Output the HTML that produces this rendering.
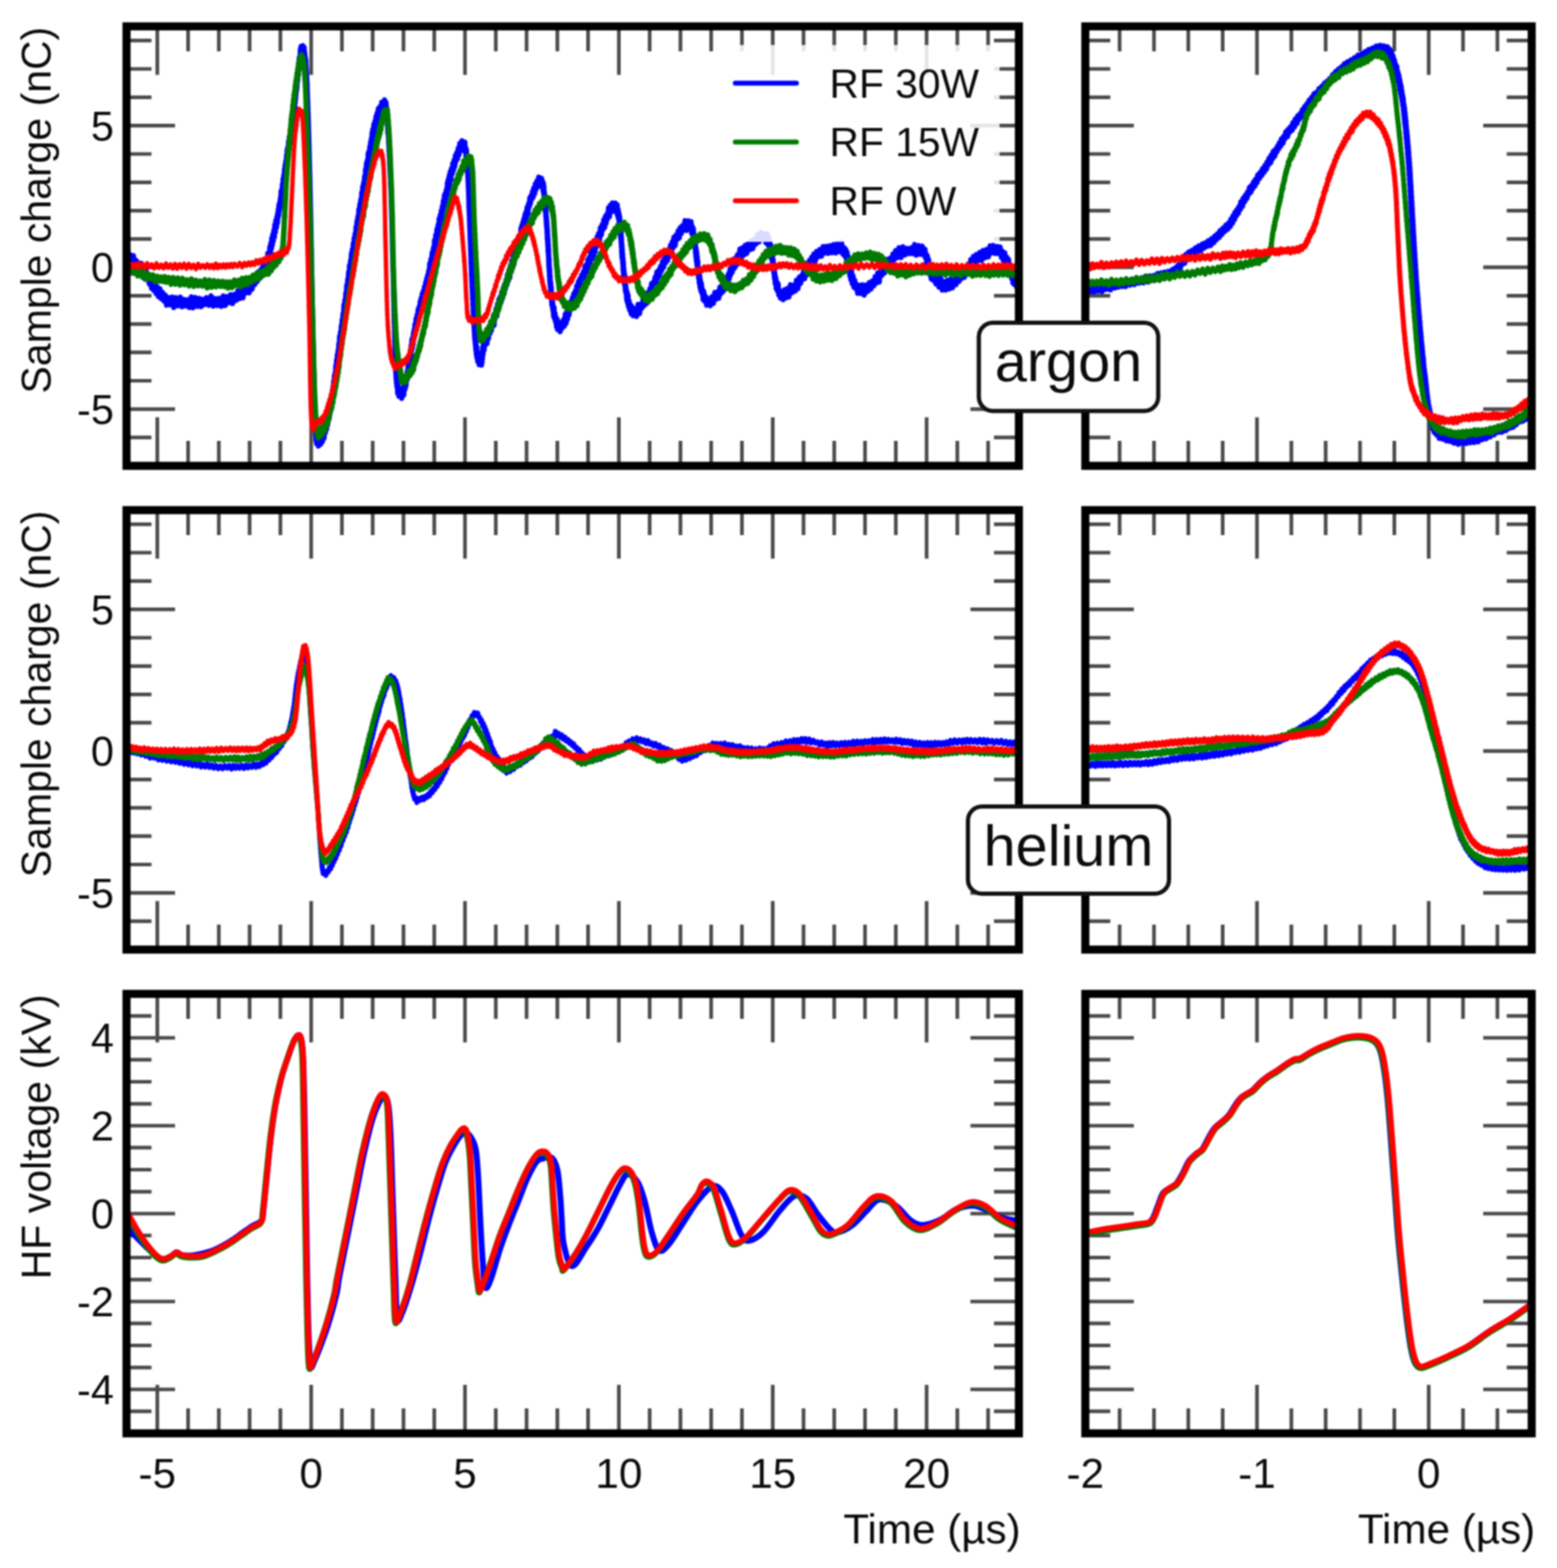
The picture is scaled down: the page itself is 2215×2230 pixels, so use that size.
<!DOCTYPE html><html><head><meta charset="utf-8"><style>html,body{margin:0;padding:0;background:#fff;overflow:hidden}#w{filter:blur(1px)}svg{display:block;font-family:"Liberation Sans",Arial,sans-serif;fill:#111}text{fill:#0a0a0a}</style></head><body><div id="w"><svg width="2215" height="2230" viewBox="0 0 2215 2230">
<rect width="100%" height="100%" fill="#fff"/>
<clipPath id="c0L"><rect x="180.0" y="37.5" width="1269.5" height="625.0"/></clipPath>
<path d="M223.8,37.5v69.0M223.8,662.5v-69.0M267.6,37.5v35.5M267.6,662.5v-35.5M311.3,37.5v35.5M311.3,662.5v-35.5M355.1,37.5v35.5M355.1,662.5v-35.5M398.9,37.5v35.5M398.9,662.5v-35.5M442.7,37.5v69.0M442.7,662.5v-69.0M486.4,37.5v35.5M486.4,662.5v-35.5M530.2,37.5v35.5M530.2,662.5v-35.5M574.0,37.5v35.5M574.0,662.5v-35.5M617.8,37.5v35.5M617.8,662.5v-35.5M661.5,37.5v69.0M661.5,662.5v-69.0M705.3,37.5v35.5M705.3,662.5v-35.5M749.1,37.5v35.5M749.1,662.5v-35.5M792.9,37.5v35.5M792.9,662.5v-35.5M836.6,37.5v35.5M836.6,662.5v-35.5M880.4,37.5v69.0M880.4,662.5v-69.0M924.2,37.5v35.5M924.2,662.5v-35.5M968.0,37.5v35.5M968.0,662.5v-35.5M1011.7,37.5v35.5M1011.7,662.5v-35.5M1055.5,37.5v35.5M1055.5,662.5v-35.5M1099.3,37.5v69.0M1099.3,662.5v-69.0M1143.1,37.5v35.5M1143.1,662.5v-35.5M1186.8,37.5v35.5M1186.8,662.5v-35.5M1230.6,37.5v35.5M1230.6,662.5v-35.5M1274.4,37.5v35.5M1274.4,662.5v-35.5M1318.2,37.5v69.0M1318.2,662.5v-69.0M1361.9,37.5v35.5M1361.9,662.5v-35.5M1405.7,37.5v35.5M1405.7,662.5v-35.5M180.0,622.2h35.5M1449.5,622.2h-35.5M180.0,581.9h69.0M1449.5,581.9h-69.0M180.0,541.5h35.5M1449.5,541.5h-35.5M180.0,501.2h35.5M1449.5,501.2h-35.5M180.0,460.9h35.5M1449.5,460.9h-35.5M180.0,420.6h35.5M1449.5,420.6h-35.5M180.0,380.2h69.0M1449.5,380.2h-69.0M180.0,339.9h35.5M1449.5,339.9h-35.5M180.0,299.6h35.5M1449.5,299.6h-35.5M180.0,259.3h35.5M1449.5,259.3h-35.5M180.0,219.0h35.5M1449.5,219.0h-35.5M180.0,178.6h69.0M1449.5,178.6h-69.0M180.0,138.3h35.5M1449.5,138.3h-35.5M180.0,98.0h35.5M1449.5,98.0h-35.5M180.0,57.7h35.5M1449.5,57.7h-35.5" stroke="#4a4a4a" stroke-width="5.2" fill="none" stroke-linecap="butt"/>
<g clip-path="url(#c0L)" fill="none" stroke-linejoin="round" stroke-linecap="round">
<path d="M180.0,366.1L181.8,355.5L183.7,369.8L185.6,362.6L187.7,374.1L189.8,363.6L191.7,378.8L193.7,370.3L195.7,382.0L197.7,373.9L199.7,384.4L201.2,374.7L202.8,391.5L204.4,381.8L206.0,396.3L207.6,384.6L209.2,397.7L210.9,391.2L212.5,403.7L214.1,397.2L215.7,410.0L217.3,397.8L219.0,413.1L220.6,402.2L222.3,417.6L223.9,408.3L225.5,421.7L227.5,410.8L229.4,424.8L231.3,416.0L233.2,427.9L235.0,419.6L237.0,433.9L239.3,423.2L242.1,433.5L244.8,422.5L247.3,437.3L250.1,423.2L253.2,434.8L256.5,422.5L259.1,436.3L261.7,426.0L264.3,435.2L266.9,426.3L269.6,437.3L272.2,422.3L274.7,437.6L277.9,423.1L281.2,435.7L283.7,424.4L286.2,436.1L288.8,425.8L291.3,433.2L293.8,423.3L297.1,434.1L300.3,420.9L303.4,435.3L306.3,424.7L309.1,434.5L311.7,424.3L314.8,435.7L317.6,421.0L320.4,434.4L323.1,421.9L325.6,430.4L328.2,419.1L330.8,431.7L333.4,418.9L335.9,427.2L338.4,413.8L340.8,424.6L343.2,411.1L345.6,423.5L347.9,407.6L350.1,416.4L352.3,403.1L354.4,416.5L356.5,399.4L358.5,411.4L360.5,398.8L362.4,404.7L364.3,391.5L366.1,400.3L367.9,386.4L369.6,395.9L371.3,383.2L372.9,390.8L374.2,377.5L375.5,388.2L376.7,374.3L377.9,382.3L379.0,368.1L380.1,377.3L381.1,360.2L381.9,370.8L382.6,359.2L383.3,368.0L384.0,351.0L384.7,359.4L385.4,345.8L386.1,353.3L386.7,338.6L387.4,348.3L388.1,333.7L388.8,342.6L389.6,328.0L390.3,337.1L391.0,319.8L391.7,330.0L392.4,313.7L393.2,323.2L393.9,308.7L394.6,317.3L395.1,303.5L395.6,309.5L396.0,297.5L396.5,305.7L397.0,291.0L397.5,298.9L398.0,288.1L398.4,294.5L398.9,282.1L399.4,289.0L399.9,272.2L400.4,284.1L400.9,269.7L401.3,277.0L401.8,262.3L402.3,271.2L402.8,254.5L403.3,262.9L403.8,249.3L404.3,255.1L404.8,241.1L405.2,248.8L405.7,234.3L406.2,245.3L406.7,229.2L407.2,237.5L407.7,221.0L408.1,230.4L408.6,213.3L409.1,221.7L409.6,209.3L410.1,215.8L410.6,201.1L411.1,211.7L411.6,194.8L412.2,204.5L412.7,191.7L413.2,195.9L413.7,183.3L414.1,193.3L414.6,178.2L415.1,183.6L415.6,168.1L416.0,178.4L416.5,163.2L416.9,173.3L417.3,156.0L417.7,167.5L418.1,149.9L418.5,159.5L418.8,143.3L419.2,155.6L419.5,139.7L419.8,146.5L420.2,134.7L420.5,140.1L420.8,127.8L421.1,134.2L421.4,121.3L421.7,129.3L422.0,114.4L422.3,125.0L422.6,111.5L422.9,116.8L423.2,104.0L423.4,114.3L423.9,96.9L424.4,107.0L424.8,89.8L425.3,97.5L425.7,82.8L426.1,94.4L426.6,79.7L427.0,85.0L427.4,69.8L427.9,79.5L428.4,66.1L429.1,73.7L430.8,65.0L431.9,76.9L432.6,67.4L433.1,82.4L433.5,74.7L433.9,91.2L434.3,81.0L434.7,93.9L435.0,85.5L435.3,102.8L435.5,95.8L435.7,106.3L435.9,101.7L436.1,114.3L436.2,107.4L436.4,120.2L436.5,112.0L436.7,128.0L436.8,117.8L437.0,133.1L437.1,127.3L437.3,141.9L437.4,136.2L437.5,150.8L437.7,144.0L437.8,161.2L438.0,152.7L438.1,167.9L438.3,161.1L438.4,177.9L438.5,167.5L438.5,183.9L438.6,171.9L438.7,186.6L438.8,176.9L438.9,191.3L439.0,185.7L439.0,199.2L439.1,189.1L439.2,205.4L439.3,194.5L439.4,211.5L439.5,202.4L439.5,218.9L439.6,207.4L439.7,224.0L439.8,215.2L439.9,228.5L439.9,219.9L440.0,236.7L440.1,227.0L440.2,240.8L440.3,234.2L440.4,250.5L440.4,242.1L440.5,256.6L440.6,246.7L440.7,263.9L440.8,254.0L440.9,269.3L440.9,261.0L441.0,275.4L441.1,267.9L441.2,283.4L441.3,277.2L441.4,290.4L441.4,282.3L441.5,300.9L441.6,289.6L441.7,304.6L441.8,298.6L441.8,312.4L441.9,305.3L442.0,320.1L442.1,312.9L442.2,327.8L442.2,320.4L442.3,337.4L442.4,328.4L442.5,345.1L442.6,339.9L442.6,352.4L442.7,347.1L442.8,362.8L442.9,354.0L443.0,369.3L443.0,363.3L443.1,378.1L443.2,372.8L443.3,389.1L443.4,378.4L443.4,396.9L443.5,389.7L443.6,402.8L443.7,397.9L443.8,412.7L443.8,404.8L443.9,420.4L444.0,412.6L444.1,426.3L444.2,422.4L444.2,434.6L444.3,429.5L444.4,445.6L444.5,435.1L444.6,449.8L444.6,445.7L444.7,458.5L444.8,451.3L444.9,465.3L445.0,457.3L445.0,475.3L445.1,466.4L445.2,480.9L445.3,472.6L445.4,486.9L445.4,482.1L445.5,493.8L445.6,486.9L445.7,503.6L445.8,496.4L445.8,512.0L445.9,503.9L446.0,518.4L446.1,508.0L446.2,522.4L446.3,515.5L446.3,529.2L446.4,525.1L446.5,536.4L446.6,528.1L446.7,543.7L446.7,536.8L446.8,550.8L446.9,542.4L447.0,558.4L447.1,547.9L447.1,561.6L447.2,553.7L447.3,566.9L447.4,561.2L447.5,574.5L447.5,565.1L447.6,580.3L447.7,571.9L447.8,585.2L448.0,580.4L448.1,593.6L448.3,586.3L448.4,604.1L448.5,596.0L448.7,610.3L448.8,602.0L448.9,614.5L449.1,607.4L449.3,619.1L449.5,612.2L449.7,626.6L450.1,615.9L450.5,630.9L451.3,623.4L453.1,634.3L454.7,621.0L456.1,631.8L457.2,618.7L458.6,628.3L459.7,612.3L460.9,623.2L461.9,607.6L462.9,615.3L463.8,601.4L464.6,610.1L465.4,598.4L466.0,604.1L466.6,593.3L467.2,598.5L467.8,586.7L468.4,594.4L469.0,577.7L469.6,586.7L470.2,571.8L470.8,582.3L471.2,568.6L471.6,574.2L472.0,562.8L472.5,568.7L472.9,555.3L473.4,563.4L473.8,550.1L474.3,556.4L474.8,542.2L475.3,553.5L475.8,534.6L476.2,545.0L476.8,530.6L477.3,535.1L477.8,520.2L478.3,530.7L478.8,512.6L479.4,520.1L479.9,504.7L480.4,513.1L481.0,498.7L481.5,504.9L482.1,489.1L482.7,494.5L483.2,478.3L483.8,487.5L484.4,472.4L485.0,477.3L485.6,463.4L486.2,469.2L486.8,455.0L487.4,459.0L488.1,445.9L488.7,451.4L489.4,433.4L490.0,441.7L490.7,427.0L491.3,430.6L492.0,417.0L492.7,423.7L493.3,405.9L494.0,413.0L494.7,397.6L495.3,402.5L496.0,387.3L496.7,396.9L497.3,377.3L498.0,387.4L498.7,370.9L499.3,378.0L500.0,360.5L500.6,367.9L501.3,354.7L502.0,364.1L502.6,346.4L503.3,356.1L504.0,338.5L504.6,344.4L505.3,332.3L506.0,337.3L506.6,322.7L507.3,329.0L508.0,314.1L508.6,322.5L509.3,307.8L510.0,314.1L510.6,297.8L511.3,307.4L512.0,290.4L512.6,297.9L513.3,283.8L514.0,292.1L514.7,274.0L515.4,283.9L516.0,265.8L516.7,273.1L517.4,259.9L518.1,264.6L518.7,251.2L519.4,260.0L520.1,241.2L520.7,248.1L521.4,232.2L522.0,241.7L522.7,227.9L523.3,235.9L523.9,218.1L524.5,226.1L525.1,215.3L525.7,221.6L526.2,208.6L526.8,215.7L527.3,202.1L527.8,211.2L528.4,196.9L528.9,204.7L529.4,188.7L529.9,201.0L530.4,184.0L531.2,193.6L531.9,177.1L532.7,187.3L533.4,172.6L534.2,179.7L535.0,165.4L535.8,176.9L536.6,160.7L537.5,170.9L538.3,154.4L539.5,165.0L540.6,152.0L541.7,158.5L543.1,145.6L544.8,154.2L547.2,142.1L548.4,158.6L549.1,146.1L549.6,164.3L549.9,152.2L550.3,168.0L550.6,159.0L550.9,171.9L551.1,165.9L551.4,179.6L551.7,170.4L551.9,189.1L552.2,181.1L552.5,193.5L552.7,186.6L553.0,204.2L553.3,197.2L553.5,214.6L553.8,208.7L553.9,222.1L554.0,211.7L554.2,225.8L554.3,216.7L554.4,231.3L554.5,224.3L554.7,238.4L554.8,229.4L554.9,242.9L555.0,232.3L555.1,246.5L555.3,238.5L555.4,251.4L555.5,243.8L555.6,255.6L555.7,248.9L555.8,264.3L555.9,252.3L556.1,269.2L556.2,262.7L556.3,274.2L556.4,265.4L556.5,278.8L556.6,269.5L556.6,284.2L556.7,277.7L556.8,291.0L556.9,279.6L557.0,295.2L557.0,286.0L557.1,303.0L557.2,290.7L557.3,308.4L557.3,298.2L557.4,311.1L557.5,303.8L557.5,315.6L557.6,309.0L557.7,323.6L557.7,313.2L557.8,328.1L557.9,320.5L557.9,331.2L558.0,324.3L558.1,337.5L558.1,327.9L558.2,345.2L558.2,335.0L558.3,347.7L558.4,338.5L558.4,357.0L558.5,343.7L558.6,362.3L558.6,351.3L558.7,365.5L558.8,356.2L558.8,370.4L558.9,362.6L559.0,376.1L559.0,365.3L559.1,381.6L559.2,372.4L559.2,386.2L559.3,376.7L559.4,390.9L559.4,381.5L559.5,396.2L559.6,388.6L559.6,402.2L559.7,393.5L559.8,407.7L559.8,402.5L559.9,416.5L560.0,406.6L560.0,421.3L560.1,413.0L560.2,427.7L560.2,415.6L560.3,430.4L560.4,420.7L560.4,436.5L560.5,426.3L560.5,441.9L560.6,433.1L560.7,449.2L560.7,439.7L560.8,451.9L560.9,445.1L560.9,458.9L561.1,449.4L561.2,466.3L561.3,462.7L561.4,475.7L561.6,468.4L561.7,486.7L561.8,478.0L561.9,491.3L562.0,485.5L562.1,500.2L562.2,492.1L562.3,509.0L562.4,500.1L562.5,514.4L562.6,505.0L562.7,520.2L562.8,514.8L563.0,528.9L563.1,521.3L563.2,532.0L563.4,523.6L563.5,537.9L563.8,531.9L564.1,544.8L564.4,536.5L564.8,550.1L565.2,541.9L565.8,559.0L566.4,549.9L567.5,563.5L569.0,552.3L571.5,566.5L573.3,551.9L574.4,561.6L575.2,544.5L576.1,553.6L576.8,541.4L577.5,548.9L578.2,534.9L578.7,540.5L579.3,528.8L579.8,534.2L580.4,522.6L580.9,530.2L581.5,515.9L582.1,521.2L582.6,505.5L583.2,515.6L583.8,498.9L584.4,508.7L585.0,491.2L585.5,498.1L586.1,483.0L586.6,494.7L587.2,480.0L587.7,489.3L588.3,473.6L588.8,482.7L589.3,468.9L589.8,477.6L590.3,461.6L591.1,470.0L591.9,453.5L592.6,463.6L593.4,448.0L594.1,456.2L594.9,440.4L595.6,452.7L596.3,436.4L597.0,446.7L597.8,429.0L598.5,438.4L599.1,424.2L599.9,433.6L600.7,418.0L601.5,428.8L602.3,413.8L603.1,421.7L604.0,407.7L604.7,417.7L605.5,402.1L606.4,409.0L607.0,396.4L607.7,404.8L608.3,391.8L609.1,397.8L609.8,385.4L610.6,390.4L611.4,374.7L612.2,383.2L613.1,368.4L613.9,376.2L614.8,359.6L615.7,366.0L616.6,352.8L617.4,358.3L618.3,341.8L619.2,349.1L620.0,334.2L620.9,340.5L621.7,326.0L622.5,335.9L623.3,320.1L624.1,328.1L624.8,311.0L625.6,318.3L626.4,305.8L627.1,315.5L627.9,299.6L628.6,309.1L629.3,293.6L630.1,298.6L630.8,285.8L631.5,293.5L632.3,277.7L633.0,288.7L633.7,274.8L634.4,281.7L635.1,269.9L635.8,276.9L636.5,260.1L637.1,271.0L637.8,255.2L638.5,267.0L639.1,250.1L639.8,261.4L640.4,244.8L641.4,255.9L642.3,239.8L643.3,247.1L644.2,232.5L645.1,242.0L646.0,228.0L646.9,236.4L647.8,221.5L648.6,229.6L649.7,217.6L650.8,225.9L651.9,211.0L652.9,220.2L654.2,203.9L655.7,214.3L657.3,200.3L659.7,214.2L661.2,202.3L662.0,215.6L662.6,210.6L663.1,224.5L663.5,213.3L663.9,230.5L664.2,219.4L664.5,234.2L664.8,225.2L665.0,241.3L665.2,232.2L665.4,247.0L665.5,238.9L665.7,252.6L665.9,245.3L666.0,259.1L666.2,252.2L666.3,267.1L666.5,258.3L666.6,274.0L666.7,268.9L666.9,282.1L667.0,276.9L667.1,293.7L667.3,284.6L667.4,300.2L667.6,292.1L667.7,306.0L667.9,301.2L668.0,315.3L668.2,307.2L668.3,324.1L668.5,315.0L668.6,331.1L668.8,323.1L668.9,340.2L669.1,334.6L669.2,348.0L669.4,341.2L669.5,355.7L669.7,348.4L669.8,363.5L670.0,357.2L670.1,375.9L670.3,366.1L670.5,381.3L670.6,375.5L670.8,392.0L671.0,383.1L671.2,400.7L671.4,391.5L671.6,409.1L671.8,400.7L672.0,417.4L672.2,409.6L672.4,426.1L672.6,420.2L672.8,434.0L673.0,426.1L673.2,444.3L673.4,436.9L673.6,452.2L673.8,443.8L674.1,461.2L674.3,450.3L674.5,465.9L674.7,460.9L674.9,473.3L675.1,463.8L675.3,480.1L675.5,471.5L675.7,484.6L676.0,479.2L676.3,490.4L676.6,484.8L676.9,496.9L677.2,490.2L677.7,504.1L678.1,493.2L678.5,508.6L679.1,501.5L679.7,513.7L680.5,504.5L681.6,518.5L683.4,510.7L684.9,519.2L685.4,506.7L685.6,516.0L685.9,500.8L686.3,510.5L686.6,494.2L687.1,504.4L687.8,488.1L688.6,498.0L689.6,484.0L690.7,490.4L691.9,479.1L692.8,488.5L693.8,470.7L694.8,481.4L695.8,468.3L696.9,474.6L697.9,464.1L698.9,470.4L699.9,458.8L700.8,464.4L701.8,450.6L702.8,462.4L703.8,447.7L704.8,452.3L705.8,439.3L706.8,449.2L707.8,432.6L708.9,441.1L709.9,425.5L710.9,434.5L711.9,422.1L712.9,429.6L713.9,415.2L714.9,423.9L716.0,409.5L717.0,417.9L718.0,404.3L719.0,410.5L720.0,398.6L721.0,405.2L722.0,390.5L723.0,399.3L724.1,384.2L725.1,395.0L726.1,378.2L727.1,386.2L728.1,371.3L729.1,381.1L730.1,364.7L731.2,375.6L732.2,356.3L733.2,367.5L734.2,350.9L735.2,358.9L735.9,345.6L736.6,354.4L737.2,339.0L738.2,349.7L739.3,334.8L740.3,340.7L741.3,324.3L742.0,337.1L742.7,320.1L743.4,329.2L744.1,315.6L744.8,323.9L745.5,311.1L746.2,321.2L746.9,305.6L747.6,313.8L748.2,301.9L748.9,309.0L749.9,295.0L750.9,305.1L751.9,290.1L752.8,294.5L753.7,281.7L754.6,289.3L755.4,278.8L756.5,283.5L757.5,272.5L758.5,280.2L759.4,267.6L760.6,275.5L761.6,261.7L762.8,268.9L763.9,257.6L765.1,265.6L766.4,251.9L768.4,260.2L770.4,253.5L771.4,265.6L772.1,258.4L772.6,271.1L773.0,260.7L773.4,274.4L773.7,265.2L774.0,283.8L774.4,273.4L774.7,289.5L775.0,280.0L775.3,294.0L775.6,287.9L775.9,301.2L776.2,291.1L776.5,307.4L776.7,300.0L777.0,313.0L777.2,307.5L777.4,319.8L777.7,312.6L777.9,325.3L778.1,317.8L778.3,332.2L778.5,324.2L778.6,339.2L778.8,327.2L779.0,343.7L779.2,336.4L779.4,350.1L779.6,340.3L779.8,358.3L780.0,347.6L780.2,363.0L780.4,354.4L780.6,373.0L780.7,363.5L780.9,379.8L781.1,368.2L781.3,384.9L781.5,379.7L781.8,393.4L782.0,383.0L782.2,401.3L782.5,392.8L782.7,406.4L783.0,399.8L783.3,412.5L783.5,403.4L783.8,420.6L784.1,408.9L784.4,424.8L784.7,418.7L785.1,433.1L785.4,423.7L785.7,435.6L786.1,429.3L786.5,440.7L787.0,435.2L787.6,449.7L788.1,437.3L788.9,453.1L789.6,446.0L790.3,457.2L791.1,452.1L791.8,464.7L792.5,453.8L793.3,468.5L794.4,460.5L796.9,471.7L798.6,458.5L800.1,466.2L801.7,454.7L803.0,463.5L804.2,447.0L805.4,459.6L806.4,443.2L807.4,453.7L808.5,438.6L809.5,447.8L810.5,431.7L811.5,441.1L812.5,428.7L813.5,438.2L814.4,423.3L815.3,431.0L816.3,418.0L817.3,426.3L818.4,414.2L819.5,423.1L820.5,406.8L821.7,418.2L823.0,400.5L824.0,412.6L825.1,396.5L826.3,405.6L827.5,391.4L828.8,398.8L829.9,386.9L831.0,396.5L832.2,379.3L833.5,389.1L834.5,376.3L835.5,384.4L836.5,369.3L837.6,380.8L838.6,366.0L839.7,373.4L840.9,358.1L842.0,368.1L843.1,353.0L844.2,364.2L845.4,348.1L846.5,358.3L847.6,342.5L848.6,350.6L849.6,336.8L850.6,347.7L851.6,332.3L852.9,341.9L854.2,324.1L855.5,334.0L856.7,319.4L857.9,326.5L859.0,312.7L860.2,323.3L861.2,308.0L862.3,317.5L863.3,305.0L864.6,311.0L865.8,295.4L867.0,308.0L868.3,292.1L869.8,301.5L871.3,288.7L873.2,298.1L875.5,288.8L876.9,302.1L877.9,291.2L878.7,306.6L879.3,298.0L879.9,311.2L880.4,303.1L881.0,316.6L881.4,307.9L881.8,320.9L882.1,316.7L882.5,328.4L882.8,321.5L883.0,338.2L883.2,325.2L883.4,340.6L883.6,332.0L883.8,345.2L884.0,338.1L884.1,351.3L884.3,344.6L884.5,359.9L884.7,348.3L884.9,366.2L885.1,353.8L885.3,368.3L885.6,360.7L885.9,374.7L886.2,367.5L886.5,384.6L886.8,373.5L887.1,390.3L887.4,382.2L887.7,396.8L888.0,387.4L888.3,402.6L888.6,391.9L888.9,406.2L889.3,401.1L889.7,413.3L890.1,405.3L890.5,416.6L891.0,412.1L891.6,426.4L892.2,416.0L892.8,430.7L893.4,419.8L894.1,435.8L894.9,428.3L895.8,440.8L896.9,433.5L897.9,446.1L899.1,436.2L900.8,448.9L903.3,439.6L905.5,450.0L907.8,433.0L909.8,446.1L911.5,432.5L913.3,438.1L915.1,424.9L916.9,434.3L918.7,421.0L920.4,431.3L922.0,416.4L923.3,426.4L924.5,411.0L925.7,421.0L926.9,403.6L928.2,415.0L929.4,401.5L930.6,410.3L931.9,394.5L933.1,402.4L934.4,387.3L935.7,396.2L937.0,384.5L938.3,392.0L939.7,378.9L941.1,385.1L942.5,372.1L943.9,380.6L945.4,367.5L946.8,374.1L948.3,361.5L949.7,370.5L951.1,355.3L952.5,365.0L953.9,349.1L955.2,359.9L956.4,344.0L957.6,352.2L958.8,337.4L960.4,349.2L961.9,334.3L963.4,340.8L964.8,328.4L966.2,338.6L967.6,323.9L969.2,332.3L970.8,321.1L972.6,327.3L974.6,313.9L976.7,327.7L979.2,314.1L981.5,324.6L983.0,315.2L984.1,331.7L985.0,322.6L985.7,337.6L986.3,325.4L987.0,342.8L987.6,334.4L988.0,346.0L988.4,338.3L988.8,351.4L989.1,344.8L989.5,359.5L989.8,351.6L990.1,365.3L990.4,354.8L990.7,371.4L991.1,359.0L991.5,376.7L991.8,365.1L992.2,382.5L992.6,371.7L993.0,387.6L993.5,380.3L993.9,395.6L994.4,384.6L994.8,402.4L995.3,391.9L995.9,408.7L996.4,398.5L997.0,413.4L997.8,403.5L998.6,417.0L999.5,412.0L1000.3,426.1L1001.2,415.1L1002.2,428.0L1003.5,421.1L1005.3,434.0L1007.8,425.1L1010.3,434.8L1012.7,422.3L1014.8,431.6L1017.0,416.1L1019.2,425.3L1020.8,415.0L1022.5,424.0L1024.2,408.4L1025.8,417.6L1027.5,404.3L1029.0,414.3L1030.6,401.4L1032.2,406.1L1033.8,393.9L1035.4,403.7L1036.4,389.6L1037.5,396.2L1038.6,382.7L1039.6,390.6L1040.7,379.3L1041.7,386.8L1043.3,370.5L1044.8,381.4L1046.3,367.1L1047.8,377.1L1049.2,362.4L1051.0,369.1L1052.7,354.3L1054.4,367.3L1056.3,352.4L1058.3,362.8L1060.2,349.0L1062.3,360.5L1064.4,346.5L1066.8,355.1L1068.8,342.7L1070.9,353.7L1073.2,340.0L1075.4,347.2L1077.7,333.9L1079.9,344.0L1082.5,330.6L1084.8,339.8L1087.6,332.6L1089.6,345.1L1091.3,332.6L1092.6,347.7L1093.5,337.6L1094.3,354.8L1095.2,343.5L1096.0,357.5L1096.8,349.5L1097.4,367.0L1097.9,357.4L1098.4,370.7L1098.9,364.2L1099.3,376.5L1099.8,369.5L1100.2,382.9L1100.6,377.4L1101.0,388.9L1101.4,380.6L1101.8,395.6L1102.3,389.1L1102.8,402.9L1103.6,395.0L1104.3,410.3L1105.2,401.6L1106.0,413.5L1106.9,403.8L1108.0,419.4L1109.0,413.4L1110.3,423.9L1111.8,416.5L1114.1,426.0L1115.9,412.2L1117.9,423.8L1119.9,410.5L1122.3,422.4L1124.6,405.0L1127.0,416.1L1129.1,405.7L1131.1,413.9L1133.1,398.8L1135.1,410.7L1137.0,394.4L1138.9,402.9L1140.3,392.0L1141.7,397.7L1143.1,386.2L1144.6,396.3L1146.0,380.8L1147.4,391.2L1148.8,374.4L1150.2,384.6L1151.6,370.4L1152.9,380.3L1154.7,365.9L1156.3,373.0L1157.9,361.3L1159.9,371.1L1161.8,357.8L1164.0,365.2L1166.1,355.1L1168.6,364.3L1171.0,350.7L1173.3,359.9L1175.8,350.3L1178.3,360.3L1180.9,349.5L1183.5,359.3L1186.2,347.8L1188.9,359.8L1191.7,345.6L1194.4,358.0L1197.1,344.7L1199.3,361.4L1200.8,352.1L1202.1,364.3L1203.1,354.7L1204.0,367.5L1204.9,358.4L1205.7,373.6L1206.4,364.3L1207.1,380.5L1207.6,373.2L1208.1,383.1L1208.6,377.0L1209.1,392.4L1209.7,383.0L1210.5,397.6L1211.4,384.8L1212.4,403.3L1213.5,392.4L1214.7,408.2L1215.9,398.6L1217.1,410.2L1218.5,404.4L1220.2,417.1L1222.2,405.7L1224.5,417.3L1227.0,405.1L1229.5,419.7L1232.0,405.6L1234.5,414.4L1236.7,402.0L1239.0,411.2L1241.0,399.9L1243.1,406.4L1245.1,393.6L1246.9,402.6L1248.8,388.3L1250.7,401.0L1252.7,382.6L1254.7,391.7L1256.6,381.2L1258.5,388.0L1260.3,372.9L1262.0,384.1L1263.6,368.8L1265.3,379.3L1266.9,367.0L1268.7,375.2L1270.4,361.2L1272.2,369.0L1274.2,356.5L1276.5,366.4L1279.0,352.4L1281.8,366.3L1284.6,351.0L1287.5,362.5L1290.4,353.4L1293.3,360.7L1296.1,352.5L1298.6,360.7L1301.1,347.9L1303.6,362.8L1306.6,349.2L1309.3,361.6L1312.0,350.1L1314.2,362.8L1315.8,354.4L1316.9,367.2L1317.8,361.6L1318.5,374.7L1319.2,364.3L1320.1,378.9L1320.9,369.2L1321.6,383.5L1322.2,377.3L1322.9,390.5L1323.7,379.8L1324.8,396.4L1326.2,387.6L1327.8,398.7L1329.6,388.7L1331.6,403.8L1333.7,393.3L1335.8,408.3L1338.1,395.4L1340.5,412.6L1342.8,400.5L1345.2,412.5L1347.9,398.6L1350.4,410.9L1352.8,396.7L1355.0,409.3L1357.4,392.4L1359.9,404.8L1362.4,389.9L1364.4,400.2L1366.3,389.7L1368.2,395.8L1370.1,386.1L1371.9,394.4L1373.7,380.5L1375.6,389.1L1377.5,375.9L1379.3,381.8L1381.1,369.2L1383.0,379.7L1384.9,364.7L1386.7,377.1L1389.1,362.0L1391.5,370.2L1393.9,359.0L1396.3,370.5L1398.7,356.3L1401.0,366.6L1403.6,354.9L1406.0,365.3L1408.5,349.8L1410.7,359.8L1413.1,349.1L1415.9,360.4L1418.6,350.6L1420.8,360.7L1422.7,351.2L1424.7,366.2L1426.2,357.4L1427.8,372.3L1429.3,359.8L1430.7,375.8L1432.1,365.7L1433.6,379.2L1434.7,369.0L1435.7,384.1L1436.6,376.8L1437.5,388.4L1438.4,382.0L1439.2,395.9L1440.0,387.6L1441.1,402.6L1442.2,389.4L1443.4,404.8L1445.0,397.3L1446.6,408.8L1448.2,398.4L1449.8,412.3L1451.5,406.2L1451.5,416.0" stroke="#0000ff" stroke-width="7.5"/>
<path d="M180.0,388.6L182.6,378.5L185.2,388.6L187.6,379.3L190.5,388.9L193.2,383.5L196.0,392.3L199.0,385.6L202.1,393.8L205.2,385.2L208.3,397.5L211.4,389.7L214.4,396.6L217.4,390.9L220.6,400.5L223.8,393.0L227.0,399.9L229.5,393.9L232.0,400.5L234.4,393.4L236.9,401.5L240.2,394.7L243.4,404.4L246.6,394.7L249.8,404.2L253.0,395.3L256.2,405.5L259.4,395.8L262.7,405.0L265.9,397.9L269.1,406.7L272.3,396.5L275.5,407.3L278.7,398.5L281.9,406.5L285.1,399.6L288.3,406.9L291.5,397.7L294.8,409.5L298.0,398.3L301.2,408.5L304.4,399.1L307.6,407.9L310.8,399.9L314.2,407.4L316.7,400.1L319.3,407.6L321.9,401.0L324.4,409.7L326.9,400.8L330.2,409.0L333.4,398.4L336.4,406.1L339.2,398.5L341.8,408.4L344.6,395.8L347.2,405.7L350.0,395.0L352.6,404.3L355.2,394.5L357.8,401.5L360.2,391.3L362.7,399.0L365.2,388.5L367.7,396.9L370.3,386.4L372.7,393.2L375.1,384.9L377.3,390.6L379.8,381.2L382.0,389.9L384.1,378.0L386.0,385.2L387.8,373.9L389.5,380.1L391.2,370.5L392.9,377.1L394.8,365.6L396.7,372.3L398.4,361.7L399.7,367.1L400.7,356.0L401.4,362.6L402.0,350.7L402.3,356.8L402.6,343.5L402.9,350.4L403.1,336.8L403.3,343.1L403.5,330.2L403.7,335.6L403.8,324.7L403.9,331.5L404.1,320.7L404.2,325.6L404.3,312.6L404.4,321.3L404.6,307.8L404.8,313.9L404.9,303.4L405.1,309.1L405.2,298.4L405.3,301.1L405.5,289.7L405.6,296.9L405.8,285.7L405.9,289.9L406.1,278.9L406.2,284.8L406.4,272.3L406.5,277.6L406.7,264.0L406.9,269.5L407.0,258.8L407.2,263.4L407.4,251.5L407.7,256.7L407.9,244.8L408.1,250.4L408.4,237.5L408.7,241.1L409.0,229.0L409.2,236.3L409.5,221.9L409.8,227.6L410.2,213.7L410.5,221.3L410.8,209.0L411.1,212.2L411.5,201.3L411.8,204.1L412.2,193.0L412.5,197.0L412.9,184.2L413.2,191.0L413.6,178.3L413.9,181.0L414.3,168.8L414.7,176.6L415.0,163.3L415.4,167.4L415.8,157.9L416.2,163.0L416.6,149.3L417.0,155.8L417.5,141.4L417.9,148.5L418.3,134.5L418.7,140.1L419.1,129.8L419.6,134.2L420.0,121.7L420.4,129.3L420.8,115.8L421.2,122.8L421.6,111.3L421.9,116.3L422.5,104.5L423.0,110.9L423.5,98.4L424.1,104.8L424.6,90.8L425.1,99.8L425.5,88.5L426.2,92.2L426.8,81.3L427.5,88.6L429.0,78.0L430.6,89.2L431.3,81.9L431.9,94.5L432.3,89.6L432.7,98.8L433.0,95.5L433.3,107.0L433.6,101.1L433.8,114.0L434.0,106.3L434.1,117.8L434.3,113.2L434.4,124.3L434.6,120.4L434.7,130.3L434.9,126.1L435.0,138.5L435.2,134.5L435.3,147.8L435.4,143.5L435.6,155.7L435.7,152.4L435.9,164.7L436.1,160.9L436.1,171.4L436.2,166.9L436.3,176.6L436.4,171.3L436.5,182.6L436.6,175.7L436.7,188.7L436.8,182.4L436.9,194.6L437.0,187.8L437.1,201.3L437.2,194.7L437.4,205.5L437.5,202.9L437.6,214.6L437.7,208.8L437.8,222.3L438.0,215.1L438.1,228.9L438.2,222.0L438.4,236.7L438.5,229.7L438.6,244.1L438.8,238.0L438.9,249.5L439.0,246.7L439.2,257.1L439.3,251.8L439.4,266.2L439.5,262.4L439.7,271.9L439.8,268.8L439.9,281.4L440.1,276.9L440.2,287.4L440.3,284.9L440.5,297.9L440.6,291.0L440.7,305.3L440.8,300.1L440.9,312.3L441.1,307.7L441.2,318.4L441.3,312.5L441.4,325.3L441.5,321.7L441.6,332.2L441.7,326.6L441.8,340.6L441.9,334.3L442.0,347.9L442.1,341.5L442.2,354.8L442.3,347.2L442.3,359.4L442.4,355.6L442.5,366.9L442.6,361.5L442.7,374.3L442.8,367.4L442.8,380.7L442.9,374.1L443.0,385.7L443.1,380.2L443.2,394.5L443.2,387.0L443.3,400.1L443.4,394.7L443.5,404.5L443.5,400.4L443.6,412.4L443.7,405.8L443.7,418.4L443.8,412.7L443.9,423.4L444.0,420.6L444.0,429.7L444.1,426.0L444.2,436.3L444.3,432.7L444.3,442.8L444.4,438.2L444.5,450.5L444.6,442.3L444.6,457.1L444.7,449.1L444.8,459.9L444.9,456.7L445.0,469.3L445.0,461.3L445.1,474.9L445.2,469.1L445.3,479.0L445.3,475.6L445.4,486.2L445.5,480.9L445.6,492.2L445.7,487.9L445.7,496.9L445.8,493.2L445.9,506.0L446.0,498.5L446.0,511.0L446.1,506.5L446.2,516.6L446.3,511.5L446.4,523.2L446.4,517.3L446.5,529.6L446.6,523.6L446.7,535.1L446.7,530.1L446.8,538.8L446.9,533.0L447.0,546.6L447.1,540.0L447.1,549.7L447.2,543.1L447.3,556.1L447.5,553.3L447.6,566.9L447.8,560.8L448.0,573.2L448.2,569.0L448.3,581.0L448.5,576.1L448.7,588.1L448.9,583.3L449.0,595.3L449.2,589.4L449.4,601.2L449.5,593.2L449.8,607.7L450.1,601.8L450.4,613.4L450.7,605.4L451.2,616.7L451.7,610.2L452.6,622.9L454.7,615.7L456.4,620.1L457.7,608.4L459.0,617.2L460.2,606.2L461.6,612.9L462.7,602.1L463.9,607.4L464.9,595.1L465.9,602.6L466.7,588.8L467.6,596.7L468.5,582.9L469.1,590.0L469.9,577.3L470.6,584.4L471.3,572.2L472.1,579.4L472.8,566.9L473.6,572.9L474.3,558.9L474.9,564.7L475.4,554.3L475.9,560.6L476.4,548.9L477.0,553.6L477.5,542.9L478.0,549.0L478.5,536.8L479.1,542.2L479.6,532.6L480.1,536.1L480.7,523.4L481.2,529.8L481.8,516.3L482.3,522.5L482.9,509.8L483.4,512.2L484.0,501.0L484.6,505.9L485.1,491.8L485.7,496.0L486.2,484.4L486.8,489.0L487.3,476.8L487.9,480.5L488.4,470.4L489.0,474.8L489.5,462.6L490.1,468.7L490.6,454.9L491.2,459.5L491.7,448.8L492.3,453.1L492.8,440.7L493.4,445.2L493.9,432.3L494.4,439.1L495.0,426.0L495.5,432.7L496.1,418.9L496.6,423.9L497.2,411.5L497.7,418.6L498.3,407.2L498.9,411.6L499.4,400.6L500.0,404.1L500.6,393.5L501.2,395.9L501.7,385.3L502.3,391.5L502.9,377.3L503.5,384.8L504.1,370.2L504.7,376.7L505.3,363.8L505.9,370.9L506.5,358.4L507.1,362.4L507.7,350.0L508.3,353.7L508.9,341.9L509.5,348.9L510.1,336.7L510.8,342.3L511.4,329.2L512.0,335.1L512.6,322.0L513.3,328.5L513.9,315.0L514.6,318.8L515.2,307.0L515.9,312.1L516.5,300.5L517.2,307.3L517.8,292.9L518.5,297.3L519.2,285.4L519.8,293.2L520.5,279.5L521.1,283.8L521.8,272.6L522.4,277.8L523.1,267.1L523.7,272.1L524.4,258.5L525.0,264.0L525.6,251.4L526.2,256.8L526.9,244.6L527.5,252.6L528.1,239.6L528.7,243.7L529.3,233.3L529.9,237.4L530.5,226.8L531.1,231.4L531.7,220.7L532.3,226.2L532.9,215.4L533.5,220.9L534.1,209.0L534.7,216.2L535.2,203.7L535.8,209.8L536.4,197.5L537.0,203.2L537.6,193.0L538.2,198.1L538.8,187.9L539.4,193.9L540.0,181.2L540.6,190.1L541.3,178.0L541.9,184.6L542.5,172.7L543.4,176.6L544.3,165.1L545.1,170.5L546.0,158.4L547.0,167.1L548.3,156.2L550.3,165.0L551.1,156.2L551.5,167.6L551.8,162.9L552.1,175.4L552.4,171.1L552.6,182.0L552.8,177.2L553.0,186.8L553.2,182.1L553.5,195.6L553.7,190.4L553.9,202.5L554.2,199.4L554.4,213.1L554.5,207.2L554.7,216.9L554.8,211.1L554.9,222.7L555.0,218.8L555.1,228.3L555.3,221.9L555.4,233.6L555.5,228.8L555.6,241.1L555.7,236.0L555.9,247.7L556.0,242.1L556.1,251.4L556.2,248.5L556.3,259.2L556.4,254.4L556.5,264.9L556.6,258.3L556.7,269.1L556.8,263.1L556.9,275.0L557.0,271.0L557.1,282.9L557.2,276.8L557.3,288.4L557.4,280.8L557.5,293.7L557.6,287.2L557.7,297.4L557.7,292.2L557.8,303.9L557.9,299.0L558.0,307.5L558.0,303.5L558.1,312.7L558.2,307.3L558.2,321.1L558.3,313.5L558.3,324.4L558.4,319.1L558.5,331.5L558.5,323.5L558.6,335.9L558.6,329.2L558.7,342.4L558.7,334.6L558.8,345.5L558.8,339.1L558.9,350.2L558.9,346.9L559.0,356.1L559.0,351.4L559.1,362.6L559.1,355.2L559.2,366.8L559.3,360.3L559.3,374.5L559.4,365.6L559.4,379.1L559.5,371.7L559.6,383.1L559.6,378.2L559.7,387.9L559.8,383.1L559.8,392.9L559.9,388.6L560.1,402.4L560.2,394.9L560.2,404.5L560.3,400.9L560.4,410.7L560.5,406.2L560.6,416.6L560.7,410.5L560.8,421.6L560.9,415.5L561.0,425.9L561.1,418.8L561.2,431.2L561.2,423.8L561.3,437.0L561.4,429.4L561.5,442.2L561.7,437.5L561.9,450.7L562.2,446.8L562.4,459.2L562.6,457.5L562.8,470.8L563.0,464.2L563.2,476.6L563.4,472.4L563.7,485.6L563.9,481.5L564.1,493.9L564.3,486.7L564.6,497.7L564.8,491.1L565.1,502.3L565.4,497.8L565.8,511.1L566.2,503.7L566.6,515.7L567.1,511.0L567.6,521.0L568.1,515.1L568.6,527.4L569.1,522.9L569.5,533.2L569.9,526.1L570.3,539.2L570.8,532.3L571.6,544.1L573.8,535.4L576.2,544.2L578.3,533.5L580.2,538.5L581.8,527.5L583.4,534.2L585.0,525.1L586.1,530.6L587.3,517.9L588.4,526.2L589.5,511.8L590.6,517.5L591.7,505.3L592.4,512.4L593.2,503.1L593.9,507.3L594.7,498.1L595.4,501.1L596.2,492.4L596.9,497.4L597.6,487.1L598.4,492.3L599.1,481.5L599.8,484.8L600.5,475.2L601.2,478.6L601.9,470.0L602.6,474.2L603.3,464.0L603.9,467.1L604.6,458.3L605.2,463.5L605.9,451.8L606.5,456.0L607.1,443.6L607.7,448.9L608.3,438.7L608.9,444.9L609.5,431.4L610.1,436.2L610.7,425.4L611.3,432.1L612.0,419.0L612.6,423.9L613.2,413.7L613.8,419.6L614.4,406.8L615.0,411.0L615.6,401.0L616.2,406.2L616.8,392.9L617.4,400.2L618.0,387.5L618.7,392.9L619.3,382.5L619.9,387.8L620.5,375.9L621.1,380.3L621.7,368.4L622.3,376.2L622.9,361.8L623.5,367.3L624.1,355.9L624.8,362.5L625.4,352.0L626.1,357.2L626.7,344.2L627.4,349.9L628.1,339.5L628.8,343.8L629.5,331.8L630.2,338.2L630.9,323.8L631.7,329.3L632.4,317.2L633.2,323.6L633.9,313.5L634.7,318.2L635.5,304.4L636.2,311.9L637.0,300.2L637.7,305.4L638.5,291.5L639.2,300.2L639.9,287.6L640.6,294.2L641.3,283.0L642.0,289.1L642.7,276.4L643.7,282.4L644.6,269.0L645.6,274.5L646.5,264.5L647.4,268.0L648.3,257.2L649.2,262.4L650.1,254.3L651.1,259.4L652.0,247.9L653.2,255.1L654.4,243.0L655.7,247.7L657.0,237.1L658.3,242.9L659.7,229.1L661.0,238.4L662.4,227.2L663.9,233.2L665.6,221.7L668.0,228.4L669.9,222.8L670.6,234.9L671.0,227.3L671.4,239.8L671.7,235.6L672.0,246.0L672.2,240.9L672.4,251.5L672.6,245.0L672.7,259.1L672.9,253.3L673.0,264.7L673.2,262.3L673.3,275.7L673.4,271.6L673.6,282.1L673.7,280.3L673.8,291.8L673.9,288.7L674.1,301.8L674.2,297.3L674.4,312.6L674.5,308.0L674.7,322.1L674.8,315.2L675.0,330.8L675.2,323.3L675.4,339.0L675.6,331.7L675.8,346.0L676.0,340.0L676.2,353.8L676.4,349.6L676.6,361.5L676.8,357.0L677.1,372.2L677.3,368.5L677.5,381.5L677.7,375.0L678.0,387.9L678.2,383.6L678.4,397.9L678.6,390.3L678.8,403.1L679.0,400.4L679.2,411.0L679.4,408.7L679.5,418.7L679.7,414.9L679.8,428.5L680.0,422.5L680.1,437.3L680.2,430.9L680.3,445.7L680.4,441.2L680.5,453.8L680.7,447.5L680.8,460.5L681.0,454.1L681.1,467.4L681.3,460.3L681.5,471.4L681.8,466.3L682.2,477.1L682.7,471.4L683.5,484.7L685.1,477.9L687.5,484.2L689.2,474.4L690.7,478.9L692.3,468.9L693.8,476.1L695.4,464.6L696.7,470.2L698.0,457.8L699.4,465.5L700.4,455.0L701.5,459.2L702.5,447.6L703.6,455.5L704.6,444.9L705.6,449.8L706.7,438.9L707.7,444.9L708.7,431.9L709.7,439.9L710.7,427.9L711.7,432.0L712.7,422.4L713.7,425.9L714.7,414.2L715.7,420.8L716.7,408.3L717.7,414.8L718.7,403.5L719.7,406.7L720.7,397.3L721.7,402.6L722.7,389.8L723.7,395.6L724.8,383.2L725.8,389.5L726.8,377.2L727.8,385.7L728.8,373.9L729.8,379.4L730.8,366.9L731.8,372.5L732.8,362.8L733.8,366.9L734.8,357.3L735.8,364.2L736.8,352.8L738.2,358.9L739.5,346.7L740.9,352.7L742.2,341.1L743.6,346.8L744.9,334.4L746.3,340.7L747.6,329.8L748.7,334.2L749.7,325.6L750.7,331.1L751.8,319.6L752.8,324.6L753.9,314.2L754.9,319.9L755.9,311.4L757.3,317.3L758.6,304.8L759.9,310.4L761.1,299.2L762.6,305.8L764.0,295.4L765.7,302.6L767.3,289.8L769.1,296.8L770.8,286.4L772.6,293.1L774.4,281.2L776.2,288.8L778.5,280.5L780.7,288.5L782.2,282.1L783.3,296.0L784.3,287.4L785.1,300.0L785.8,293.3L786.4,306.1L786.8,301.0L787.2,310.6L787.5,306.1L787.7,316.6L787.9,311.4L788.1,324.3L788.2,316.0L788.4,327.8L788.5,322.6L788.7,335.2L788.9,327.8L789.1,338.8L789.3,333.2L789.5,344.2L789.6,338.6L789.8,351.0L790.0,346.3L790.2,358.7L790.4,353.3L790.6,363.9L790.8,359.6L791.0,369.7L791.2,365.0L791.5,377.7L791.7,369.4L792.0,380.8L792.2,377.0L792.5,386.1L792.8,381.4L793.0,393.2L793.3,385.2L793.6,397.8L793.9,392.8L794.4,402.3L794.8,397.8L795.2,410.4L795.7,402.8L796.2,414.0L796.6,410.3L797.3,419.3L797.9,414.6L798.5,426.8L799.4,420.3L800.3,430.1L801.4,425.9L802.9,435.6L804.6,429.6L806.9,439.4L809.4,431.0L811.9,440.2L814.6,431.6L817.2,438.2L819.2,427.5L820.8,434.9L822.4,423.9L823.7,428.4L825.0,419.3L826.1,425.1L827.3,412.3L828.5,419.7L829.9,407.9L831.0,414.4L832.2,401.9L833.5,408.8L835.0,399.4L836.5,403.0L838.1,392.2L839.7,395.9L840.9,386.4L842.0,393.0L843.1,379.7L844.2,386.1L845.4,377.9L847.0,381.3L848.6,369.5L850.1,375.3L851.6,365.1L852.9,370.8L854.2,360.6L855.4,366.0L857.0,356.0L858.5,359.8L859.9,348.2L861.3,355.7L862.7,344.3L864.0,350.5L865.7,341.1L867.3,347.1L869.0,334.8L870.6,340.4L872.1,329.7L873.6,337.4L875.1,325.0L877.0,331.4L878.8,320.5L881.0,328.6L883.3,319.4L885.7,325.3L888.2,316.1L890.8,327.3L892.7,320.3L893.8,332.9L894.6,326.6L895.3,335.9L895.8,331.8L896.3,341.7L896.9,337.5L897.4,349.0L898.0,342.0L898.5,354.4L898.9,346.2L899.4,360.5L899.9,354.3L900.3,366.1L900.8,359.8L901.2,373.9L901.7,367.9L902.2,379.8L902.6,372.9L903.1,385.8L903.6,381.3L904.0,392.3L904.5,386.6L905.1,396.7L905.6,391.8L906.1,402.4L906.6,395.3L907.1,409.2L907.8,400.6L908.7,414.3L909.8,408.5L911.0,418.1L912.5,411.2L914.1,422.8L915.8,415.7L918.0,427.1L920.3,420.2L922.8,428.9L925.4,417.2L927.8,425.5L929.7,414.9L931.8,420.0L933.9,409.1L935.5,417.8L937.1,407.2L938.8,412.2L940.4,402.4L942.0,409.2L943.6,395.9L945.2,404.3L946.7,392.2L948.3,399.8L949.8,388.8L951.4,394.1L952.9,382.8L954.5,390.6L956.0,378.8L957.6,382.9L959.2,373.5L960.7,378.8L962.3,369.7L963.8,374.1L965.4,363.0L966.9,370.5L968.5,360.5L970.0,365.8L971.6,355.3L973.2,362.2L974.8,350.8L976.4,358.9L977.9,346.2L980.0,353.0L982.1,342.4L984.1,350.2L986.1,337.8L988.6,344.3L991.1,335.3L993.7,342.5L996.2,332.9L999.1,340.7L1001.8,332.3L1004.6,342.1L1006.9,334.2L1008.7,346.2L1010.0,339.9L1010.8,349.8L1011.7,345.9L1012.5,356.7L1013.2,348.6L1014.0,360.1L1014.8,355.4L1015.6,365.5L1016.4,359.9L1016.9,372.9L1017.5,364.7L1018.1,377.4L1018.7,372.1L1019.3,382.6L1019.9,376.8L1020.8,387.6L1021.8,381.3L1022.8,393.5L1023.9,388.1L1025.1,397.5L1026.6,391.0L1028.1,403.6L1029.7,395.7L1031.4,408.5L1033.4,402.4L1035.4,410.6L1037.7,403.4L1040.1,413.3L1042.9,405.6L1045.5,414.7L1047.9,405.4L1050.6,410.8L1052.9,403.2L1055.5,409.0L1057.6,398.9L1059.7,404.7L1061.9,396.9L1064.0,403.0L1066.2,390.7L1068.3,398.4L1070.4,386.3L1072.0,393.3L1073.5,381.3L1075.1,387.7L1076.6,376.7L1078.2,384.4L1079.7,371.4L1081.3,379.9L1082.8,367.7L1084.4,372.7L1085.9,362.2L1087.5,367.7L1089.6,357.7L1091.7,364.4L1093.8,354.7L1096.1,362.8L1099.0,353.0L1101.8,360.8L1104.5,350.3L1107.1,359.1L1109.8,349.2L1112.3,360.1L1114.7,351.8L1116.9,359.6L1119.3,352.3L1122.1,362.7L1124.8,352.6L1127.3,363.3L1129.9,354.3L1132.2,365.3L1134.1,357.4L1135.5,368.2L1137.0,362.8L1138.3,374.3L1139.8,367.7L1141.6,377.1L1143.3,373.5L1145.1,383.8L1147.0,376.4L1148.9,387.8L1150.9,381.1L1152.8,390.3L1154.8,384.8L1156.9,396.9L1159.4,387.8L1161.7,399.5L1164.2,391.9L1166.9,400.9L1169.4,391.1L1172.2,399.9L1174.9,389.7L1177.7,398.4L1180.6,389.4L1183.5,398.8L1186.5,386.8L1189.3,396.1L1192.0,386.5L1194.5,391.9L1196.4,384.1L1198.3,388.4L1200.2,380.2L1202.0,386.5L1203.8,373.4L1205.6,382.5L1207.4,369.7L1209.2,376.3L1211.5,367.7L1213.7,375.0L1216.0,362.7L1218.2,370.2L1220.9,361.0L1223.7,368.9L1226.5,361.4L1229.5,367.4L1232.1,359.9L1235.0,366.9L1237.9,358.5L1240.8,369.9L1243.8,360.4L1246.6,369.0L1249.3,361.6L1251.7,372.3L1253.9,363.9L1255.8,376.6L1257.6,367.6L1259.3,380.4L1261.0,371.9L1262.7,384.6L1264.5,377.7L1266.9,387.4L1269.4,380.0L1271.9,388.5L1274.5,381.5L1277.2,392.4L1280.1,382.5L1282.8,390.9L1285.6,384.5L1288.7,393.6L1291.3,384.5L1294.0,391.3L1296.8,383.2L1299.7,389.4L1302.6,380.2L1305.6,388.1L1308.5,379.2L1311.3,388.3L1314.1,379.5L1316.9,387.9L1319.6,379.3L1322.4,388.9L1325.2,379.6L1328.0,389.8L1330.8,379.8L1333.6,389.8L1336.3,382.6L1339.1,389.0L1341.9,381.6L1344.7,391.2L1347.4,381.6L1350.2,389.0L1353.0,381.2L1355.7,391.9L1358.5,381.9L1361.3,390.1L1364.0,383.3L1366.8,392.1L1369.6,382.4L1372.1,389.1L1375.1,383.1L1378.0,390.0L1381.0,381.3L1383.5,392.8L1386.4,381.9L1389.5,391.2L1392.1,385.0L1395.0,391.5L1398.2,383.1L1402.0,391.6L1404.8,384.2L1407.7,392.9L1410.8,383.9L1414.0,391.2L1417.2,384.5L1420.5,391.6L1423.8,383.7L1427.1,391.0L1430.4,384.8L1433.5,391.3L1436.6,384.5L1439.5,391.9L1442.2,384.9L1444.7,391.6L1448.1,383.6L1450.8,392.4L1451.5,382.5" stroke="#007a00" stroke-width="7.5"/>
<path d="M180.0,379.2L179.9,375.0L182.7,380.1L185.6,374.8L188.5,380.1L191.9,375.2L194.4,381.0L197.1,374.2L199.9,379.8L202.9,375.7L206.0,381.1L209.2,374.2L212.4,380.3L215.8,376.0L219.2,381.8L222.6,374.6L226.0,380.9L229.4,376.4L232.8,381.7L236.2,374.7L239.4,380.9L242.6,376.1L245.8,382.1L248.9,375.4L252.1,382.3L255.4,375.7L258.6,381.0L261.9,375.1L265.3,382.2L268.6,375.3L272.0,381.3L275.3,376.6L278.7,382.7L282.0,375.3L285.3,380.8L288.6,377.0L291.8,380.9L294.9,375.8L298.1,381.0L301.1,376.7L304.1,381.5L307.0,374.9L309.8,381.3L312.6,376.6L315.4,380.4L318.1,375.9L320.8,380.6L323.5,375.9L326.1,379.8L328.7,375.4L331.3,379.8L333.8,375.3L337.5,379.1L341.0,374.1L344.5,380.0L347.7,374.0L350.8,378.0L353.8,373.2L356.5,377.3L359.0,373.0L362.0,376.7L364.6,370.3L367.5,374.9L370.0,369.6L372.8,373.0L375.6,367.7L378.0,373.0L380.6,364.9L383.2,370.1L385.8,364.1L388.3,367.6L390.8,361.4L393.1,365.9L395.8,359.8L398.2,362.7L400.8,356.6L403.4,363.0L405.9,354.7L408.1,359.5L409.5,352.0L410.4,354.0L411.1,345.6L411.4,349.6L411.7,342.2L411.9,345.1L412.1,335.3L412.2,339.1L412.4,330.2L412.6,332.1L412.9,323.1L413.0,327.2L413.2,318.5L413.3,322.1L413.5,313.4L413.7,316.1L413.8,306.2L414.0,307.8L414.1,299.1L414.3,302.6L414.5,292.2L414.6,294.8L414.8,285.6L414.9,288.0L415.1,278.3L415.3,280.6L415.4,272.6L415.6,273.6L415.7,265.4L415.9,266.4L416.1,259.3L416.2,261.2L416.4,251.9L416.5,253.5L416.7,244.5L416.8,246.4L417.0,239.4L417.1,240.8L417.3,230.7L417.4,234.4L417.6,224.5L417.7,226.9L417.9,218.8L418.0,221.5L418.2,211.6L418.4,213.8L418.5,205.2L418.7,209.1L418.9,199.4L419.1,203.0L419.3,195.3L419.5,198.4L419.9,189.5L420.2,190.6L420.6,181.2L421.0,185.1L421.4,175.0L421.8,178.9L422.1,169.8L422.5,172.1L423.0,163.7L423.5,166.5L424.0,158.4L424.6,162.0L425.4,154.5L427.5,160.6L429.0,157.4L429.6,163.9L430.0,161.8L430.3,170.8L430.5,168.7L430.8,177.9L431.0,175.8L431.2,184.8L431.3,180.8L431.5,189.4L431.7,188.4L431.8,196.2L432.0,193.2L432.1,202.5L432.3,200.5L432.5,210.1L432.6,207.5L432.8,216.8L432.9,216.7L433.1,226.0L433.3,222.9L433.4,234.3L433.6,231.1L433.7,241.0L433.9,240.0L434.1,248.8L434.2,248.8L434.4,258.6L434.5,258.4L434.7,267.0L434.9,266.0L435.0,277.1L435.2,276.0L435.3,287.5L435.5,285.3L435.6,295.2L435.7,291.8L435.7,299.6L435.8,297.3L435.9,303.9L436.0,301.9L436.1,308.8L436.1,307.7L436.2,315.4L436.3,311.6L436.4,320.2L436.5,318.4L436.5,326.3L436.6,324.0L436.7,332.3L436.8,329.9L436.9,336.7L436.9,333.7L437.0,343.5L437.1,340.9L437.2,348.1L437.3,346.1L437.3,354.9L437.4,353.4L437.5,362.0L437.6,359.5L437.7,367.9L437.7,365.0L437.8,374.0L437.9,372.1L438.0,380.8L438.1,376.7L438.1,385.4L438.2,384.5L438.3,393.3L438.4,390.6L438.5,400.3L438.5,397.3L438.6,405.8L438.7,402.9L438.8,412.4L438.9,410.4L438.9,419.1L439.0,418.4L439.1,426.4L439.2,424.2L439.3,432.0L439.3,430.1L439.4,440.1L439.5,437.0L439.6,446.5L439.7,444.1L439.7,452.7L439.8,451.1L439.9,460.2L440.0,457.9L440.1,466.9L440.1,465.2L440.2,473.5L440.3,473.0L440.3,481.3L440.4,479.1L440.5,488.8L440.5,488.4L440.6,496.6L440.6,496.4L440.7,506.1L440.8,504.7L440.8,514.8L440.9,512.7L440.9,521.3L441.0,519.9L441.1,529.8L441.1,528.8L441.2,539.0L441.2,537.1L441.3,546.8L441.4,545.4L441.4,553.8L441.5,552.6L441.6,562.1L441.7,559.6L441.7,568.9L441.8,565.8L441.9,574.3L442.0,571.9L442.1,581.8L442.2,579.0L442.3,586.1L442.4,583.3L442.5,592.3L442.7,592.3L443.0,600.5L443.3,599.1L443.6,606.0L444.1,603.6L445.1,612.1L446.9,604.3L448.0,608.2L449.0,600.1L450.4,603.3L453.0,597.2L455.5,601.9L457.6,594.0L459.2,598.6L460.7,590.7L462.0,592.6L463.3,584.6L464.4,588.4L465.4,578.8L466.1,583.5L467.0,573.6L467.8,576.9L468.7,568.2L469.7,570.7L470.7,561.1L471.3,564.9L472.0,557.1L472.7,559.1L473.4,551.0L474.1,553.3L474.8,545.5L475.5,547.1L476.2,538.3L476.9,541.7L477.6,531.9L478.3,535.1L478.9,526.1L479.6,529.0L480.3,519.7L480.9,522.0L481.6,513.8L482.2,514.2L482.9,504.7L483.6,507.6L484.2,498.4L484.9,498.2L485.5,489.4L486.2,491.7L486.9,481.9L487.5,482.1L488.2,472.3L488.8,474.6L489.5,465.6L490.2,465.5L490.8,457.2L491.5,458.1L492.1,449.1L492.8,449.9L493.5,441.1L494.1,441.2L494.8,433.1L495.4,434.1L496.1,424.2L496.8,425.1L497.4,416.6L498.1,417.8L498.7,408.6L499.4,409.5L500.1,400.8L500.7,403.0L501.4,392.2L502.0,394.6L502.7,385.2L503.4,386.5L504.0,377.8L504.7,379.0L505.3,369.4L506.0,369.9L506.7,361.7L507.3,362.4L508.0,351.8L508.7,353.1L509.4,344.2L510.0,346.0L510.7,336.5L511.4,337.4L512.1,328.5L512.8,328.3L513.4,318.7L514.1,320.5L514.8,310.1L515.4,313.2L516.1,304.1L516.7,304.3L517.4,296.7L518.0,298.7L518.6,289.4L519.2,290.3L519.8,281.7L520.4,286.0L520.9,276.4L521.5,279.8L522.1,271.9L522.6,273.5L523.2,266.6L523.7,267.9L524.5,260.4L525.3,261.4L526.0,252.6L526.8,255.7L527.6,246.7L528.3,248.8L529.1,241.4L529.8,243.3L530.5,236.0L531.3,238.4L532.0,230.6L532.7,233.6L533.7,224.3L534.6,226.8L535.6,220.5L536.7,222.0L538.2,214.7L540.5,218.7L542.5,214.5L543.5,223.7L544.1,219.3L544.6,228.6L545.0,226.2L545.4,236.2L545.6,231.9L545.8,241.0L546.0,240.2L546.2,248.4L546.4,249.0L546.5,259.2L546.7,258.1L546.8,266.5L546.8,263.2L546.9,271.2L547.0,268.4L547.0,277.2L547.1,275.3L547.1,283.6L547.2,280.6L547.2,289.5L547.3,285.6L547.4,294.0L547.4,292.2L547.5,300.2L547.5,296.9L547.6,306.3L547.6,304.2L547.7,311.6L547.7,309.2L547.8,317.3L547.8,316.6L547.9,323.7L547.9,321.8L548.0,330.4L548.0,327.1L548.1,335.2L548.2,332.0L548.2,341.5L548.3,338.8L548.4,347.1L548.4,342.9L548.5,352.1L548.6,348.4L548.6,357.3L548.7,355.1L548.8,363.5L548.8,359.5L548.9,367.6L548.9,366.2L549.0,374.4L549.1,370.9L549.1,380.9L549.2,377.4L549.3,385.3L549.3,382.9L549.4,391.2L549.4,388.2L549.5,396.4L549.6,394.6L549.6,402.6L549.7,400.3L549.8,409.4L549.8,404.9L549.9,414.0L550.0,410.7L550.0,419.4L550.1,415.4L550.2,423.7L550.2,420.5L550.3,429.1L550.5,428.2L550.6,439.9L550.8,438.5L550.9,447.9L551.1,446.7L551.3,454.7L551.4,453.3L551.6,463.2L551.8,460.5L552.0,469.8L552.2,467.0L552.4,474.3L552.6,472.0L552.8,479.6L553.0,478.1L553.3,485.6L553.6,483.4L553.9,493.3L554.2,490.9L554.6,500.0L554.9,496.0L555.2,504.0L555.7,503.0L556.2,509.7L556.9,507.9L557.7,515.3L558.6,511.9L559.6,520.2L560.5,517.1L561.6,525.0L564.1,518.3L566.6,522.2L569.1,516.6L571.4,519.4L573.8,512.5L576.1,517.1L577.8,509.1L579.4,513.4L580.9,504.9L582.2,507.2L583.2,497.6L584.1,501.8L585.0,493.6L585.9,494.8L586.8,486.1L587.6,488.5L588.5,480.0L589.4,481.7L590.4,473.3L591.3,476.7L592.3,466.5L593.3,470.0L594.4,459.8L595.1,463.2L595.8,454.7L596.5,457.6L597.2,449.2L597.9,452.3L598.6,444.9L599.4,446.6L600.1,439.0L600.8,442.3L601.6,434.4L602.3,436.9L603.0,428.6L603.8,431.1L604.5,422.1L605.2,425.9L606.0,418.2L606.7,421.0L607.4,412.5L608.2,414.8L608.9,407.9L609.6,410.7L610.4,402.6L611.1,404.3L611.8,395.7L612.6,398.8L613.3,391.3L614.1,394.2L614.8,386.7L615.5,388.2L616.3,380.7L617.0,383.7L617.7,375.2L618.4,377.9L619.1,371.2L619.8,373.2L620.5,365.0L621.5,368.3L622.5,358.9L623.6,361.2L624.6,352.6L625.6,354.1L626.5,345.5L627.5,347.4L628.5,339.1L629.4,342.1L630.3,333.4L631.2,336.5L632.1,327.2L632.9,330.2L633.7,322.5L634.5,324.8L635.2,317.3L636.1,320.4L637.0,312.2L637.8,313.8L638.6,305.9L639.4,308.0L640.2,300.5L641.1,303.2L642.0,295.0L642.9,297.2L643.7,289.3L644.4,291.3L645.2,283.6L646.0,286.1L647.2,279.0L649.2,286.4L650.2,281.5L651.0,289.8L651.7,287.9L652.3,296.6L653.0,292.5L653.6,301.8L654.1,299.7L654.7,307.9L655.0,306.5L655.4,313.6L655.7,310.8L656.0,320.2L656.3,316.8L656.6,326.1L656.9,323.2L657.2,333.0L657.5,331.3L657.8,340.6L658.1,337.4L658.3,345.5L658.6,343.6L658.9,353.0L659.1,350.7L659.4,357.9L659.6,357.2L659.9,365.2L660.1,363.4L660.3,371.7L660.6,368.0L660.8,376.5L661.0,375.3L661.2,382.6L661.4,381.0L661.6,390.1L661.8,388.3L662.0,396.7L662.1,393.2L662.3,402.3L662.4,400.5L662.6,408.3L662.7,407.7L662.8,415.5L663.0,413.4L663.1,422.9L663.3,418.6L663.5,427.5L663.6,423.9L663.9,432.6L664.1,431.7L664.2,439.6L664.3,436.1L664.5,446.2L664.8,442.4L665.2,451.5L665.9,448.8L667.2,456.2L669.4,451.7L672.2,459.5L674.8,454.0L677.4,457.5L680.0,453.0L682.6,458.2L685.4,451.9L687.7,456.2L689.8,447.9L691.3,451.4L692.5,444.6L693.4,446.9L694.3,439.0L695.1,441.5L696.0,433.6L696.9,434.4L697.6,428.3L698.3,429.4L699.1,423.3L699.9,425.0L700.8,416.6L701.7,419.8L702.6,412.4L703.6,414.2L704.6,405.0L705.6,408.2L706.6,399.4L707.7,400.0L708.7,391.7L709.8,395.3L710.8,386.1L711.9,389.3L712.9,379.9L713.9,383.6L714.9,374.7L716.0,378.0L717.3,370.3L718.7,373.5L720.0,363.6L721.4,368.1L722.7,358.5L724.1,362.3L725.4,353.7L726.8,358.4L728.1,350.3L729.5,353.8L730.9,344.4L732.3,347.9L733.8,341.4L735.5,344.0L737.2,335.4L738.8,339.2L740.3,331.5L742.0,335.1L743.6,327.2L745.3,331.1L747.1,323.3L749.2,327.3L751.7,321.7L753.5,330.5L754.8,326.3L755.9,334.4L756.9,332.0L757.7,340.4L758.5,337.2L759.2,346.1L759.9,342.2L760.5,350.5L761.2,348.1L761.9,356.3L762.6,354.9L763.2,362.2L763.9,361.5L764.4,369.3L764.9,364.9L765.4,374.3L765.9,371.2L766.5,379.2L767.0,377.1L767.5,385.2L768.0,381.1L768.5,389.7L769.0,387.5L769.7,395.2L770.4,393.8L771.0,401.3L771.7,398.6L772.3,406.2L772.9,404.4L773.5,411.6L774.3,408.8L775.2,416.1L776.4,414.9L777.9,421.9L779.9,417.6L782.4,423.9L784.9,417.9L787.7,424.0L790.4,418.3L792.9,424.5L795.3,416.5L797.6,420.8L799.6,413.2L801.5,416.6L803.1,408.9L804.7,412.7L806.1,406.2L807.6,408.5L809.3,400.5L810.7,403.4L812.1,396.2L813.5,400.5L815.1,390.7L816.6,393.5L818.0,386.2L819.3,388.5L820.7,382.2L821.8,383.8L823.0,375.8L824.1,378.8L825.3,371.8L826.6,374.8L827.8,364.8L829.0,368.2L830.3,359.8L831.5,362.5L832.7,354.4L834.3,358.0L835.9,350.0L837.8,353.2L839.8,345.3L842.1,348.5L844.4,341.7L846.9,347.3L849.5,340.9L852.0,348.6L853.8,344.5L855.1,351.2L856.2,347.8L857.3,356.4L858.5,353.3L859.7,362.4L860.7,357.9L861.7,366.8L862.7,363.9L863.7,372.4L864.8,370.4L865.9,378.6L867.0,373.9L868.2,382.1L869.4,380.1L870.7,386.3L872.0,383.9L873.3,392.6L874.9,388.6L876.5,395.9L878.3,392.7L880.5,400.0L882.8,395.1L885.5,400.6L888.0,396.2L890.6,400.1L893.4,395.4L896.0,400.2L898.6,394.5L901.2,399.2L903.8,390.6L906.3,395.8L908.4,387.4L910.5,392.0L912.6,384.7L914.7,387.5L916.8,381.5L918.8,383.9L920.8,377.0L922.7,380.9L924.6,372.5L926.4,376.0L928.2,369.2L930.0,373.6L931.7,364.4L933.9,369.0L936.0,360.9L938.3,365.4L940.5,357.7L942.8,361.7L945.0,355.2L947.5,360.0L950.1,354.7L952.4,360.0L954.5,357.3L956.2,364.3L957.9,360.7L959.7,370.1L961.5,365.9L963.2,374.3L965.0,369.6L966.7,378.4L968.6,374.0L970.5,381.3L972.5,377.8L974.6,386.0L976.7,381.3L979.0,389.1L981.2,384.1L983.9,389.8L986.6,384.4L988.9,389.0L991.4,382.7L994.1,387.1L996.5,381.7L999.2,385.4L1002.0,379.0L1004.9,384.3L1007.5,378.6L1010.1,384.3L1012.9,378.1L1015.7,382.4L1018.7,376.3L1021.3,381.1L1024.0,375.7L1026.9,379.9L1029.8,373.7L1032.7,376.7L1035.6,370.0L1038.4,375.9L1041.0,368.6L1044.0,373.5L1046.6,368.2L1049.1,374.1L1051.8,368.5L1054.3,375.5L1056.5,370.6L1059.2,377.0L1061.9,372.6L1064.3,380.5L1066.9,375.3L1069.6,381.6L1072.3,376.3L1075.0,383.5L1077.7,379.4L1080.3,383.7L1082.9,378.0L1085.5,384.1L1088.2,377.9L1090.8,383.7L1093.4,377.4L1096.0,382.5L1098.5,376.9L1101.0,382.6L1103.6,376.5L1106.2,380.4L1108.9,375.1L1111.5,380.0L1114.2,374.4L1117.1,379.1L1119.6,374.5L1122.5,380.8L1125.6,375.6L1129.0,381.3L1132.7,376.1L1135.2,381.6L1137.8,375.9L1140.6,381.1L1143.3,375.4L1146.2,381.6L1149.1,376.1L1152.1,383.0L1155.1,376.4L1158.2,383.2L1161.3,376.8L1164.4,383.9L1167.6,377.4L1170.8,383.3L1174.0,378.7L1177.3,384.2L1180.6,376.8L1184.0,382.6L1187.5,378.3L1191.1,382.7L1194.8,377.2L1198.5,382.5L1202.2,376.9L1206.0,382.1L1209.8,377.0L1213.6,381.4L1217.5,375.3L1221.3,382.1L1225.2,374.9L1229.0,380.8L1232.9,375.8L1236.7,380.2L1240.5,375.2L1244.3,381.1L1248.0,374.5L1251.6,381.6L1255.2,374.4L1258.6,379.8L1261.9,376.1L1265.2,380.1L1268.5,375.7L1271.7,381.2L1274.9,375.9L1278.2,381.4L1281.5,375.8L1284.9,380.6L1288.4,375.7L1292.0,381.2L1295.7,376.6L1299.6,382.0L1303.6,376.2L1307.9,381.4L1312.4,376.0L1317.0,382.4L1322.0,375.8L1324.6,380.9L1327.4,375.6L1330.3,382.2L1333.3,376.5L1336.4,381.6L1339.7,375.9L1343.0,381.8L1346.4,375.2L1349.9,381.1L1353.5,376.8L1357.2,382.2L1360.8,375.9L1364.6,382.1L1368.4,377.0L1372.2,381.1L1376.0,375.9L1379.9,381.8L1383.7,376.6L1387.5,381.1L1391.4,376.9L1395.2,382.5L1398.9,376.4L1402.7,381.8L1406.4,377.0L1410.0,381.4L1413.5,375.8L1417.0,381.2L1420.4,376.3L1423.7,381.4L1426.9,375.8L1430.0,380.9L1433.0,375.8L1435.8,380.8L1438.6,376.4L1441.1,382.2L1445.8,375.9L1449.8,381.7L1451.5,375.5" stroke="#ff0000" stroke-width="6.2"/>
</g>
<rect x="1032" y="64" width="390" height="280" fill="#fff" fill-opacity="0.86"/>
<line x1="1046" y1="118.2" x2="1133" y2="118.2" stroke="#0000ff" stroke-width="7" stroke-linecap="round"/>
<text x="1180" y="138.7" font-size="58">RF 30W</text>
<line x1="1046" y1="201.9" x2="1133" y2="201.9" stroke="#007a00" stroke-width="7" stroke-linecap="round"/>
<text x="1180" y="222.4" font-size="58">RF 15W</text>
<line x1="1046" y1="285.6" x2="1133" y2="285.6" stroke="#ff0000" stroke-width="7" stroke-linecap="round"/>
<text x="1180" y="306.1" font-size="58">RF 0W</text>
<rect x="180.0" y="37.5" width="1269.5" height="625.0" fill="none" stroke="#000" stroke-width="11.5"/>
<clipPath id="c0R"><rect x="1544.0" y="37.5" width="635.0" height="625.0"/></clipPath>
<path d="M1592.8,37.5v35.5M1592.8,662.5v-35.5M1641.7,37.5v35.5M1641.7,662.5v-35.5M1690.5,37.5v35.5M1690.5,662.5v-35.5M1739.4,37.5v35.5M1739.4,662.5v-35.5M1788.2,37.5v69.0M1788.2,662.5v-69.0M1837.1,37.5v35.5M1837.1,662.5v-35.5M1885.9,37.5v35.5M1885.9,662.5v-35.5M1934.8,37.5v35.5M1934.8,662.5v-35.5M1983.6,37.5v35.5M1983.6,662.5v-35.5M2032.5,37.5v69.0M2032.5,662.5v-69.0M2081.3,37.5v35.5M2081.3,662.5v-35.5M2130.2,37.5v35.5M2130.2,662.5v-35.5M1544.0,622.2h35.5M2179.0,622.2h-35.5M1544.0,581.9h69.0M2179.0,581.9h-69.0M1544.0,541.5h35.5M2179.0,541.5h-35.5M1544.0,501.2h35.5M2179.0,501.2h-35.5M1544.0,460.9h35.5M2179.0,460.9h-35.5M1544.0,420.6h35.5M2179.0,420.6h-35.5M1544.0,380.2h69.0M2179.0,380.2h-69.0M1544.0,339.9h35.5M2179.0,339.9h-35.5M1544.0,299.6h35.5M2179.0,299.6h-35.5M1544.0,259.3h35.5M2179.0,259.3h-35.5M1544.0,219.0h35.5M2179.0,219.0h-35.5M1544.0,178.6h69.0M2179.0,178.6h-69.0M1544.0,138.3h35.5M2179.0,138.3h-35.5M1544.0,98.0h35.5M2179.0,98.0h-35.5M1544.0,57.7h35.5M2179.0,57.7h-35.5" stroke="#4a4a4a" stroke-width="5.2" fill="none" stroke-linecap="butt"/>
<g clip-path="url(#c0R)" fill="none" stroke-linejoin="round" stroke-linecap="round">
<path d="M1540.0,417.3L1542.7,409.6L1545.3,416.2L1548.2,408.3L1550.8,414.4L1553.7,409.3L1556.3,414.7L1559.0,408.6L1561.9,413.5L1564.8,406.0L1567.7,414.0L1570.6,407.0L1573.6,411.1L1576.6,405.7L1579.7,411.8L1582.9,405.0L1586.1,409.0L1588.6,403.6L1591.1,407.7L1593.5,401.5L1596.0,406.8L1598.5,400.7L1601.0,407.1L1604.2,398.8L1607.4,405.0L1610.6,397.4L1613.8,404.2L1617.0,396.1L1620.2,402.2L1623.5,396.0L1626.7,401.8L1629.9,393.3L1633.1,400.5L1636.3,393.0L1639.6,398.1L1642.0,392.2L1644.5,396.9L1647.1,389.4L1649.6,397.5L1652.1,388.5L1654.6,395.4L1657.0,387.6L1659.4,393.4L1662.6,386.3L1665.6,390.5L1668.4,383.5L1671.1,387.4L1673.0,380.8L1674.9,385.6L1676.7,377.1L1678.5,381.4L1680.2,371.6L1681.9,375.5L1683.6,368.0L1685.2,373.8L1687.3,362.3L1689.3,368.0L1691.3,358.8L1693.7,364.6L1695.9,356.5L1698.4,361.2L1700.8,353.1L1703.2,358.5L1705.5,350.3L1708.0,356.1L1710.6,347.6L1712.7,352.4L1714.9,345.8L1717.1,349.8L1719.3,342.7L1721.8,348.9L1724.1,339.7L1726.4,344.8L1728.4,336.0L1730.4,340.3L1732.3,332.9L1734.1,337.4L1736.0,328.4L1738.0,333.0L1740.1,324.8L1742.2,328.8L1744.3,320.5L1746.4,325.5L1748.2,317.2L1749.9,321.8L1751.5,311.9L1753.0,317.2L1754.5,307.1L1755.9,312.0L1757.2,302.4L1758.6,306.6L1759.9,298.7L1761.3,303.1L1762.7,294.4L1764.2,297.5L1765.7,287.2L1767.2,293.2L1768.7,282.6L1770.2,286.6L1771.8,278.2L1773.4,282.0L1775.0,273.6L1776.6,275.3L1778.0,266.8L1779.3,272.5L1780.7,264.3L1782.1,267.6L1783.5,259.6L1784.9,264.4L1786.3,255.4L1788.0,259.3L1789.7,249.1L1791.4,253.4L1793.0,245.5L1794.7,249.1L1796.4,240.4L1798.0,244.6L1799.7,235.9L1801.3,240.4L1802.8,231.0L1804.3,234.0L1805.8,225.3L1807.3,231.1L1808.8,220.8L1810.2,225.5L1811.7,215.6L1813.1,221.7L1814.6,213.0L1816.0,216.0L1817.5,208.5L1818.9,211.2L1820.3,203.5L1821.8,207.1L1823.3,197.9L1824.8,203.5L1826.3,194.4L1827.9,196.8L1829.6,187.8L1831.2,193.9L1832.9,184.2L1834.6,187.4L1836.3,180.6L1838.0,184.7L1839.7,174.7L1841.4,179.9L1843.1,169.5L1844.9,175.1L1846.6,164.9L1848.3,169.3L1850.0,161.8L1851.6,165.4L1853.2,156.2L1854.7,162.0L1856.2,152.1L1857.8,157.0L1859.5,148.0L1861.2,151.3L1862.8,142.8L1864.6,147.9L1866.3,138.8L1868.0,143.9L1869.7,133.6L1871.5,140.3L1873.4,131.6L1875.0,134.7L1876.8,126.4L1878.8,131.6L1880.8,122.9L1883.0,127.7L1884.7,118.4L1886.5,123.6L1888.2,115.7L1890.0,118.8L1892.2,111.8L1894.3,115.7L1896.4,106.3L1898.5,111.9L1900.6,101.9L1902.6,106.3L1904.7,98.5L1906.8,102.5L1908.9,95.3L1910.9,98.4L1913.0,90.9L1915.0,95.9L1917.4,88.2L1919.8,93.6L1922.3,85.6L1924.7,89.9L1927.3,82.4L1929.8,86.7L1932.3,78.8L1934.9,83.4L1937.5,76.8L1940.2,80.8L1942.5,73.8L1944.8,79.1L1947.4,70.7L1950.0,77.0L1952.7,68.8L1955.4,74.6L1958.0,66.1L1960.4,73.0L1963.1,65.0L1965.8,70.3L1968.4,65.7L1971.0,72.5L1973.4,66.9L1975.2,76.2L1976.8,70.4L1978.1,80.4L1979.4,75.1L1980.4,85.7L1981.4,80.1L1982.3,90.7L1983.2,85.8L1984.1,94.1L1984.9,91.6L1985.7,98.9L1986.6,94.9L1987.4,105.7L1988.2,102.8L1988.9,110.1L1989.5,107.4L1990.1,116.6L1990.7,113.3L1991.3,121.4L1991.8,119.2L1992.3,128.6L1992.8,123.2L1993.3,133.8L1993.8,129.8L1994.3,139.0L1994.8,135.7L1995.2,144.1L1995.7,140.1L1996.2,150.5L1996.7,148.7L1997.2,157.8L1997.5,153.6L1997.8,164.2L1998.2,159.8L1998.5,170.4L1998.8,166.1L1999.1,176.7L1999.5,171.7L1999.8,181.7L2000.1,179.8L2000.5,189.2L2000.8,186.2L2001.1,197.0L2001.5,193.0L2001.8,204.2L2002.1,200.5L2002.4,210.5L2002.8,207.7L2003.1,219.9L2003.4,215.6L2003.7,226.8L2004.0,224.2L2004.3,232.9L2004.5,231.3L2004.8,241.7L2005.1,238.2L2005.3,249.2L2005.6,246.5L2005.8,256.1L2006.1,255.7L2006.3,264.2L2006.6,263.1L2006.8,272.6L2007.0,271.7L2007.2,281.0L2007.5,279.3L2007.7,290.4L2007.9,286.0L2008.2,299.0L2008.4,294.7L2008.6,304.7L2008.8,304.0L2009.1,315.2L2009.3,311.0L2009.6,322.9L2009.8,320.2L2010.0,329.4L2010.2,328.5L2010.5,338.1L2010.7,335.8L2010.9,346.0L2011.2,344.4L2011.4,352.9L2011.6,351.8L2011.8,363.1L2012.1,359.2L2012.3,370.3L2012.6,368.7L2012.8,378.0L2013.1,375.9L2013.3,386.5L2013.6,383.9L2013.9,394.9L2014.1,392.2L2014.4,402.8L2014.7,401.0L2015.0,409.5L2015.3,407.3L2015.6,419.5L2016.0,416.8L2016.3,426.2L2016.6,423.4L2016.9,435.4L2017.3,433.8L2017.6,444.6L2017.9,440.8L2018.3,451.0L2018.6,448.9L2018.9,459.1L2019.3,456.6L2019.6,466.9L2019.9,464.6L2020.2,475.1L2020.6,472.1L2020.9,482.6L2021.2,478.1L2021.5,489.9L2021.8,486.5L2022.2,496.5L2022.5,491.9L2022.8,501.5L2023.1,498.1L2023.4,508.9L2023.8,506.3L2024.1,514.5L2024.4,510.6L2024.7,522.2L2025.0,518.6L2025.4,528.5L2025.7,525.1L2026.0,533.9L2026.3,529.5L2026.6,540.1L2027.0,534.4L2027.3,545.3L2027.6,540.1L2027.9,550.1L2028.2,545.3L2028.5,555.3L2028.8,551.0L2029.1,561.2L2029.3,556.8L2029.8,567.6L2030.2,563.3L2030.7,573.0L2031.2,570.5L2031.7,580.5L2032.2,576.9L2032.8,585.5L2033.4,582.6L2034.0,592.2L2034.6,588.0L2035.2,597.0L2035.9,594.8L2036.8,603.2L2037.7,599.4L2038.7,609.7L2039.7,604.9L2040.8,614.8L2042.3,610.9L2043.9,618.0L2045.6,614.5L2047.8,623.0L2050.1,616.8L2052.6,624.0L2055.2,619.2L2057.9,626.5L2060.4,621.0L2063.0,627.3L2065.7,623.2L2068.6,629.7L2071.5,623.7L2074.5,631.3L2077.4,623.7L2080.3,630.0L2083.1,624.6L2085.9,630.3L2088.7,623.5L2091.5,629.1L2094.3,621.6L2097.1,628.8L2099.9,621.0L2102.7,627.9L2105.5,619.3L2108.3,624.7L2111.1,616.8L2113.9,623.5L2116.7,616.3L2119.6,620.9L2122.4,613.9L2125.2,617.9L2128.0,611.3L2130.8,614.6L2133.6,608.1L2136.4,614.2L2139.2,605.0L2142.0,612.1L2144.8,602.5L2147.6,608.7L2149.8,600.5L2152.1,607.2L2154.4,599.3L2156.7,603.7L2159.0,595.7L2161.3,599.8L2163.6,592.2L2165.8,598.8L2168.0,590.9L2170.1,596.4L2172.8,587.6L2175.0,593.2L2177.2,584.5L2179.5,590.6L2181.7,581.7L2183.8,585.8L2186.2,578.0L2188.2,583.1L2190.4,575.6L2190.4,583.3" stroke="#0000ff" stroke-width="8.5"/>
<path d="M1540.0,405.6L1542.4,398.8L1545.3,406.9L1548.4,399.5L1551.5,405.1L1554.2,399.8L1557.1,404.5L1560.2,399.6L1563.5,404.6L1566.9,397.8L1570.4,404.4L1574.0,399.2L1577.6,405.9L1581.2,397.1L1584.7,403.5L1588.1,398.2L1591.5,405.2L1595.0,397.5L1598.5,403.7L1602.1,396.1L1605.7,403.1L1609.4,397.0L1613.0,402.6L1616.7,394.4L1620.4,401.1L1624.1,394.7L1627.8,401.0L1631.5,392.3L1635.1,400.7L1638.7,393.4L1642.3,399.4L1645.9,391.8L1649.5,399.0L1653.1,389.7L1656.7,396.8L1660.3,388.8L1664.0,396.8L1667.6,389.8L1671.2,394.6L1674.8,386.7L1678.4,393.2L1682.0,387.0L1685.6,393.2L1689.2,386.3L1692.8,392.7L1696.4,385.8L1700.1,391.3L1703.7,384.0L1707.3,389.0L1710.9,382.5L1714.5,390.0L1718.1,381.4L1721.8,387.6L1725.4,381.2L1729.0,386.4L1732.6,379.6L1736.3,386.3L1738.8,378.1L1741.4,384.2L1744.1,378.7L1746.7,383.1L1749.4,376.1L1752.1,383.5L1754.7,377.0L1757.4,382.7L1760.0,375.2L1762.5,380.8L1765.0,373.4L1768.6,380.4L1772.0,372.6L1775.2,377.9L1778.1,371.4L1780.7,376.8L1783.6,370.6L1786.1,374.8L1788.5,368.2L1791.1,375.0L1793.4,365.9L1795.5,371.1L1797.6,364.6L1800.0,369.7L1802.2,361.1L1804.0,364.9L1805.5,356.0L1806.6,361.4L1807.4,352.0L1807.9,353.9L1808.4,346.2L1808.9,350.1L1809.3,339.1L1809.7,341.5L1810.1,332.4L1810.5,336.2L1811.0,327.8L1811.4,329.7L1812.0,321.6L1812.6,326.2L1813.2,316.1L1813.7,321.0L1814.3,311.0L1814.9,314.0L1815.6,306.0L1816.1,309.3L1816.7,300.7L1817.3,304.7L1818.0,293.9L1818.6,296.7L1819.3,288.1L1819.9,291.8L1820.6,282.0L1821.3,286.2L1821.9,277.4L1822.6,280.0L1823.2,270.2L1823.8,273.1L1824.5,263.7L1825.1,268.7L1825.8,259.4L1826.4,261.2L1827.0,253.1L1827.7,256.9L1828.3,247.0L1829.0,250.3L1829.6,242.0L1830.3,245.8L1831.1,237.1L1831.8,240.0L1832.6,230.4L1833.5,235.2L1834.3,226.4L1835.3,228.3L1836.4,219.8L1837.5,225.7L1838.7,215.5L1839.9,220.9L1841.2,211.5L1842.4,214.5L1843.7,205.9L1844.9,209.6L1845.9,200.4L1846.9,205.9L1847.9,197.3L1848.9,199.6L1850.0,190.1L1851.0,193.5L1851.9,186.1L1852.8,188.2L1853.7,179.8L1854.7,185.1L1855.4,174.3L1856.0,179.5L1856.5,170.1L1857.0,174.0L1857.8,162.8L1858.7,168.8L1860.0,159.3L1861.4,162.1L1863.0,152.3L1864.3,158.2L1865.7,149.2L1867.2,152.6L1868.7,145.5L1870.3,149.3L1871.9,139.5L1873.5,143.1L1875.1,136.2L1876.7,140.8L1878.2,130.0L1880.2,133.8L1882.0,126.8L1883.9,131.0L1885.7,121.3L1887.5,126.3L1889.4,116.7L1891.3,120.7L1893.2,111.2L1895.3,116.4L1897.4,107.2L1899.6,113.6L1902.1,105.4L1904.6,110.3L1907.3,99.9L1910.0,104.9L1912.7,97.6L1915.4,102.6L1918.1,95.3L1920.6,100.4L1923.1,90.8L1925.3,98.1L1928.0,88.4L1930.5,94.1L1933.0,86.3L1935.3,92.9L1937.6,84.8L1940.3,90.3L1943.0,82.0L1945.6,88.0L1947.7,79.5L1950.2,84.2L1952.7,76.2L1955.0,80.5L1957.7,73.9L1960.2,80.8L1963.0,73.7L1965.7,82.6L1967.9,75.7L1970.0,84.0L1971.7,80.7L1973.1,89.5L1974.5,86.9L1975.5,95.6L1976.5,90.1L1977.5,99.3L1978.4,95.8L1979.4,106.3L1980.0,101.2L1980.7,112.1L1981.3,107.3L1981.9,117.1L1982.5,113.6L1983.0,123.1L1983.6,122.0L1983.9,130.5L1984.2,125.5L1984.5,134.2L1984.8,131.8L1985.1,140.0L1985.4,138.0L1985.7,146.9L1986.0,143.0L1986.3,151.8L1986.6,148.1L1986.9,158.9L1987.2,155.2L1987.5,164.3L1987.8,161.2L1988.1,169.5L1988.5,167.1L1988.8,175.5L1989.1,173.3L1989.4,180.9L1989.7,177.5L1990.1,188.1L1990.4,185.2L1990.7,194.2L1991.0,189.7L1991.3,199.5L1991.7,196.2L1992.0,206.4L1992.3,204.7L1992.6,214.5L1992.9,210.7L1993.3,221.1L1993.6,217.9L1993.9,226.0L1994.2,223.4L1994.5,233.1L1994.9,230.4L1995.2,241.1L1995.5,237.4L1995.8,248.7L1996.2,245.8L1996.5,256.2L1996.8,254.5L1997.1,264.8L1997.5,262.7L1997.8,273.0L1998.1,270.8L1998.4,281.1L1998.8,279.5L1999.1,288.9L1999.4,287.4L1999.7,297.5L2000.1,294.0L2000.4,307.0L2000.7,303.5L2001.0,314.4L2001.4,310.7L2001.7,322.9L2002.0,319.2L2002.3,329.2L2002.6,327.1L2003.0,337.8L2003.3,336.4L2003.6,345.2L2003.9,343.0L2004.2,353.4L2004.6,352.1L2004.9,361.8L2005.2,360.0L2005.5,370.2L2005.8,368.3L2006.2,377.3L2006.5,375.2L2006.8,385.1L2007.1,382.7L2007.4,395.3L2007.8,392.6L2008.1,402.5L2008.4,398.9L2008.7,409.7L2009.0,406.9L2009.4,418.3L2009.7,417.4L2010.0,425.8L2010.3,425.1L2010.6,434.7L2011.0,432.4L2011.3,443.6L2011.6,440.2L2011.9,451.7L2012.2,449.3L2012.6,458.3L2012.9,455.9L2013.2,466.6L2013.5,463.4L2013.8,473.5L2014.2,472.3L2014.5,482.7L2014.8,478.1L2015.1,487.7L2015.4,485.2L2015.7,496.4L2016.0,492.0L2016.3,502.9L2016.6,499.7L2016.9,508.7L2017.2,504.8L2017.5,515.6L2017.8,513.0L2018.1,520.7L2018.4,518.5L2018.7,526.6L2019.1,524.4L2019.4,532.5L2019.8,528.8L2020.2,538.6L2020.6,534.3L2021.0,545.6L2021.4,541.5L2021.8,549.5L2022.3,545.5L2022.7,555.3L2023.2,551.3L2023.6,561.5L2024.1,556.9L2024.6,566.5L2025.0,561.6L2025.8,572.2L2026.5,569.8L2027.3,579.6L2028.1,574.9L2028.9,583.9L2029.7,581.4L2030.6,589.7L2031.4,586.3L2032.6,595.3L2033.8,592.5L2035.1,600.0L2036.4,595.9L2038.0,605.2L2039.7,602.3L2041.5,609.8L2043.3,603.8L2045.4,613.1L2047.6,607.0L2050.3,615.9L2053.1,609.2L2055.7,616.2L2058.4,611.9L2060.9,618.5L2063.5,612.8L2066.3,619.5L2069.2,614.4L2072.1,621.1L2075.0,614.1L2078.0,621.8L2080.8,613.4L2083.6,621.6L2086.4,612.9L2089.2,619.0L2092.0,612.6L2094.8,618.4L2097.6,611.0L2100.4,619.1L2103.2,611.2L2106.0,617.6L2108.9,611.1L2111.7,616.2L2114.5,610.3L2117.3,615.6L2120.1,608.7L2122.9,616.3L2125.7,607.5L2128.5,612.5L2131.3,605.5L2134.1,611.3L2136.9,604.3L2139.7,608.4L2142.5,602.0L2145.3,607.5L2147.6,598.8L2149.8,604.8L2152.1,597.6L2154.4,602.5L2156.7,593.5L2159.0,600.1L2161.3,590.9L2163.6,597.3L2165.8,589.1L2168.0,594.6L2170.1,584.8L2172.8,590.4L2175.0,583.0L2177.2,588.6L2179.5,578.9L2181.7,585.7L2183.8,578.0L2186.2,580.8L2188.2,574.1L2190.4,578.9L2190.4,571.9" stroke="#007a00" stroke-width="7.0"/>
<path d="M1540.0,382.4L1542.4,376.6L1545.3,382.2L1548.4,375.5L1551.5,382.2L1554.2,375.0L1557.1,380.5L1560.2,375.6L1563.5,380.0L1566.9,373.1L1570.4,380.7L1574.0,374.1L1577.6,379.8L1581.2,373.6L1584.7,378.7L1588.1,372.7L1591.5,377.5L1595.0,372.2L1598.5,378.1L1602.1,371.2L1605.7,376.8L1609.4,372.0L1613.0,375.7L1616.7,369.8L1620.4,376.3L1624.1,370.2L1627.8,375.6L1631.5,370.6L1635.1,374.6L1638.7,368.1L1642.3,374.3L1645.9,368.3L1649.5,374.8L1653.1,367.4L1656.7,372.4L1660.3,367.8L1664.0,371.5L1667.6,366.9L1671.2,370.8L1674.8,366.0L1678.4,370.4L1682.0,364.7L1685.6,369.8L1689.2,364.3L1692.8,369.6L1696.4,364.1L1700.1,370.1L1703.7,363.6L1707.3,368.9L1710.9,362.8L1714.5,368.2L1718.1,363.2L1721.8,368.8L1725.4,360.8L1729.0,366.2L1732.6,361.7L1736.3,367.7L1740.0,360.1L1742.5,366.5L1745.0,359.7L1747.5,365.2L1750.1,359.5L1752.6,365.0L1755.1,360.2L1757.7,366.4L1761.4,359.7L1765.1,365.0L1768.6,358.5L1772.1,364.3L1775.5,357.7L1778.7,365.0L1781.7,357.8L1784.6,363.2L1787.3,356.7L1789.8,362.5L1793.1,357.9L1796.2,363.2L1799.2,356.8L1802.2,360.7L1805.2,355.2L1808.1,360.0L1811.2,354.5L1814.4,361.2L1817.0,355.1L1819.6,360.8L1822.2,353.9L1824.9,359.1L1827.5,354.6L1830.2,358.6L1832.7,353.5L1836.0,359.9L1839.1,353.1L1841.9,358.4L1844.9,352.5L1847.4,357.7L1850.0,350.6L1852.5,354.9L1854.7,348.8L1856.6,351.1L1858.0,343.7L1858.8,347.6L1859.8,339.9L1861.1,343.2L1862.5,333.7L1863.7,336.7L1865.0,329.2L1866.3,331.8L1867.6,324.3L1868.6,328.6L1869.6,319.1L1870.5,321.8L1871.5,314.8L1872.4,317.8L1873.3,309.0L1874.2,310.0L1874.9,303.0L1875.6,305.1L1876.3,297.5L1877.1,301.0L1877.8,292.1L1878.6,294.9L1879.5,285.7L1880.4,289.2L1881.3,281.3L1882.2,283.9L1883.2,273.6L1884.1,275.8L1885.1,267.5L1886.1,271.1L1887.1,261.9L1888.1,264.2L1889.1,253.7L1890.1,257.1L1891.1,247.6L1892.1,252.2L1893.1,242.8L1894.0,246.9L1894.9,238.0L1895.8,240.9L1896.8,233.8L1897.7,236.4L1898.6,228.2L1899.9,230.0L1901.1,221.8L1902.5,224.2L1903.8,216.0L1904.9,218.4L1906.0,211.5L1907.2,213.8L1908.4,206.8L1909.6,210.3L1910.8,202.2L1912.1,205.7L1913.4,196.7L1914.6,200.8L1916.3,191.7L1917.9,196.3L1919.5,187.4L1921.0,189.7L1922.4,181.7L1923.8,187.1L1925.5,177.3L1927.1,180.4L1928.6,172.9L1930.2,177.1L1932.0,169.2L1933.8,172.6L1935.6,165.3L1937.6,169.4L1939.5,160.8L1941.7,164.9L1944.2,159.3L1946.7,165.0L1949.1,159.3L1951.3,167.7L1953.6,162.8L1955.6,171.1L1957.4,167.9L1959.1,175.5L1960.7,170.0L1962.4,178.9L1964.1,175.2L1965.4,183.0L1966.7,180.3L1967.9,188.3L1969.1,184.1L1970.2,193.7L1971.3,189.2L1972.3,197.9L1973.3,194.0L1974.3,204.1L1975.2,199.5L1976.2,208.5L1977.0,205.5L1977.7,215.6L1978.3,212.1L1978.9,221.3L1979.5,218.5L1980.1,227.5L1980.6,224.8L1981.1,232.7L1981.6,230.1L1982.1,239.4L1982.6,238.9L1982.9,245.3L1983.2,241.9L1983.5,250.5L1983.8,247.2L1984.1,256.6L1984.3,252.9L1984.6,261.9L1984.9,259.5L1985.1,267.0L1985.3,265.4L1985.5,273.0L1985.8,269.5L1985.9,279.5L1986.1,277.2L1986.3,285.1L1986.5,283.3L1986.6,292.5L1986.8,288.6L1986.9,299.6L1987.0,297.0L1987.2,304.4L1987.3,303.0L1987.4,311.7L1987.6,310.0L1987.7,319.1L1987.9,316.5L1988.0,325.8L1988.1,322.7L1988.3,331.0L1988.5,330.1L1988.6,337.8L1988.8,335.8L1988.9,344.9L1989.1,341.4L1989.2,350.8L1989.4,348.2L1989.5,358.3L1989.7,355.7L1989.8,362.7L1990.0,360.5L1990.1,369.6L1990.3,367.2L1990.4,377.3L1990.6,375.0L1990.8,383.8L1990.9,379.8L1991.1,389.7L1991.3,385.8L1991.5,395.2L1991.7,393.6L1991.9,402.5L1992.1,398.9L1992.4,409.2L1992.6,405.7L1992.8,416.3L1993.1,412.8L1993.3,422.3L1993.5,419.9L1993.8,428.2L1994.0,425.4L1994.3,435.0L1994.5,432.8L1994.8,441.7L1995.1,438.2L1995.3,447.8L1995.6,444.6L1995.8,453.4L1996.1,451.3L1996.3,459.3L1996.5,455.9L1996.8,465.4L1997.0,462.8L1997.2,470.5L1997.5,467.9L1997.7,475.1L1998.1,472.8L1998.4,483.2L1998.8,480.0L1999.1,489.9L1999.5,487.4L1999.9,495.9L2000.3,494.7L2000.6,504.4L2001.1,501.5L2001.5,509.9L2001.9,508.2L2002.3,516.4L2002.8,514.9L2003.2,524.0L2003.6,521.4L2004.1,529.7L2004.6,528.1L2005.1,537.7L2005.6,534.6L2006.1,543.7L2006.6,539.5L2007.2,548.4L2007.8,545.7L2008.4,554.1L2009.3,550.5L2010.1,558.0L2011.1,555.4L2012.0,563.3L2013.0,562.0L2014.0,569.3L2015.3,565.3L2016.6,574.2L2018.0,572.3L2019.5,578.6L2021.0,576.9L2022.6,584.1L2024.2,580.5L2026.2,588.7L2028.2,583.5L2030.4,591.7L2032.5,586.7L2034.8,594.7L2037.1,590.4L2039.5,596.3L2042.0,591.5L2044.7,599.7L2047.6,593.2L2050.2,600.9L2052.9,594.2L2055.7,601.1L2058.6,596.3L2061.6,600.5L2064.5,595.1L2067.4,601.7L2070.2,594.4L2072.9,601.1L2075.7,594.2L2078.4,598.2L2081.2,592.5L2084.0,596.8L2086.9,591.5L2089.8,597.1L2092.8,590.3L2095.9,596.4L2098.5,589.6L2101.1,595.7L2103.7,590.0L2106.3,595.9L2108.9,588.9L2111.5,594.4L2114.1,589.7L2116.7,594.9L2119.3,589.7L2122.0,595.0L2124.7,587.9L2127.4,594.8L2130.1,588.6L2132.7,594.8L2135.3,589.1L2138.4,593.3L2141.2,588.6L2143.8,592.9L2146.6,587.0L2149.2,590.2L2151.5,583.3L2153.8,587.6L2155.9,581.0L2158.0,584.5L2160.4,578.3L2162.6,582.1L2164.6,574.4L2166.7,578.1L2169.0,570.5L2171.2,576.5L2173.4,568.4L2176.0,573.3L2178.8,565.0L2181.0,569.4L2183.8,562.4L2186.3,566.9L2188.9,561.2L2190.4,566.2" stroke="#ff0000" stroke-width="7.0"/>
</g>
<rect x="1544.0" y="37.5" width="635.0" height="625.0" fill="none" stroke="#000" stroke-width="11.5"/>
<clipPath id="c1L"><rect x="180.0" y="725.5" width="1269.5" height="625.0"/></clipPath>
<path d="M223.8,725.5v69.0M223.8,1350.5v-69.0M267.6,725.5v35.5M267.6,1350.5v-35.5M311.3,725.5v35.5M311.3,1350.5v-35.5M355.1,725.5v35.5M355.1,1350.5v-35.5M398.9,725.5v35.5M398.9,1350.5v-35.5M442.7,725.5v69.0M442.7,1350.5v-69.0M486.4,725.5v35.5M486.4,1350.5v-35.5M530.2,725.5v35.5M530.2,1350.5v-35.5M574.0,725.5v35.5M574.0,1350.5v-35.5M617.8,725.5v35.5M617.8,1350.5v-35.5M661.5,725.5v69.0M661.5,1350.5v-69.0M705.3,725.5v35.5M705.3,1350.5v-35.5M749.1,725.5v35.5M749.1,1350.5v-35.5M792.9,725.5v35.5M792.9,1350.5v-35.5M836.6,725.5v35.5M836.6,1350.5v-35.5M880.4,725.5v69.0M880.4,1350.5v-69.0M924.2,725.5v35.5M924.2,1350.5v-35.5M968.0,725.5v35.5M968.0,1350.5v-35.5M1011.7,725.5v35.5M1011.7,1350.5v-35.5M1055.5,725.5v35.5M1055.5,1350.5v-35.5M1099.3,725.5v69.0M1099.3,1350.5v-69.0M1143.1,725.5v35.5M1143.1,1350.5v-35.5M1186.8,725.5v35.5M1186.8,1350.5v-35.5M1230.6,725.5v35.5M1230.6,1350.5v-35.5M1274.4,725.5v35.5M1274.4,1350.5v-35.5M1318.2,725.5v69.0M1318.2,1350.5v-69.0M1361.9,725.5v35.5M1361.9,1350.5v-35.5M1405.7,725.5v35.5M1405.7,1350.5v-35.5M180.0,1310.2h35.5M1449.5,1310.2h-35.5M180.0,1269.9h69.0M1449.5,1269.9h-69.0M180.0,1229.5h35.5M1449.5,1229.5h-35.5M180.0,1189.2h35.5M1449.5,1189.2h-35.5M180.0,1148.9h35.5M1449.5,1148.9h-35.5M180.0,1108.6h35.5M1449.5,1108.6h-35.5M180.0,1068.2h69.0M1449.5,1068.2h-69.0M180.0,1027.9h35.5M1449.5,1027.9h-35.5M180.0,987.6h35.5M1449.5,987.6h-35.5M180.0,947.3h35.5M1449.5,947.3h-35.5M180.0,907.0h35.5M1449.5,907.0h-35.5M180.0,866.6h69.0M1449.5,866.6h-69.0M180.0,826.3h35.5M1449.5,826.3h-35.5M180.0,786.0h35.5M1449.5,786.0h-35.5M180.0,745.7h35.5M1449.5,745.7h-35.5" stroke="#4a4a4a" stroke-width="5.2" fill="none" stroke-linecap="butt"/>
<g clip-path="url(#c1L)" fill="none" stroke-linejoin="round" stroke-linecap="round">
<path d="M180.0,1069.0L181.6,1064.6L184.5,1070.7L187.0,1066.6L189.9,1071.1L192.4,1068.3L195.1,1072.2L198.0,1069.7L200.9,1073.9L204.0,1070.2L207.1,1075.5L210.3,1072.9L213.4,1078.2L216.5,1073.2L219.4,1078.2L222.3,1075.4L225.3,1080.9L228.2,1076.5L231.2,1081.4L234.2,1077.1L237.3,1082.5L240.4,1079.1L243.4,1083.6L246.5,1078.9L249.6,1084.2L252.7,1080.7L255.7,1085.6L258.8,1080.6L261.8,1087.0L264.8,1082.9L267.9,1087.7L270.9,1083.4L273.9,1089.1L276.9,1083.7L279.9,1089.3L283.0,1084.8L286.0,1090.9L289.0,1087.0L292.0,1091.0L295.1,1086.5L298.1,1091.4L301.1,1087.9L304.2,1092.6L307.3,1088.5L310.5,1093.3L313.7,1089.1L316.9,1093.3L320.1,1088.8L323.2,1092.5L326.4,1088.5L329.4,1093.8L332.4,1088.4L335.3,1092.8L338.0,1088.9L340.7,1092.6L344.0,1088.4L347.1,1093.1L350.1,1087.8L352.9,1092.0L355.6,1088.4L358.2,1091.3L361.3,1086.5L364.1,1091.3L366.8,1086.7L369.2,1090.2L371.8,1084.6L374.2,1087.6L376.4,1081.7L378.5,1085.3L380.5,1079.0L382.7,1081.1L384.6,1075.4L386.7,1077.2L388.8,1071.3L390.5,1072.7L392.2,1066.8L393.8,1070.1L395.4,1062.8L397.3,1064.7L399.1,1058.9L400.8,1060.8L402.4,1053.8L404.0,1055.1L405.6,1048.4L407.0,1051.2L408.4,1044.1L409.5,1044.8L410.4,1039.2L411.3,1041.3L412.2,1033.4L412.9,1034.3L413.6,1027.4L414.3,1029.0L414.9,1022.2L415.6,1022.0L416.0,1016.1L416.5,1018.5L416.9,1010.9L417.3,1013.3L417.8,1005.6L418.2,1006.5L418.6,1000.1L419.0,1000.8L419.3,993.7L419.7,995.0L420.0,986.5L420.4,987.1L420.8,980.2L421.1,981.6L421.5,974.1L421.9,976.0L422.3,969.4L422.7,970.4L423.2,963.2L423.6,964.5L424.1,957.6L424.5,960.4L425.0,953.8L425.6,953.8L426.2,947.3L426.8,948.9L427.4,941.6L428.2,942.7L428.8,936.3L429.5,938.4L430.3,931.9L431.2,933.4L432.9,927.4L434.0,934.7L434.8,933.5L435.3,939.0L435.8,937.9L436.3,946.7L436.7,944.1L437.1,952.0L437.5,950.2L437.8,956.9L438.2,956.1L438.5,963.8L438.8,962.9L439.1,970.8L439.3,969.5L439.5,975.7L439.7,974.1L439.9,981.2L440.1,981.1L440.3,987.4L440.5,986.7L440.7,995.3L440.9,993.1L441.1,1001.7L441.3,1000.5L441.5,1008.1L441.7,1005.7L441.9,1014.6L442.1,1013.4L442.3,1020.1L442.5,1018.4L442.7,1026.8L442.9,1025.3L443.1,1032.2L443.3,1032.0L443.5,1039.1L443.7,1037.1L443.9,1044.1L444.1,1044.0L444.2,1051.5L444.4,1048.7L444.6,1056.0L444.8,1056.0L445.0,1063.5L445.2,1061.6L445.4,1069.5L445.6,1067.6L445.8,1074.8L446.1,1072.9L446.3,1080.7L446.5,1079.0L446.7,1087.5L447.0,1086.4L447.2,1093.8L447.5,1090.9L447.7,1098.4L448.0,1097.5L448.2,1104.9L448.5,1103.9L448.7,1111.2L449.0,1108.7L449.3,1117.3L449.5,1114.9L449.8,1122.6L450.0,1121.2L450.3,1129.4L450.6,1127.9L450.8,1135.5L451.1,1134.0L451.3,1142.1L451.6,1140.6L451.9,1148.1L452.1,1147.2L452.4,1154.5L452.6,1154.5L452.9,1163.0L453.1,1161.8L453.4,1171.0L453.6,1169.3L453.9,1177.4L454.1,1177.5L454.4,1185.6L454.6,1185.9L454.9,1193.9L455.1,1192.2L455.4,1200.0L455.6,1199.0L455.9,1207.1L456.1,1205.0L456.4,1213.3L456.6,1210.8L456.9,1219.0L457.2,1218.0L457.5,1225.3L457.8,1225.3L458.0,1232.1L458.3,1229.6L458.6,1236.8L459.0,1236.0L459.7,1242.3L461.0,1241.2L463.5,1245.1L465.5,1238.6L467.0,1240.4L468.6,1233.6L470.2,1236.0L471.5,1229.3L472.7,1231.1L474.0,1224.6L475.2,1225.8L476.4,1219.8L477.6,1221.0L478.8,1214.8L480.1,1215.0L481.4,1207.8L482.6,1209.6L483.9,1202.4L485.2,1203.1L486.5,1194.7L487.8,1195.7L489.0,1188.1L490.3,1189.4L491.5,1182.8L492.6,1184.0L493.7,1176.1L494.8,1177.7L495.9,1170.2L496.9,1170.2L497.9,1163.1L498.9,1164.1L499.9,1156.7L500.9,1158.4L501.8,1150.3L502.8,1152.2L503.7,1144.6L504.6,1145.8L505.6,1138.9L506.5,1140.0L507.4,1132.9L508.3,1134.0L509.2,1126.8L510.1,1127.9L511.0,1121.1L511.8,1121.5L512.7,1114.7L513.5,1115.7L514.4,1107.4L515.2,1110.2L516.1,1101.9L516.9,1103.2L517.8,1094.7L518.7,1096.7L519.5,1088.0L520.4,1088.4L520.9,1081.9L521.5,1083.9L522.1,1077.8L522.6,1078.5L523.2,1071.8L523.8,1073.6L524.4,1067.4L524.9,1068.7L525.5,1062.3L526.1,1063.8L526.7,1057.3L527.3,1058.1L527.9,1051.5L528.5,1052.9L529.1,1046.2L529.7,1049.4L530.3,1042.4L531.0,1043.7L531.7,1036.0L532.3,1037.8L533.0,1030.5L533.7,1032.7L534.4,1026.7L535.1,1026.9L535.8,1021.0L536.4,1022.0L537.1,1015.2L537.8,1017.3L538.5,1009.9L539.2,1012.5L540.1,1004.7L541.1,1004.6L542.0,997.2L542.9,998.9L543.8,991.4L544.6,993.0L545.4,987.2L546.3,989.3L547.3,980.8L548.4,982.0L549.4,975.3L550.3,978.1L551.4,970.1L552.4,972.8L553.4,966.1L554.5,967.6L556.0,960.7L558.4,966.0L560.4,963.8L562.0,969.2L563.2,968.2L564.0,974.1L564.9,973.4L565.5,979.5L566.2,977.9L566.8,985.6L567.3,983.3L567.8,991.6L568.3,989.7L568.8,996.1L569.3,994.4L569.8,1002.1L570.3,1000.7L570.8,1008.9L571.3,1007.3L571.8,1015.4L572.3,1014.0L572.8,1022.3L573.1,1020.9L573.4,1027.7L573.8,1025.0L574.1,1031.6L574.4,1030.7L574.8,1037.0L575.1,1035.8L575.4,1042.5L575.8,1041.4L576.1,1047.4L576.4,1045.8L576.7,1053.0L577.1,1052.1L577.4,1058.3L577.7,1055.5L578.1,1063.1L578.4,1060.7L578.7,1068.7L579.1,1066.3L579.4,1073.2L579.7,1072.6L580.1,1079.3L580.4,1077.7L580.7,1084.4L581.1,1083.3L581.4,1090.1L581.7,1087.7L582.2,1096.3L582.7,1094.2L583.2,1103.1L583.7,1100.7L584.2,1108.0L584.6,1107.0L585.1,1114.1L585.5,1112.2L585.9,1120.6L586.3,1118.2L586.9,1125.9L587.5,1124.7L588.0,1131.0L588.8,1130.2L589.6,1136.4L590.9,1134.5L593.0,1141.3L595.6,1135.4L597.9,1138.3L600.5,1133.6L602.9,1137.3L605.2,1132.2L607.4,1134.2L609.4,1129.1L611.2,1131.9L613.1,1124.8L615.1,1127.2L616.8,1121.1L618.5,1123.1L620.3,1115.6L622.0,1118.4L623.7,1110.6L625.4,1113.2L627.1,1105.8L628.4,1108.2L629.6,1100.2L630.9,1102.7L632.1,1096.2L633.4,1098.4L634.6,1090.3L635.9,1093.1L637.1,1086.3L638.4,1086.6L639.6,1080.5L640.9,1082.1L642.1,1074.9L643.4,1077.3L644.7,1070.5L645.9,1072.3L647.2,1066.7L648.5,1067.8L649.7,1061.4L651.0,1063.7L652.3,1056.5L653.5,1059.3L654.8,1052.1L656.0,1054.6L657.3,1047.9L658.5,1050.0L659.7,1043.4L660.9,1046.2L662.1,1039.3L663.3,1040.6L664.4,1033.6L665.6,1035.3L666.8,1028.3L667.9,1029.6L669.0,1023.1L670.2,1025.1L671.6,1017.8L673.0,1019.1L674.8,1013.0L677.4,1017.6L679.6,1014.0L681.1,1020.5L682.5,1020.0L683.6,1026.0L685.0,1023.9L686.3,1032.2L687.5,1028.6L688.7,1036.0L689.7,1033.3L690.8,1041.2L691.7,1038.4L692.7,1046.4L693.7,1043.7L694.7,1051.2L695.7,1049.4L696.7,1056.2L697.7,1054.3L698.7,1063.1L699.7,1061.6L700.8,1068.4L701.8,1065.5L702.9,1073.5L704.1,1070.3L705.6,1078.6L707.2,1075.7L708.8,1081.8L710.4,1079.8L711.9,1086.0L713.5,1084.5L714.7,1090.5L715.6,1088.5L716.5,1096.0L718.1,1093.4L720.8,1099.5L723.5,1094.2L725.7,1097.4L728.2,1090.5L730.7,1094.4L733.2,1088.0L735.7,1090.0L738.1,1085.3L740.2,1088.4L742.4,1081.8L744.4,1084.9L746.9,1079.8L748.9,1082.1L751.0,1076.3L753.0,1078.6L755.1,1073.5L757.2,1076.2L759.2,1069.9L761.3,1071.6L763.3,1065.1L765.4,1068.5L767.5,1061.6L769.6,1064.2L771.8,1057.6L774.1,1060.8L776.2,1055.1L778.3,1057.4L780.4,1050.2L782.5,1053.3L784.5,1047.1L786.8,1050.3L789.1,1043.1L790.9,1047.2L790.0,1039.9L791.9,1046.1L794.3,1042.7L796.7,1048.8L799.0,1044.9L801.3,1051.4L803.6,1048.2L805.8,1054.3L808.2,1051.8L810.2,1057.4L812.2,1054.9L814.2,1060.7L816.1,1057.7L818.1,1063.9L820.1,1062.6L822.1,1068.4L824.1,1066.0L826.0,1071.2L827.9,1070.5L829.8,1076.4L831.7,1073.8L833.7,1080.9L835.8,1077.4L838.5,1083.2L841.4,1078.6L843.9,1082.1L846.5,1077.7L849.2,1081.0L851.9,1076.6L854.7,1079.9L857.5,1073.9L860.3,1076.6L863.1,1070.7L866.0,1075.1L868.3,1068.7L870.7,1072.1L873.0,1066.9L875.4,1070.3L877.7,1064.6L880.0,1068.4L882.2,1062.8L884.4,1066.4L886.6,1060.7L888.6,1062.6L890.7,1056.2L892.7,1059.8L894.7,1053.8L897.3,1056.5L900.0,1050.7L902.8,1053.6L905.8,1049.3L908.3,1054.0L910.9,1050.6L913.6,1055.1L916.3,1052.2L919.0,1057.6L921.8,1053.3L924.5,1058.6L927.2,1056.5L929.9,1061.2L932.6,1057.1L935.4,1062.5L938.3,1059.8L941.1,1066.1L944.0,1062.9L946.8,1068.2L949.5,1065.0L952.1,1069.9L954.5,1067.1L957.2,1072.7L959.5,1069.6L961.8,1075.9L963.7,1074.1L965.8,1080.0L968.0,1076.9L970.5,1082.5L973.2,1077.8L975.7,1081.1L978.3,1076.7L981.0,1079.1L983.8,1072.9L986.0,1076.6L988.2,1070.9L991.0,1074.7L993.7,1068.4L996.3,1070.6L998.9,1065.2L1001.0,1067.9L1003.1,1063.2L1005.8,1065.5L1008.5,1060.1L1011.2,1062.1L1013.9,1056.7L1016.7,1061.7L1019.4,1057.1L1022.2,1060.7L1025.1,1057.2L1027.9,1061.8L1030.9,1056.6L1033.8,1062.0L1036.9,1058.6L1039.4,1062.6L1042.0,1058.9L1044.6,1064.7L1047.3,1060.9L1050.0,1065.9L1052.7,1060.7L1055.4,1066.6L1058.1,1063.3L1060.8,1067.2L1063.5,1063.1L1066.2,1067.3L1069.1,1063.7L1072.0,1068.5L1074.9,1064.8L1077.8,1068.7L1080.7,1063.7L1083.3,1067.8L1085.8,1064.4L1088.6,1067.6L1091.3,1064.0L1093.7,1066.3L1095.6,1060.7L1097.7,1062.8L1100.5,1057.7L1103.3,1062.1L1105.9,1057.0L1108.7,1060.8L1111.8,1056.0L1114.9,1060.0L1118.0,1053.7L1121.0,1057.4L1123.9,1053.4L1126.5,1057.4L1129.4,1051.9L1131.8,1056.7L1134.5,1051.8L1137.3,1056.0L1140.3,1050.4L1143.0,1055.2L1145.6,1050.3L1148.6,1056.0L1151.3,1051.0L1154.1,1056.6L1157.1,1052.7L1160.1,1057.0L1163.1,1054.9L1166.1,1059.6L1168.9,1055.2L1171.6,1059.6L1174.6,1056.6L1177.2,1061.7L1179.9,1056.2L1182.4,1060.8L1185.3,1055.9L1187.9,1060.8L1190.8,1056.6L1193.7,1060.6L1196.8,1056.1L1199.4,1060.1L1202.2,1055.8L1205.0,1060.3L1207.9,1055.7L1210.9,1059.7L1213.8,1054.2L1216.7,1059.4L1219.5,1053.8L1222.3,1057.9L1225.1,1054.3L1227.8,1057.9L1230.6,1053.4L1233.4,1056.8L1236.2,1053.4L1239.0,1056.3L1241.7,1051.8L1244.5,1056.8L1247.3,1051.7L1250.1,1055.8L1252.9,1051.5L1255.6,1055.8L1258.4,1050.8L1261.2,1055.5L1263.9,1051.4L1266.7,1055.0L1269.5,1052.2L1272.2,1055.9L1275.0,1051.3L1277.8,1055.8L1280.6,1052.0L1283.3,1057.5L1286.1,1053.0L1288.9,1057.2L1291.7,1053.4L1294.5,1058.0L1297.2,1053.9L1300.0,1060.1L1302.8,1055.2L1305.6,1060.0L1308.4,1055.7L1311.1,1060.2L1313.9,1056.4L1316.7,1060.6L1319.4,1055.9L1322.2,1061.1L1325.0,1056.2L1327.7,1061.1L1330.5,1055.6L1333.3,1059.8L1335.9,1055.9L1338.6,1059.6L1341.2,1055.9L1343.9,1059.2L1346.5,1054.8L1349.3,1058.5L1352.1,1053.0L1355.1,1057.1L1358.2,1052.1L1361.4,1057.0L1364.7,1052.4L1368.0,1056.4L1370.5,1052.1L1373.1,1056.1L1375.8,1051.5L1378.5,1055.8L1381.3,1051.8L1384.2,1055.7L1387.3,1052.1L1390.4,1056.3L1393.7,1051.5L1397.2,1056.9L1399.7,1051.6L1402.4,1057.0L1405.3,1052.2L1408.3,1055.8L1411.4,1053.0L1414.6,1057.1L1417.9,1053.3L1421.2,1056.8L1424.4,1053.0L1427.7,1057.9L1430.9,1054.2L1433.9,1058.9L1436.9,1054.9L1439.7,1059.0L1442.4,1055.1L1446.0,1059.2L1449.1,1055.1L1451.5,1059.8" stroke="#0000ff" stroke-width="7.0"/>
<path d="M180.0,1066.7L181.9,1062.6L184.5,1068.3L187.7,1064.9L190.7,1069.1L193.3,1065.6L196.0,1070.6L198.9,1065.6L201.9,1070.7L205.0,1067.1L208.2,1072.1L211.3,1068.6L214.4,1073.0L217.5,1069.4L220.4,1073.9L223.3,1069.2L226.2,1075.1L229.2,1071.4L232.2,1075.1L235.3,1070.5L238.3,1076.4L241.4,1071.7L244.5,1076.8L247.5,1072.2L250.6,1076.5L253.7,1073.2L256.7,1077.3L259.8,1074.0L262.8,1078.5L265.8,1074.8L268.9,1078.2L271.9,1074.3L274.9,1079.9L277.9,1075.5L280.9,1080.4L284.0,1075.1L287.0,1079.7L290.0,1075.4L293.0,1080.1L296.1,1076.5L299.1,1080.3L302.1,1077.4L305.2,1081.5L308.3,1076.4L311.5,1080.7L314.7,1077.3L317.9,1081.6L321.1,1076.9L324.3,1080.8L327.4,1076.7L330.4,1080.7L333.4,1076.2L336.2,1081.5L338.9,1076.5L341.5,1081.8L344.8,1077.1L347.9,1080.4L350.8,1076.2L353.6,1081.3L356.3,1075.5L358.8,1080.8L361.8,1075.5L364.7,1079.4L367.3,1074.4L370.1,1078.7L372.5,1072.7L374.9,1076.9L377.3,1070.7L379.5,1073.8L381.9,1068.1L384.2,1070.1L386.7,1064.0L388.8,1067.6L390.9,1062.2L393.0,1063.7L395.0,1058.3L396.9,1061.0L399.1,1054.8L401.1,1056.8L403.0,1050.0L404.9,1052.9L406.7,1046.7L408.4,1049.4L409.9,1042.1L411.2,1043.9L412.3,1037.8L413.4,1039.8L414.4,1031.8L415.3,1033.6L416.3,1026.6L417.0,1028.1L417.7,1020.8L418.4,1022.7L418.9,1016.1L419.4,1018.1L419.9,1010.0L420.3,1011.3L420.8,1002.8L421.2,1004.3L421.7,997.0L422.1,998.7L422.5,990.6L423.0,992.2L423.4,984.0L423.8,986.4L424.3,978.6L424.8,981.2L425.4,973.1L426.1,973.8L426.7,967.2L427.4,968.5L428.0,961.3L428.6,963.3L429.4,956.5L430.0,957.8L430.7,951.3L431.3,953.6L432.0,946.2L433.5,950.2L434.4,949.4L435.2,956.1L435.8,954.1L436.5,961.1L437.0,959.6L437.6,966.4L438.0,966.1L438.4,973.8L438.7,971.8L439.1,978.4L439.4,977.7L439.7,986.0L440.0,985.4L440.2,991.6L440.4,991.0L440.6,996.5L440.8,995.0L441.0,1002.5L441.2,1000.4L441.4,1008.9L441.6,1006.2L441.8,1013.5L442.0,1012.8L442.2,1020.0L442.4,1018.3L442.6,1024.3L442.8,1023.5L443.0,1030.2L443.2,1029.5L443.4,1035.9L443.6,1035.8L443.8,1041.6L444.0,1040.4L444.1,1047.8L444.3,1047.4L444.5,1054.9L444.7,1053.3L444.9,1061.5L445.1,1058.9L445.3,1067.3L445.5,1066.0L445.7,1073.6L445.9,1072.3L446.2,1079.0L446.4,1078.2L446.6,1085.6L446.8,1084.7L447.1,1091.6L447.3,1090.5L447.6,1097.0L447.8,1095.6L448.1,1103.8L448.3,1102.3L448.6,1109.2L448.9,1108.8L449.1,1115.1L449.4,1114.0L449.6,1122.2L449.9,1120.6L450.2,1128.3L450.4,1126.8L450.7,1134.1L451.0,1131.9L451.2,1139.5L451.5,1138.5L451.7,1146.1L452.0,1145.5L452.2,1152.0L452.5,1151.3L452.7,1158.4L453.0,1157.5L453.2,1165.6L453.5,1165.0L453.7,1172.3L454.0,1171.5L454.2,1178.9L454.5,1178.2L454.7,1185.2L455.0,1184.4L455.2,1191.7L455.5,1189.7L455.7,1196.6L456.0,1195.4L456.4,1202.8L456.7,1201.1L457.1,1209.3L457.4,1206.6L457.8,1215.5L458.2,1212.9L458.6,1220.7L459.3,1219.2L460.3,1225.8L462.1,1223.7L464.6,1226.9L466.6,1220.7L468.5,1223.4L470.0,1217.0L471.7,1219.4L473.3,1212.2L474.7,1214.5L476.2,1207.4L477.7,1208.8L478.9,1202.3L480.1,1203.6L481.3,1197.5L482.5,1199.1L483.6,1192.4L484.8,1193.8L485.9,1187.6L487.0,1189.2L488.0,1182.9L489.0,1185.4L489.9,1177.7L490.9,1180.6L491.8,1173.2L492.7,1175.9L493.5,1167.7L494.4,1171.0L495.2,1164.0L496.1,1164.8L496.9,1158.8L497.7,1160.4L498.5,1153.8L499.3,1155.9L500.1,1148.0L500.9,1150.5L501.7,1143.2L502.4,1143.4L503.2,1137.0L503.9,1139.1L504.7,1131.7L505.4,1133.6L506.1,1126.2L506.8,1127.7L507.5,1118.9L508.3,1121.5L509.0,1113.5L509.7,1115.4L510.5,1108.2L511.2,1108.3L512.0,1101.4L512.7,1103.3L513.5,1095.6L514.2,1096.4L514.9,1089.8L515.7,1089.5L516.4,1082.3L517.2,1083.8L517.9,1076.1L518.7,1078.4L519.4,1071.1L520.1,1070.8L520.9,1063.5L521.6,1065.1L522.4,1058.6L523.1,1059.4L523.9,1051.7L524.7,1053.5L525.4,1045.5L526.2,1048.2L526.9,1040.9L527.7,1041.9L528.4,1034.8L529.2,1036.3L529.9,1028.4L530.6,1031.0L531.4,1023.2L532.1,1024.4L532.9,1017.2L533.6,1020.2L534.4,1012.0L535.1,1014.4L535.8,1007.1L536.6,1009.3L537.3,1001.8L538.1,1004.3L539.1,997.0L540.1,997.8L541.1,990.5L542.2,991.3L543.3,984.2L544.3,986.1L545.4,978.1L546.4,980.5L547.4,973.5L548.5,976.2L549.7,968.1L550.7,970.8L551.9,963.6L553.8,966.1L555.7,964.8L557.2,970.8L558.4,969.1L559.4,975.3L560.3,974.1L561.1,980.6L561.8,979.8L562.5,986.3L563.1,985.5L563.8,992.0L564.3,991.5L564.8,998.3L565.3,996.3L565.8,1003.1L566.3,1001.7L566.8,1007.7L567.3,1007.0L567.8,1012.8L568.3,1012.5L568.8,1018.5L569.3,1018.2L569.8,1025.2L570.3,1022.8L570.8,1030.4L571.2,1029.9L571.7,1036.2L572.2,1035.2L572.7,1042.1L573.2,1040.4L573.7,1047.6L574.2,1046.5L574.7,1052.6L575.2,1052.3L575.7,1058.8L576.2,1057.4L576.7,1063.2L577.2,1062.4L577.8,1068.7L578.5,1067.3L579.2,1076.3L579.9,1075.0L580.4,1081.9L580.9,1078.7L581.4,1086.4L581.9,1084.9L582.4,1092.5L582.9,1090.9L583.4,1097.0L583.9,1095.9L584.4,1103.0L584.9,1101.4L585.4,1109.0L586.0,1106.5L586.7,1113.1L587.5,1111.9L588.6,1118.7L590.4,1117.4L592.8,1121.6L594.3,1119.4L596.5,1123.8L598.8,1118.7L601.1,1122.6L603.8,1116.5L606.1,1120.0L608.4,1113.5L610.8,1116.7L613.0,1110.0L615.1,1112.3L617.2,1106.4L619.2,1107.8L620.9,1101.1L622.6,1103.8L624.3,1097.2L625.9,1100.2L627.6,1093.9L629.3,1095.4L630.9,1088.7L632.6,1089.4L634.4,1082.5L635.6,1085.1L636.9,1079.5L638.2,1080.5L639.5,1074.5L640.8,1075.9L642.0,1070.3L643.3,1071.9L644.9,1064.2L646.4,1065.9L647.9,1059.5L649.4,1061.6L650.8,1053.7L652.2,1054.9L653.5,1048.8L654.9,1050.5L656.1,1043.5L657.4,1045.3L658.6,1038.5L660.1,1040.8L661.5,1034.0L662.8,1035.4L664.1,1030.0L665.5,1030.6L667.2,1025.0L669.4,1027.8L671.8,1023.3L673.6,1029.8L675.1,1028.4L676.6,1035.1L677.9,1033.0L679.1,1039.4L680.6,1036.8L682.1,1044.0L683.6,1041.7L684.9,1048.6L686.1,1047.2L687.4,1053.5L688.6,1051.1L689.9,1057.9L691.1,1057.5L692.0,1063.9L693.0,1061.1L693.9,1068.5L694.9,1066.2L695.9,1073.4L696.9,1071.0L697.9,1078.7L699.2,1076.2L700.7,1082.4L702.3,1081.1L704.0,1087.1L706.2,1085.0L708.3,1090.6L710.4,1088.3L712.6,1093.6L714.9,1089.8L717.3,1096.2L719.9,1092.0L722.4,1096.0L725.0,1089.7L727.5,1092.8L730.1,1088.1L732.3,1091.4L734.6,1085.8L736.8,1088.4L739.3,1083.1L741.8,1085.7L743.9,1079.2L746.0,1081.5L748.0,1076.1L750.1,1079.3L752.2,1073.3L754.3,1076.0L756.4,1069.6L758.6,1073.6L760.8,1066.2L763.1,1069.8L765.3,1063.5L767.4,1065.5L769.4,1059.9L771.5,1063.3L773.4,1055.9L774.9,1058.1L776.2,1050.5L777.7,1054.1L780.0,1048.1L782.5,1052.1L784.9,1049.3L787.1,1055.5L789.4,1053.2L791.6,1060.0L793.8,1055.8L795.9,1063.4L798.0,1060.7L800.0,1066.4L802.1,1063.7L804.2,1070.0L806.4,1068.5L808.7,1074.7L810.8,1070.9L813.1,1077.6L815.4,1075.0L817.8,1080.3L820.1,1078.5L822.4,1084.7L824.9,1081.1L827.5,1087.1L830.2,1082.5L832.9,1086.5L835.5,1081.5L838.1,1084.1L840.7,1079.9L843.1,1083.4L845.7,1077.5L848.4,1080.8L851.2,1076.6L854.1,1079.2L856.9,1073.1L859.7,1077.0L862.5,1071.9L865.5,1074.4L867.9,1070.3L870.3,1073.6L872.7,1068.5L875.0,1072.2L877.9,1066.3L880.7,1069.8L883.3,1063.5L885.7,1067.3L888.1,1061.8L890.3,1064.4L892.8,1059.1L895.4,1062.6L897.9,1057.1L900.5,1061.7L903.1,1057.5L905.7,1063.4L907.8,1061.6L910.0,1066.7L912.2,1064.9L914.4,1071.0L916.8,1068.4L919.2,1074.5L921.8,1070.6L924.4,1076.3L927.2,1073.5L930.0,1078.9L932.7,1076.9L935.4,1082.4L938.0,1078.0L940.9,1082.8L943.6,1078.2L946.0,1081.8L948.4,1076.7L950.9,1079.5L953.6,1074.3L956.1,1077.3L958.9,1072.9L961.3,1075.8L963.9,1071.6L966.5,1075.0L969.3,1070.6L972.0,1072.9L974.8,1068.7L977.6,1072.2L980.4,1066.3L983.1,1071.3L985.8,1066.3L988.6,1070.4L991.3,1064.5L994.1,1068.0L996.9,1063.7L999.7,1067.2L1002.3,1062.5L1004.9,1067.4L1008.0,1063.5L1010.8,1067.7L1013.4,1063.8L1016.0,1067.4L1018.4,1063.9L1020.8,1069.9L1023.2,1067.1L1026.0,1072.8L1028.7,1067.5L1031.6,1073.6L1034.1,1068.9L1036.7,1074.4L1039.4,1070.4L1042.2,1074.0L1045.0,1070.9L1047.8,1075.1L1050.5,1072.1L1053.3,1076.4L1055.9,1070.9L1058.7,1075.6L1061.4,1071.9L1064.2,1076.2L1067.0,1071.2L1069.8,1076.0L1072.5,1071.6L1075.1,1075.6L1077.6,1071.9L1080.6,1075.3L1083.4,1071.2L1086.2,1075.1L1088.9,1071.9L1091.4,1075.6L1094.0,1070.8L1096.8,1076.0L1099.4,1071.0L1102.4,1074.8L1105.4,1069.5L1108.0,1073.7L1110.7,1069.1L1113.4,1072.5L1116.2,1068.5L1119.2,1071.3L1122.2,1067.8L1125.3,1072.1L1128.5,1066.3L1131.1,1071.5L1133.7,1067.8L1136.5,1072.0L1139.4,1068.1L1142.3,1072.7L1145.2,1068.5L1148.2,1074.5L1151.1,1069.7L1154.0,1074.9L1156.8,1070.6L1159.6,1075.4L1162.2,1071.6L1164.7,1076.5L1167.8,1071.1L1170.7,1076.1L1173.4,1072.3L1176.0,1076.0L1178.6,1071.4L1181.2,1076.8L1183.8,1072.5L1186.5,1076.7L1189.4,1071.2L1192.5,1075.4L1195.8,1071.9L1198.4,1075.0L1201.1,1071.5L1203.8,1075.2L1206.6,1069.9L1209.5,1073.6L1212.3,1069.0L1215.2,1072.9L1218.1,1068.6L1221.0,1072.4L1223.9,1067.9L1226.7,1072.0L1229.5,1067.3L1232.3,1072.4L1235.1,1067.5L1238.0,1071.5L1240.9,1067.6L1243.8,1071.2L1246.7,1067.4L1249.5,1070.5L1252.4,1066.7L1255.2,1071.3L1257.9,1067.6L1260.6,1070.6L1263.2,1066.2L1265.7,1070.7L1268.9,1066.5L1271.9,1071.2L1274.8,1067.5L1277.6,1072.4L1280.3,1069.2L1282.9,1074.0L1285.5,1069.5L1288.1,1074.8L1290.8,1071.0L1293.5,1075.1L1296.3,1070.3L1298.9,1076.1L1301.6,1070.2L1304.2,1075.0L1306.9,1070.9L1309.5,1075.9L1312.3,1071.4L1315.1,1075.9L1318.1,1070.9L1321.2,1074.9L1324.5,1070.4L1327.1,1073.8L1329.7,1069.3L1332.4,1073.6L1335.2,1070.0L1338.0,1073.7L1340.9,1068.0L1343.8,1072.7L1346.6,1068.2L1349.5,1072.6L1352.4,1066.6L1355.3,1071.8L1358.1,1067.2L1360.9,1071.5L1363.7,1067.1L1366.5,1070.3L1369.4,1066.2L1372.3,1070.7L1375.2,1067.0L1378.1,1070.2L1380.9,1066.2L1383.7,1071.2L1386.5,1067.3L1389.2,1070.4L1391.8,1066.7L1394.4,1072.0L1397.6,1066.8L1400.7,1072.3L1403.6,1067.6L1406.4,1072.1L1409.1,1068.2L1411.7,1072.3L1414.4,1068.8L1417.0,1073.4L1419.6,1069.9L1422.3,1073.3L1425.1,1069.6L1428.1,1074.3L1431.3,1069.5L1434.5,1073.8L1437.8,1069.1L1440.9,1072.7L1443.8,1069.4L1446.5,1072.9L1449.4,1068.2L1451.5,1072.4" stroke="#007a00" stroke-width="7.0"/>
<path d="M180.0,1065.7L181.9,1061.6L184.5,1065.1L187.7,1061.6L190.7,1066.0L193.3,1062.4L196.0,1066.0L198.9,1063.8L201.9,1067.9L205.0,1063.4L208.2,1067.1L211.3,1064.4L214.4,1068.1L217.5,1065.2L220.4,1068.1L223.3,1065.4L226.2,1068.4L229.2,1065.8L232.2,1069.6L235.3,1065.8L238.3,1069.0L241.4,1065.9L244.5,1068.9L247.5,1065.3L250.6,1069.6L253.7,1065.7L256.7,1070.3L259.8,1066.5L262.8,1069.7L265.8,1066.0L268.9,1069.9L271.9,1065.7L274.9,1069.3L277.9,1066.2L280.9,1069.3L284.0,1065.1L287.0,1069.7L290.0,1065.4L293.0,1068.9L296.1,1064.7L299.1,1068.6L302.1,1065.1L305.2,1068.8L308.3,1064.3L311.5,1068.7L314.7,1064.0L317.9,1067.7L321.1,1064.4L324.3,1067.4L327.4,1063.7L330.4,1067.5L333.4,1064.1L336.2,1067.9L338.9,1064.0L341.5,1067.5L344.8,1063.9L347.9,1067.5L350.8,1063.6L353.6,1067.8L356.3,1063.9L358.8,1067.3L361.8,1064.2L364.7,1066.4L367.3,1063.3L370.1,1066.4L372.4,1060.9L374.6,1062.4L376.7,1057.4L378.9,1059.6L381.1,1053.8L383.7,1056.6L386.2,1052.2L388.8,1054.6L391.6,1050.5L394.3,1053.7L397.0,1050.1L399.5,1052.0L402.1,1047.4L404.4,1051.0L406.8,1046.1L409.3,1048.7L411.5,1043.2L413.3,1044.0L414.9,1039.3L416.0,1039.5L417.0,1033.6L417.9,1034.8L418.6,1028.0L419.2,1028.9L419.7,1023.5L420.2,1024.4L420.7,1017.1L421.0,1018.1L421.3,1011.4L421.7,1011.8L422.0,1006.4L422.2,1005.7L422.5,999.7L422.8,999.3L423.1,992.9L423.3,993.2L423.6,986.6L423.9,986.5L424.2,980.2L424.5,981.0L424.8,973.3L425.1,975.0L425.4,968.2L425.7,968.1L425.9,960.7L426.2,962.0L426.5,954.6L426.8,954.8L427.1,948.6L427.4,949.9L427.7,943.5L428.1,944.0L428.5,937.4L429.0,937.4L429.5,931.5L430.0,931.5L430.5,925.0L431.1,926.6L431.7,919.2L432.6,920.7L434.4,917.9L435.3,923.1L436.0,922.5L436.5,929.0L437.0,927.7L437.5,934.7L437.8,933.2L438.2,941.0L438.5,939.3L438.8,946.7L439.1,945.5L439.3,951.4L439.5,951.0L439.7,957.4L439.9,957.1L440.1,964.5L440.3,963.7L440.5,969.9L440.7,969.7L440.9,976.4L441.1,976.9L441.3,984.0L441.5,983.8L441.7,990.6L441.9,990.0L442.1,996.6L442.3,995.7L442.5,1002.8L442.7,1002.9L442.9,1009.1L443.1,1008.5L443.3,1015.4L443.5,1014.4L443.7,1021.5L443.9,1020.2L444.1,1027.4L444.3,1026.1L444.5,1033.4L444.7,1033.2L444.9,1038.8L445.1,1039.2L445.3,1045.3L445.5,1044.1L445.7,1051.0L445.9,1051.4L446.1,1057.0L446.3,1056.7L446.5,1064.0L446.7,1062.4L446.9,1069.0L447.1,1069.5L447.3,1075.6L447.5,1075.1L447.7,1082.2L447.9,1081.3L448.1,1088.2L448.3,1086.6L448.5,1094.3L448.7,1093.9L448.9,1100.1L449.1,1099.5L449.3,1106.5L449.5,1104.8L449.7,1111.4L449.9,1111.9L450.1,1118.0L450.3,1117.4L450.5,1123.6L450.7,1124.2L450.9,1129.8L451.1,1130.1L451.3,1136.2L451.5,1136.5L451.6,1143.1L451.8,1143.1L452.0,1150.0L452.2,1149.7L452.4,1155.8L452.6,1156.0L452.8,1163.1L453.0,1161.8L453.2,1169.0L453.4,1167.7L453.6,1175.2L453.8,1174.0L454.1,1180.0L454.5,1179.9L454.9,1187.1L455.3,1185.7L455.8,1192.5L456.2,1191.6L456.7,1198.5L457.2,1198.1L457.9,1204.0L458.6,1203.0L459.5,1209.9L460.7,1207.9L462.4,1214.2L464.6,1209.3L466.3,1210.8L467.8,1205.9L469.4,1206.3L470.8,1201.0L472.6,1202.0L474.1,1195.9L475.7,1197.2L477.4,1190.9L478.8,1192.9L480.1,1186.5L481.5,1187.4L482.9,1182.0L484.3,1182.7L485.8,1175.9L486.9,1177.3L488.0,1171.5L489.1,1172.3L490.2,1166.3L491.4,1168.0L492.5,1161.3L493.7,1161.7L494.8,1156.3L496.0,1157.7L497.1,1150.7L498.2,1152.1L499.2,1145.3L500.3,1147.4L501.7,1140.5L503.0,1142.0L504.3,1134.9L505.7,1136.2L507.0,1130.1L508.2,1131.0L509.5,1123.5L510.8,1124.5L512.1,1119.2L513.5,1119.4L514.8,1113.0L516.1,1113.4L517.5,1106.8L518.8,1106.7L520.2,1101.1L521.5,1101.9L522.8,1094.7L524.1,1095.4L525.4,1088.1L526.6,1088.8L527.9,1082.8L528.8,1083.8L529.7,1077.6L530.6,1079.2L531.6,1072.7L532.7,1074.3L533.9,1066.6L535.0,1067.5L536.1,1061.5L537.2,1061.7L538.2,1056.1L539.1,1057.0L540.3,1051.1L541.3,1052.1L542.4,1045.3L543.4,1046.6L544.5,1041.3L545.6,1042.2L546.9,1036.4L548.1,1036.4L549.3,1031.6L550.7,1033.1L552.8,1027.4L555.2,1031.6L557.3,1029.9L559.0,1034.8L560.6,1033.7L561.9,1040.1L562.9,1039.2L563.7,1044.6L564.5,1044.1L565.3,1050.2L566.1,1049.6L567.0,1056.0L567.9,1055.8L568.7,1061.8L569.5,1060.5L570.3,1066.3L571.1,1066.1L572.0,1072.3L572.8,1071.2L573.7,1077.7L574.5,1076.5L575.4,1083.6L576.4,1082.6L577.5,1089.1L578.6,1087.5L579.6,1094.1L580.7,1092.6L581.9,1097.8L583.1,1097.6L584.3,1103.4L585.5,1101.5L586.6,1107.5L588.0,1107.0L589.6,1112.7L591.8,1109.9L594.2,1113.9L596.8,1110.6L599.3,1113.7L601.6,1108.3L603.8,1110.0L606.2,1105.1L608.6,1107.3L610.6,1102.2L613.0,1104.1L615.4,1099.2L617.9,1101.0L620.0,1095.2L622.1,1097.9L624.2,1092.7L626.3,1094.7L628.4,1089.9L630.5,1091.2L632.6,1086.5L634.8,1088.7L636.9,1083.3L639.1,1084.5L641.2,1080.4L643.3,1081.8L645.3,1076.5L647.2,1077.8L649.0,1073.1L650.8,1074.5L652.6,1069.0L654.3,1071.5L656.3,1065.6L658.1,1067.3L660.1,1061.6L662.0,1063.7L664.0,1058.7L666.4,1061.6L668.9,1056.9L671.2,1062.7L673.4,1060.3L675.5,1065.2L677.7,1062.9L680.1,1068.4L682.3,1066.1L684.7,1071.9L687.3,1069.5L689.4,1074.4L691.6,1072.6L693.8,1077.4L696.4,1074.4L698.9,1079.7L701.4,1077.5L703.9,1082.4L706.4,1080.3L708.9,1084.0L711.4,1081.8L713.9,1085.1L716.4,1081.0L718.9,1084.0L721.4,1079.9L723.9,1083.0L726.4,1077.4L728.9,1080.1L731.3,1075.8L733.9,1078.6L736.4,1074.8L738.9,1076.3L741.4,1072.0L743.9,1075.3L746.4,1070.4L748.9,1072.5L751.4,1067.6L753.9,1070.4L756.4,1066.2L758.9,1068.0L761.4,1063.6L763.9,1066.9L766.5,1062.2L769.2,1064.9L771.8,1060.2L774.4,1063.0L776.9,1058.6L779.5,1061.7L782.0,1058.8L784.3,1062.7L786.3,1060.7L788.5,1066.6L790.9,1065.0L793.3,1068.8L795.9,1067.5L798.2,1071.3L800.7,1069.3L803.3,1074.6L806.1,1072.0L808.6,1075.1L811.4,1072.7L814.3,1077.5L817.4,1073.8L820.4,1078.5L823.5,1074.3L826.4,1078.8L829.1,1074.8L832.0,1078.6L834.7,1074.4L837.1,1076.2L839.6,1071.6L842.1,1073.4L844.8,1068.2L847.3,1071.0L850.1,1067.4L853.0,1070.1L855.5,1066.4L858.1,1068.6L860.7,1065.4L863.3,1067.5L865.9,1063.5L868.4,1067.4L870.9,1062.1L873.9,1065.5L876.9,1061.7L879.9,1064.1L882.9,1061.0L885.9,1062.9L888.7,1059.7L891.5,1062.3L894.2,1059.4L896.7,1063.1L899.4,1060.0L901.8,1065.4L904.2,1062.3L906.7,1067.1L909.3,1065.0L911.8,1069.8L914.6,1066.2L917.7,1070.2L920.2,1067.2L922.9,1071.2L925.6,1068.1L928.4,1072.2L931.2,1069.8L934.0,1073.4L936.8,1069.6L939.5,1073.4L942.2,1069.4L944.8,1073.9L947.5,1069.9L950.1,1073.7L952.8,1068.7L955.4,1072.5L958.0,1069.0L960.7,1072.4L963.3,1068.6L966.0,1072.1L968.7,1067.6L971.4,1071.1L974.1,1066.2L976.9,1069.3L979.6,1065.2L982.3,1068.6L985.0,1064.3L987.6,1067.2L990.2,1063.2L993.2,1066.0L996.1,1061.9L998.8,1064.7L1001.4,1060.7L1004.0,1064.2L1006.5,1061.3L1009.1,1064.7L1011.7,1060.8L1014.5,1064.5L1017.2,1061.7L1020.0,1065.0L1022.8,1062.3L1025.6,1067.0L1028.5,1064.5L1031.4,1068.2L1034.4,1065.9L1037.5,1069.8L1040.1,1066.4L1042.6,1070.9L1045.3,1067.0L1048.0,1071.6L1050.7,1067.4L1053.4,1071.4L1056.1,1068.0L1058.8,1071.9L1061.5,1067.6L1064.2,1071.7L1066.9,1068.3L1069.8,1071.6L1072.7,1067.9L1075.7,1070.5L1078.6,1067.2L1081.3,1070.2L1084.0,1067.2L1087.0,1070.5L1089.6,1066.1L1092.3,1069.4L1094.8,1066.1L1097.4,1069.0L1100.0,1065.0L1102.6,1067.8L1105.7,1063.3L1108.4,1067.4L1111.2,1063.0L1114.2,1066.0L1117.3,1062.0L1120.4,1064.7L1123.4,1061.2L1126.3,1065.4L1129.1,1061.3L1131.9,1064.4L1134.6,1061.5L1137.4,1065.5L1140.2,1062.9L1143.0,1066.5L1145.8,1062.8L1148.6,1067.5L1151.3,1063.9L1154.1,1068.2L1156.9,1065.3L1159.7,1068.4L1162.4,1065.6L1165.2,1069.7L1168.0,1067.0L1170.7,1070.8L1173.5,1066.8L1176.3,1070.5L1179.0,1067.8L1181.8,1070.6L1184.6,1068.1L1187.3,1070.8L1189.9,1067.8L1192.6,1070.4L1195.2,1066.9L1197.9,1069.4L1200.6,1065.6L1203.4,1069.2L1206.3,1065.7L1209.4,1068.5L1212.7,1064.7L1215.2,1068.4L1218.0,1064.5L1220.8,1067.2L1223.6,1063.5L1226.6,1066.6L1229.5,1063.4L1232.5,1065.9L1235.4,1063.2L1238.2,1066.0L1241.0,1062.2L1243.8,1066.3L1246.3,1062.2L1249.6,1065.1L1252.7,1062.5L1255.6,1065.7L1258.4,1062.7L1261.1,1065.7L1263.7,1062.6L1266.4,1066.4L1269.0,1063.4L1271.6,1066.5L1274.3,1063.1L1277.1,1067.8L1279.9,1064.6L1282.6,1068.3L1285.4,1065.4L1288.2,1068.2L1291.0,1065.4L1293.8,1069.7L1296.6,1066.4L1299.3,1069.7L1302.1,1066.0L1304.9,1070.8L1307.7,1066.8L1310.4,1069.8L1313.2,1066.4L1316.0,1071.2L1318.7,1066.9L1321.5,1071.2L1324.3,1067.0L1327.0,1070.8L1329.8,1066.1L1332.6,1070.6L1335.3,1066.7L1337.9,1069.6L1340.6,1066.4L1343.2,1068.7L1345.9,1065.1L1348.6,1068.1L1351.4,1063.9L1354.3,1068.4L1357.4,1064.3L1360.6,1066.9L1363.9,1064.3L1367.2,1067.7L1369.7,1063.2L1372.2,1067.4L1374.9,1063.2L1377.6,1066.7L1380.4,1063.3L1383.3,1067.3L1386.2,1063.6L1389.4,1067.6L1392.6,1064.3L1396.0,1067.6L1399.7,1064.7L1402.4,1067.5L1405.3,1063.7L1408.3,1067.5L1411.4,1063.6L1414.6,1067.5L1417.9,1064.6L1421.2,1068.4L1424.4,1064.6L1427.7,1068.3L1430.9,1065.5L1433.9,1068.9L1436.9,1065.8L1439.7,1069.3L1442.4,1065.4L1446.0,1068.7L1449.1,1066.1L1451.5,1069.9" stroke="#ff0000" stroke-width="7.0"/>
</g>
<rect x="180.0" y="725.5" width="1269.5" height="625.0" fill="none" stroke="#000" stroke-width="11.5"/>
<clipPath id="c1R"><rect x="1544.0" y="725.5" width="635.0" height="625.0"/></clipPath>
<path d="M1592.8,725.5v35.5M1592.8,1350.5v-35.5M1641.7,725.5v35.5M1641.7,1350.5v-35.5M1690.5,725.5v35.5M1690.5,1350.5v-35.5M1739.4,725.5v35.5M1739.4,1350.5v-35.5M1788.2,725.5v69.0M1788.2,1350.5v-69.0M1837.1,725.5v35.5M1837.1,1350.5v-35.5M1885.9,725.5v35.5M1885.9,1350.5v-35.5M1934.8,725.5v35.5M1934.8,1350.5v-35.5M1983.6,725.5v35.5M1983.6,1350.5v-35.5M2032.5,725.5v69.0M2032.5,1350.5v-69.0M2081.3,725.5v35.5M2081.3,1350.5v-35.5M2130.2,725.5v35.5M2130.2,1350.5v-35.5M1544.0,1310.2h35.5M2179.0,1310.2h-35.5M1544.0,1269.9h69.0M2179.0,1269.9h-69.0M1544.0,1229.5h35.5M2179.0,1229.5h-35.5M1544.0,1189.2h35.5M2179.0,1189.2h-35.5M1544.0,1148.9h35.5M2179.0,1148.9h-35.5M1544.0,1108.6h35.5M2179.0,1108.6h-35.5M1544.0,1068.2h69.0M2179.0,1068.2h-69.0M1544.0,1027.9h35.5M2179.0,1027.9h-35.5M1544.0,987.6h35.5M2179.0,987.6h-35.5M1544.0,947.3h35.5M2179.0,947.3h-35.5M1544.0,907.0h35.5M2179.0,907.0h-35.5M1544.0,866.6h69.0M2179.0,866.6h-69.0M1544.0,826.3h35.5M2179.0,826.3h-35.5M1544.0,786.0h35.5M2179.0,786.0h-35.5M1544.0,745.7h35.5M2179.0,745.7h-35.5" stroke="#4a4a4a" stroke-width="5.2" fill="none" stroke-linecap="butt"/>
<g clip-path="url(#c1R)" fill="none" stroke-linejoin="round" stroke-linecap="round">
<path d="M1540.0,1088.5L1542.7,1085.5L1545.3,1089.4L1547.9,1086.5L1551.3,1089.1L1554.4,1086.1L1557.9,1089.4L1560.4,1085.3L1563.1,1088.6L1565.8,1085.5L1568.6,1088.8L1571.5,1085.8L1574.4,1088.6L1577.3,1085.5L1580.3,1088.5L1583.2,1084.8L1586.0,1088.7L1588.8,1085.7L1591.6,1088.1L1594.2,1084.5L1597.8,1088.4L1601.2,1084.7L1604.5,1088.1L1607.6,1084.4L1610.7,1087.3L1613.6,1084.6L1616.5,1087.3L1619.4,1084.6L1622.2,1087.6L1625.0,1084.6L1627.8,1086.6L1630.6,1083.4L1633.5,1087.1L1636.3,1083.4L1639.3,1086.5L1642.2,1082.2L1645.2,1085.0L1648.1,1081.3L1651.1,1084.1L1654.1,1080.9L1657.0,1083.0L1660.0,1080.3L1662.9,1082.7L1665.9,1078.5L1668.8,1081.1L1671.8,1078.1L1674.7,1080.8L1677.7,1077.0L1680.7,1079.5L1683.6,1076.2L1686.5,1078.8L1689.5,1075.3L1692.4,1078.9L1695.4,1075.1L1698.3,1078.7L1701.3,1075.1L1704.2,1077.3L1707.2,1074.0L1710.1,1077.6L1713.1,1073.1L1716.0,1076.8L1719.0,1072.7L1721.9,1075.5L1724.9,1071.7L1727.8,1075.0L1730.8,1070.8L1733.7,1074.3L1736.7,1070.4L1739.7,1073.3L1742.6,1069.8L1745.6,1071.9L1748.5,1068.2L1751.5,1071.5L1754.4,1068.1L1757.4,1069.9L1760.4,1066.6L1763.4,1069.3L1766.5,1065.6L1769.5,1067.9L1772.6,1063.8L1775.7,1066.8L1778.7,1063.2L1781.7,1066.3L1784.6,1062.2L1787.5,1064.6L1790.3,1061.1L1793.1,1063.7L1795.7,1059.0L1798.3,1061.6L1800.7,1057.9L1803.2,1060.2L1806.4,1056.0L1809.4,1058.6L1812.4,1054.7L1815.3,1057.2L1818.1,1052.4L1820.7,1054.6L1823.3,1049.8L1825.8,1052.2L1828.2,1048.1L1830.6,1050.5L1832.8,1045.7L1835.0,1047.8L1837.6,1042.4L1839.9,1044.8L1842.1,1039.5L1844.3,1041.8L1846.5,1036.7L1848.4,1037.7L1850.7,1033.6L1853.1,1035.2L1855.4,1030.6L1858.1,1032.4L1860.3,1028.2L1862.5,1029.6L1864.8,1025.3L1867.0,1027.3L1869.2,1022.3L1871.2,1023.6L1873.2,1019.7L1875.3,1021.1L1877.3,1016.0L1879.3,1017.2L1881.3,1012.3L1883.3,1013.2L1885.4,1008.6L1887.4,1010.3L1889.4,1004.7L1891.4,1005.2L1893.4,999.9L1895.4,1001.1L1897.4,995.5L1899.4,995.7L1901.5,990.9L1903.5,990.4L1905.5,984.9L1907.5,985.9L1909.5,980.0L1911.5,982.0L1913.5,975.8L1915.5,977.0L1917.6,972.4L1919.6,973.6L1921.6,968.4L1923.6,968.8L1925.6,964.2L1927.7,965.0L1929.7,960.4L1931.7,960.9L1933.7,956.5L1935.8,956.5L1937.8,951.2L1939.8,952.3L1941.8,947.5L1943.8,948.7L1945.9,943.3L1947.9,945.1L1949.9,939.2L1951.9,941.4L1954.0,936.6L1956.0,938.4L1958.1,933.8L1960.7,934.7L1963.3,930.4L1965.8,932.2L1968.3,928.2L1970.6,930.1L1973.3,926.3L1975.9,928.4L1978.7,925.0L1981.5,928.9L1984.2,926.0L1986.8,929.4L1989.5,927.8L1992.1,931.4L1994.3,929.5L1996.5,934.7L1998.5,932.8L2000.8,937.9L2002.9,936.1L2005.0,940.9L2007.0,938.8L2008.8,944.2L2010.5,943.4L2012.0,948.9L2013.5,948.6L2014.8,953.3L2016.0,952.7L2017.2,958.1L2018.5,957.7L2019.7,964.0L2020.7,963.6L2021.8,968.9L2022.8,968.5L2023.8,974.3L2024.8,974.2L2025.8,979.9L2026.8,980.2L2027.8,986.5L2028.6,985.3L2029.3,990.8L2030.1,990.5L2030.8,995.9L2031.6,994.9L2032.4,1001.6L2033.1,1000.4L2033.9,1007.5L2034.6,1006.5L2035.4,1013.0L2036.1,1012.9L2036.9,1019.1L2037.7,1019.4L2038.4,1025.2L2039.2,1025.0L2039.9,1031.6L2040.7,1031.6L2041.4,1038.1L2042.2,1037.8L2043.0,1044.4L2043.7,1044.2L2044.5,1050.6L2045.2,1050.7L2046.0,1056.7L2046.8,1057.2L2047.5,1063.5L2048.3,1063.9L2049.0,1070.1L2049.8,1070.8L2050.5,1077.3L2051.3,1077.9L2052.1,1085.0L2052.8,1084.8L2053.3,1091.1L2053.8,1090.0L2054.3,1096.3L2054.8,1094.6L2055.3,1101.5L2055.8,1100.8L2056.3,1105.8L2056.9,1105.9L2057.4,1111.6L2057.9,1111.3L2058.4,1117.3L2058.9,1116.1L2059.4,1122.4L2059.9,1121.6L2060.4,1126.2L2061.1,1127.2L2061.9,1134.3L2062.7,1134.4L2063.4,1141.2L2064.2,1141.2L2064.9,1147.7L2065.7,1146.6L2066.4,1153.8L2067.2,1153.2L2068.0,1159.8L2068.7,1159.6L2069.5,1164.8L2070.2,1164.7L2071.0,1171.1L2071.7,1170.3L2072.5,1175.7L2073.5,1176.3L2074.4,1181.4L2075.4,1181.2L2076.3,1187.2L2077.3,1186.4L2078.3,1192.8L2079.3,1192.1L2080.4,1196.4L2081.5,1195.6L2082.7,1201.3L2084.0,1201.1L2085.3,1206.2L2086.7,1204.9L2088.1,1210.5L2089.9,1209.4L2091.7,1216.0L2093.6,1215.0L2095.4,1220.1L2097.3,1219.0L2099.2,1224.1L2101.2,1222.0L2103.1,1227.7L2105.1,1225.4L2107.6,1230.0L2110.2,1228.2L2112.9,1233.6L2115.2,1230.4L2117.6,1234.8L2120.2,1231.9L2122.7,1235.8L2125.3,1232.6L2127.9,1236.5L2130.5,1233.7L2133.0,1236.8L2135.8,1233.9L2138.3,1236.9L2140.9,1233.8L2143.6,1237.3L2146.2,1233.4L2149.2,1236.9L2152.0,1233.4L2155.2,1237.2L2158.1,1233.1L2161.2,1236.7L2164.6,1233.0L2168.1,1235.6L2171.8,1233.2L2175.4,1235.7L2178.9,1232.4L2182.2,1234.8L2185.4,1232.0L2188.2,1234.5L2191.3,1231.9L2193.1,1234.6" stroke="#0000ff" stroke-width="8.0"/>
<path d="M1540.0,1078.6L1542.7,1075.6L1545.3,1077.9L1547.9,1075.3L1551.3,1078.5L1554.4,1075.1L1557.9,1078.4L1560.4,1074.5L1563.1,1077.8L1565.8,1074.4L1568.6,1077.7L1571.5,1074.3L1574.4,1077.7L1577.3,1073.8L1580.3,1077.2L1583.2,1074.4L1586.0,1076.6L1588.8,1074.0L1591.6,1077.1L1594.2,1072.8L1597.8,1076.2L1601.2,1072.7L1604.5,1075.5L1607.6,1072.2L1610.7,1075.1L1613.6,1071.8L1616.5,1075.4L1619.4,1071.3L1622.2,1075.1L1625.0,1071.4L1627.8,1073.8L1630.6,1071.2L1633.5,1074.2L1636.3,1070.2L1639.3,1072.7L1642.2,1069.5L1645.2,1072.2L1648.1,1069.9L1651.1,1072.7L1654.1,1068.2L1657.0,1071.4L1660.0,1067.7L1662.9,1070.6L1665.9,1067.8L1668.8,1070.7L1671.8,1067.1L1674.7,1069.2L1677.7,1065.8L1680.7,1069.1L1683.6,1065.3L1686.5,1069.0L1689.5,1064.9L1692.4,1067.5L1695.4,1064.9L1698.3,1067.8L1701.3,1063.9L1704.2,1066.5L1707.2,1063.0L1710.1,1066.7L1713.1,1063.1L1716.0,1065.7L1719.0,1061.5L1721.9,1064.5L1724.9,1061.1L1727.8,1064.1L1730.8,1060.4L1733.7,1063.0L1736.7,1059.9L1739.7,1062.5L1742.6,1059.7L1745.6,1062.4L1748.5,1059.0L1751.5,1060.8L1754.4,1057.2L1757.4,1060.1L1760.4,1056.3L1763.4,1059.6L1766.5,1055.8L1769.5,1058.9L1772.6,1055.4L1775.7,1057.7L1778.7,1054.4L1781.7,1056.6L1784.6,1053.4L1787.5,1056.3L1790.3,1052.9L1793.1,1054.5L1795.7,1051.8L1798.3,1054.2L1800.7,1051.1L1804.0,1052.7L1807.1,1050.1L1810.2,1052.5L1813.1,1048.2L1816.0,1050.4L1818.7,1047.7L1821.4,1049.4L1824.0,1045.7L1826.4,1048.3L1828.8,1045.0L1831.7,1046.5L1834.5,1041.6L1837.1,1044.3L1839.5,1039.4L1842.1,1041.9L1844.6,1037.6L1847.0,1040.6L1849.4,1037.8L1852.2,1040.9L1855.0,1036.7L1857.5,1038.5L1860.3,1035.0L1863.1,1037.3L1865.9,1033.4L1868.6,1036.0L1871.2,1032.0L1873.7,1034.1L1876.3,1029.7L1878.8,1032.2L1881.3,1028.1L1883.8,1030.9L1886.4,1025.9L1888.9,1028.3L1891.4,1023.2L1893.4,1024.1L1895.4,1019.3L1897.4,1020.1L1899.4,1015.0L1901.5,1016.1L1903.5,1010.9L1905.5,1012.0L1907.5,1007.1L1909.5,1007.2L1911.5,1002.3L1913.5,1003.4L1915.5,998.6L1917.6,999.7L1919.6,994.6L1921.6,996.6L1923.6,991.4L1925.6,993.0L1927.7,988.0L1929.7,989.8L1931.7,985.0L1933.7,986.6L1935.8,980.5L1937.8,982.4L1939.8,978.4L1941.8,979.5L1943.8,974.1L1945.9,976.3L1947.9,971.1L1949.9,973.6L1952.4,967.6L1955.0,969.2L1957.6,964.4L1960.2,966.3L1962.8,961.2L1965.3,963.4L1967.8,958.9L1970.2,960.8L1972.9,956.6L1975.5,958.1L1977.9,954.2L1980.7,956.9L1983.4,953.7L1986.1,955.7L1988.7,953.1L1991.2,956.4L1993.7,954.9L1996.2,958.9L1998.6,957.4L2000.7,961.8L2002.8,960.0L2005.0,965.0L2006.9,964.4L2008.7,969.4L2010.5,968.2L2012.3,973.5L2013.9,972.8L2015.5,978.7L2017.0,978.0L2018.3,983.2L2019.6,983.8L2020.8,989.6L2021.8,988.2L2022.7,994.1L2023.6,993.8L2024.6,1000.2L2025.6,999.2L2026.6,1005.7L2027.4,1005.6L2028.1,1011.3L2028.9,1010.0L2029.6,1016.4L2030.4,1016.2L2031.2,1022.7L2031.9,1021.4L2032.7,1027.6L2033.4,1028.0L2034.2,1034.1L2034.9,1033.3L2035.7,1038.7L2036.5,1037.9L2037.2,1044.0L2038.0,1043.5L2038.7,1049.8L2039.5,1048.5L2040.2,1054.0L2041.0,1053.0L2041.8,1059.5L2042.5,1058.9L2043.3,1064.9L2044.0,1063.4L2044.8,1069.3L2045.5,1069.7L2046.3,1075.7L2047.1,1075.4L2047.8,1081.3L2048.6,1080.2L2049.3,1086.8L2050.1,1087.2L2050.9,1092.7L2051.6,1093.0L2052.4,1099.2L2053.1,1099.3L2053.9,1105.0L2054.6,1105.9L2055.4,1111.6L2056.2,1111.6L2056.9,1117.6L2057.7,1118.0L2058.4,1123.8L2059.2,1123.8L2059.9,1130.8L2060.7,1129.9L2061.4,1136.8L2062.1,1136.2L2062.9,1142.4L2063.6,1142.9L2064.4,1148.8L2065.1,1148.3L2065.9,1154.0L2066.6,1152.9L2067.4,1159.8L2068.1,1158.6L2068.9,1163.6L2069.8,1163.5L2070.8,1170.6L2071.8,1169.5L2072.8,1176.3L2073.9,1175.9L2074.9,1181.9L2076.0,1180.7L2077.1,1186.8L2078.3,1186.0L2079.4,1192.4L2080.6,1191.7L2081.8,1197.5L2083.0,1196.3L2084.3,1201.9L2085.5,1200.7L2087.1,1207.3L2088.8,1205.8L2090.4,1211.3L2092.3,1209.9L2094.4,1215.8L2096.4,1213.8L2098.7,1219.1L2101.0,1216.3L2103.6,1221.8L2106.0,1218.9L2108.4,1223.9L2111.0,1221.2L2113.6,1224.3L2116.3,1222.9L2118.9,1225.9L2121.5,1223.4L2124.4,1227.0L2127.2,1223.9L2129.9,1226.8L2132.4,1224.0L2134.9,1226.9L2137.9,1223.4L2140.9,1227.1L2143.5,1223.3L2146.6,1227.0L2150.3,1223.1L2152.9,1226.1L2155.7,1223.1L2158.6,1225.2L2161.5,1221.9L2164.5,1225.6L2167.6,1222.1L2170.6,1224.4L2173.6,1221.7L2176.5,1224.0L2179.3,1220.7L2182.0,1224.1L2184.6,1220.6L2188.0,1222.7L2190.9,1220.1L2193.1,1223.0" stroke="#007a00" stroke-width="8.0"/>
<path d="M1540.0,1066.6L1542.7,1063.1L1545.3,1066.3L1547.9,1062.8L1551.3,1066.9L1554.4,1062.5L1557.9,1066.3L1560.4,1063.1L1563.1,1066.4L1565.8,1063.2L1568.6,1065.9L1571.5,1063.0L1574.4,1066.0L1577.3,1062.3L1580.3,1065.8L1583.2,1062.5L1586.0,1065.5L1588.8,1061.5L1591.6,1064.5L1594.2,1062.1L1597.8,1064.1L1601.2,1061.4L1604.5,1064.4L1607.6,1061.1L1610.7,1064.1L1613.6,1060.2L1616.5,1062.7L1619.4,1059.9L1622.2,1061.9L1625.0,1058.9L1627.8,1061.2L1630.6,1058.1L1633.5,1060.9L1636.3,1058.0L1639.3,1060.5L1642.2,1056.9L1645.2,1060.3L1648.1,1056.9L1651.1,1059.3L1654.1,1056.2L1657.0,1059.1L1660.0,1055.5L1662.9,1058.0L1665.9,1054.4L1668.8,1057.7L1671.8,1054.2L1674.7,1057.4L1677.7,1053.7L1680.7,1057.0L1683.6,1053.3L1686.5,1056.0L1689.5,1052.6L1692.4,1055.9L1695.4,1052.7L1698.3,1055.8L1701.3,1052.0L1704.2,1054.8L1707.2,1052.4L1710.1,1054.8L1713.1,1051.2L1716.0,1054.8L1719.0,1051.9L1721.9,1054.5L1724.8,1051.3L1727.7,1053.5L1730.5,1049.8L1733.4,1053.1L1736.3,1050.2L1739.2,1052.3L1742.1,1049.3L1745.1,1052.3L1748.1,1049.0L1751.2,1051.6L1754.3,1048.7L1757.5,1052.1L1760.8,1048.7L1764.2,1051.3L1767.8,1048.9L1771.4,1051.3L1775.0,1048.9L1778.7,1052.2L1782.3,1048.8L1785.9,1052.0L1789.4,1049.4L1792.8,1053.1L1796.1,1049.5L1799.2,1052.3L1802.2,1049.9L1805.0,1052.9L1807.6,1049.0L1810.1,1051.7L1813.3,1048.5L1816.3,1051.1L1819.2,1048.1L1822.0,1050.9L1824.8,1047.3L1827.5,1050.1L1830.3,1046.9L1833.1,1048.7L1835.9,1045.9L1838.7,1048.6L1841.5,1044.9L1844.2,1047.8L1846.9,1043.7L1849.6,1046.9L1852.2,1042.5L1854.8,1045.8L1857.4,1042.3L1859.9,1044.6L1862.5,1041.2L1865.0,1043.9L1867.6,1040.3L1870.1,1044.3L1873.2,1040.1L1876.1,1043.6L1878.9,1039.2L1881.5,1042.1L1883.8,1037.0L1885.9,1039.0L1888.0,1033.9L1889.6,1035.5L1891.1,1029.8L1892.6,1030.4L1894.1,1025.7L1895.6,1026.0L1897.3,1021.4L1898.9,1022.2L1900.5,1018.0L1902.1,1018.3L1903.8,1013.7L1905.4,1014.6L1907.1,1009.2L1909.0,1009.4L1910.5,1004.1L1912.0,1005.1L1913.7,999.9L1915.4,1001.3L1917.1,994.7L1918.8,995.8L1920.6,989.7L1922.3,990.9L1924.0,984.8L1925.8,984.9L1927.4,979.2L1929.1,979.6L1930.8,974.4L1932.5,974.8L1934.2,968.6L1935.8,969.1L1937.5,962.9L1939.2,963.4L1940.9,956.9L1942.6,958.3L1944.2,952.1L1945.9,953.7L1947.6,947.8L1949.3,948.2L1951.0,943.2L1952.6,943.8L1954.3,939.2L1956.0,939.5L1957.7,934.5L1959.4,936.0L1961.5,930.9L1963.7,931.7L1965.9,926.6L1968.1,927.9L1970.3,923.5L1972.5,925.1L1974.8,920.1L1977.0,922.2L1979.4,916.9L1981.8,918.3L1984.3,915.1L1987.0,918.0L1989.6,915.0L1992.1,919.1L1994.6,917.9L1996.8,922.5L1999.0,920.3L2001.2,925.1L2003.0,923.8L2004.9,929.1L2006.8,928.2L2008.6,933.4L2010.1,933.3L2011.5,938.5L2012.9,936.8L2014.2,942.9L2015.4,941.5L2016.6,947.4L2017.8,946.3L2019.0,952.5L2020.0,951.2L2021.0,956.6L2022.0,956.6L2023.0,963.2L2024.0,962.5L2024.8,968.6L2025.5,967.3L2026.3,973.3L2027.0,973.0L2027.8,978.3L2028.6,978.2L2029.3,983.6L2030.1,984.1L2030.8,989.8L2031.6,990.0L2032.4,995.4L2033.1,995.0L2033.9,1001.3L2034.6,1001.4L2035.4,1007.3L2036.1,1007.2L2036.9,1013.9L2037.7,1013.6L2038.4,1020.0L2039.2,1019.7L2039.9,1026.3L2040.7,1025.3L2041.4,1032.1L2042.2,1032.3L2043.0,1037.8L2043.7,1037.4L2044.5,1043.9L2045.2,1044.4L2046.0,1049.6L2046.8,1049.5L2047.5,1055.9L2048.3,1055.9L2049.0,1062.0L2049.8,1062.1L2050.5,1068.6L2051.3,1068.0L2052.1,1074.6L2052.8,1074.4L2053.6,1080.2L2054.3,1080.1L2055.1,1086.6L2055.8,1087.0L2056.6,1093.1L2057.4,1092.3L2058.1,1098.6L2058.9,1099.2L2059.6,1104.5L2060.4,1104.5L2061.1,1110.4L2061.9,1110.1L2062.7,1116.7L2063.4,1116.5L2064.2,1122.2L2064.9,1121.3L2065.7,1127.5L2066.4,1126.6L2067.2,1132.4L2068.0,1131.9L2068.7,1137.3L2069.5,1137.3L2070.2,1142.6L2071.2,1143.0L2072.3,1149.2L2073.3,1148.7L2074.3,1154.6L2075.3,1153.9L2076.3,1160.6L2077.3,1159.4L2078.3,1164.9L2079.3,1164.7L2080.3,1170.3L2081.3,1169.6L2082.4,1174.8L2083.6,1173.9L2084.8,1180.0L2086.0,1180.1L2087.3,1185.2L2088.5,1185.1L2089.8,1190.1L2091.1,1189.4L2092.8,1195.1L2094.4,1194.4L2096.0,1199.3L2097.7,1197.6L2099.8,1203.2L2102.1,1201.6L2104.3,1206.6L2106.7,1205.2L2109.3,1208.8L2112.0,1206.9L2114.8,1210.9L2117.7,1208.3L2120.6,1211.6L2123.5,1210.0L2126.4,1213.0L2128.9,1211.0L2131.4,1214.5L2134.0,1211.4L2136.5,1214.6L2139.1,1211.1L2141.6,1214.1L2144.1,1211.3L2146.9,1214.4L2149.7,1210.9L2152.5,1212.9L2155.0,1208.8L2157.6,1212.1L2160.4,1208.2L2163.4,1210.6L2166.3,1207.5L2169.5,1209.5L2172.1,1206.5L2174.8,1209.7L2177.4,1205.7L2180.1,1208.7L2182.7,1205.9L2185.9,1208.2L2188.8,1204.8L2191.8,1207.3L2193.1,1204.6" stroke="#ff0000" stroke-width="8.0"/>
</g>
<rect x="1544.0" y="725.5" width="635.0" height="625.0" fill="none" stroke="#000" stroke-width="11.5"/>
<clipPath id="c2L"><rect x="180.0" y="1413.5" width="1269.5" height="625.0"/></clipPath>
<path d="M223.8,1413.5v69.0M223.8,2038.5v-69.0M267.6,1413.5v35.5M267.6,2038.5v-35.5M311.3,1413.5v35.5M311.3,2038.5v-35.5M355.1,1413.5v35.5M355.1,2038.5v-35.5M398.9,1413.5v35.5M398.9,2038.5v-35.5M442.7,1413.5v69.0M442.7,2038.5v-69.0M486.4,1413.5v35.5M486.4,2038.5v-35.5M530.2,1413.5v35.5M530.2,2038.5v-35.5M574.0,1413.5v35.5M574.0,2038.5v-35.5M617.8,1413.5v35.5M617.8,2038.5v-35.5M661.5,1413.5v69.0M661.5,2038.5v-69.0M705.3,1413.5v35.5M705.3,2038.5v-35.5M749.1,1413.5v35.5M749.1,2038.5v-35.5M792.9,1413.5v35.5M792.9,2038.5v-35.5M836.6,1413.5v35.5M836.6,2038.5v-35.5M880.4,1413.5v69.0M880.4,2038.5v-69.0M924.2,1413.5v35.5M924.2,2038.5v-35.5M968.0,1413.5v35.5M968.0,2038.5v-35.5M1011.7,1413.5v35.5M1011.7,2038.5v-35.5M1055.5,1413.5v35.5M1055.5,2038.5v-35.5M1099.3,1413.5v69.0M1099.3,2038.5v-69.0M1143.1,1413.5v35.5M1143.1,2038.5v-35.5M1186.8,1413.5v35.5M1186.8,2038.5v-35.5M1230.6,1413.5v35.5M1230.6,2038.5v-35.5M1274.4,1413.5v35.5M1274.4,2038.5v-35.5M1318.2,1413.5v69.0M1318.2,2038.5v-69.0M1361.9,1413.5v35.5M1361.9,2038.5v-35.5M1405.7,1413.5v35.5M1405.7,2038.5v-35.5M180.0,2007.2h35.5M1449.5,2007.2h-35.5M180.0,1976.0h69.0M1449.5,1976.0h-69.0M180.0,1944.8h35.5M1449.5,1944.8h-35.5M180.0,1913.5h35.5M1449.5,1913.5h-35.5M180.0,1882.2h35.5M1449.5,1882.2h-35.5M180.0,1851.0h69.0M1449.5,1851.0h-69.0M180.0,1819.8h35.5M1449.5,1819.8h-35.5M180.0,1788.5h35.5M1449.5,1788.5h-35.5M180.0,1757.2h35.5M1449.5,1757.2h-35.5M180.0,1726.0h69.0M1449.5,1726.0h-69.0M180.0,1694.8h35.5M1449.5,1694.8h-35.5M180.0,1663.5h35.5M1449.5,1663.5h-35.5M180.0,1632.2h35.5M1449.5,1632.2h-35.5M180.0,1601.0h69.0M1449.5,1601.0h-69.0M180.0,1569.8h35.5M1449.5,1569.8h-35.5M180.0,1538.5h35.5M1449.5,1538.5h-35.5M180.0,1507.2h35.5M1449.5,1507.2h-35.5M180.0,1476.0h69.0M1449.5,1476.0h-69.0M180.0,1444.8h35.5M1449.5,1444.8h-35.5" stroke="#4a4a4a" stroke-width="5.2" fill="none" stroke-linecap="butt"/>
<g clip-path="url(#c2L)" fill="none" stroke-linejoin="round" stroke-linecap="round">
<path d="M180.0,1745.4C180.9,1746.3 182.8,1748.2 185.5,1750.9C188.2,1753.7 192.8,1758.2 196.5,1761.9C200.2,1765.6 203.3,1768.9 207.4,1772.8C211.5,1776.7 217.1,1782.2 221.2,1785.2C225.3,1788.2 228.4,1790.5 232.1,1790.7C235.8,1790.9 239.9,1788.2 243.1,1786.6C246.3,1785.0 248.7,1781.3 251.4,1781.1C254.2,1780.9 255.5,1784.5 259.6,1785.2C263.7,1785.9 271.0,1785.7 276.0,1785.2C281.0,1784.7 285.2,1783.6 289.8,1782.4C294.4,1781.2 298.9,1780.1 303.5,1778.3C308.1,1776.5 312.6,1774.0 317.2,1771.5C321.8,1769.0 326.3,1766.2 330.9,1763.2C335.5,1760.2 340.1,1756.8 344.7,1753.6C349.3,1750.4 353.8,1747.0 358.4,1744.0C363.0,1741.0 369.4,1739.7 372.1,1735.8C374.8,1731.9 373.9,1727.8 374.8,1720.7C375.7,1713.6 376.5,1704.7 377.6,1693.3C378.8,1681.9 380.3,1665.4 381.7,1652.1C383.1,1638.8 384.2,1626.5 385.8,1613.7C387.4,1600.9 389.5,1586.3 391.3,1575.3C393.1,1564.3 395.0,1556.0 396.8,1547.8C398.6,1539.6 400.0,1533.7 402.3,1525.9C404.6,1518.1 407.8,1509.0 410.5,1501.2C413.2,1493.4 416.4,1484.0 418.7,1479.2C421.0,1474.4 422.6,1472.8 424.2,1472.3C425.8,1471.8 427.2,1471.7 428.4,1476.5C429.5,1481.3 430.3,1485.7 431.1,1501.2C431.9,1516.8 432.4,1544.7 433.0,1569.8C433.6,1594.9 433.9,1624.7 434.4,1652.1C434.9,1679.5 435.4,1707.0 435.8,1734.4C436.2,1761.9 436.6,1789.3 437.1,1816.8C437.7,1844.2 438.3,1878.1 439.1,1899.1C439.9,1920.1 440.7,1937.0 442.1,1943.0C443.5,1949.0 445.2,1939.8 447.6,1934.8C450.0,1929.8 453.2,1921.9 456.6,1912.8C460.0,1903.7 464.4,1892.2 468.1,1879.9C471.9,1867.6 476.7,1849.1 479.1,1838.7C481.5,1828.3 479.9,1831.0 482.4,1817.6C484.9,1804.2 490.3,1777.9 494.3,1758.1C498.3,1738.3 502.2,1718.4 506.2,1698.6C510.2,1678.8 514.1,1656.9 518.1,1639.0C522.1,1621.1 526.4,1603.3 530.0,1591.4C533.6,1579.5 536.7,1573.1 539.5,1567.6C542.3,1562.0 544.5,1557.3 546.7,1558.1C548.9,1558.9 551.1,1562.9 552.6,1572.4C554.1,1581.9 554.8,1596.2 555.7,1615.2C556.6,1634.2 557.3,1662.9 558.1,1686.7C558.9,1710.5 559.7,1734.3 560.5,1758.1C561.3,1781.9 562.1,1809.7 562.9,1829.5C563.7,1849.3 563.5,1871.1 565.2,1877.1C566.9,1883.0 569.6,1873.1 572.9,1865.2C576.2,1857.3 580.6,1843.4 584.8,1829.5C589.0,1815.6 593.7,1797.8 597.9,1781.9C602.1,1766.0 605.8,1749.4 609.8,1734.3C613.8,1719.2 617.7,1704.9 621.7,1691.4C625.7,1677.9 629.6,1663.6 633.6,1653.3C637.6,1643.0 641.9,1635.8 645.5,1629.5C649.1,1623.2 652.3,1618.4 655.0,1615.2C657.7,1612.0 659.1,1610.0 661.7,1610.5C664.3,1611.0 667.9,1614.0 670.4,1618.2C672.9,1622.4 675.4,1626.2 677.0,1635.7C678.6,1645.2 679.2,1657.5 680.3,1675.0C681.4,1692.5 682.4,1720.7 683.5,1740.8C684.6,1760.9 685.6,1780.5 686.8,1795.5C688.0,1810.5 688.5,1827.3 690.5,1831.0C692.5,1834.7 695.4,1826.8 698.9,1817.4C702.4,1808.0 707.5,1787.7 711.8,1774.8C716.1,1761.9 720.4,1751.0 724.7,1739.8C729.0,1728.6 733.4,1718.2 737.7,1707.4C742.0,1696.6 746.3,1684.3 750.6,1675.0C754.9,1665.7 759.9,1656.4 763.6,1651.8C767.3,1647.2 770.3,1648.7 773.0,1647.6C775.7,1646.5 777.5,1644.6 780.0,1645.0C782.5,1645.4 785.5,1646.2 787.8,1649.9C790.0,1653.6 792.0,1658.5 793.5,1667.0C795.0,1675.5 796.0,1689.6 797.0,1701.0C798.0,1712.4 798.4,1723.9 799.2,1735.3C800.0,1746.7 799.6,1758.6 802.0,1769.5C804.4,1780.4 808.4,1800.1 813.8,1800.7C819.2,1801.3 828.1,1782.4 834.4,1773.2C840.7,1764.0 845.9,1756.0 851.6,1745.7C857.3,1735.4 863.6,1721.6 868.8,1711.3C873.9,1701.0 878.5,1690.7 882.5,1683.8C886.5,1676.9 888.8,1670.6 892.8,1670.0C896.8,1669.4 902.6,1674.1 906.6,1680.4C910.6,1686.7 913.6,1696.0 917.0,1708.0C920.4,1720.0 923.8,1740.9 927.2,1752.6C930.6,1764.3 933.6,1775.5 937.6,1778.4C941.6,1781.3 945.6,1776.4 951.3,1769.8C957.0,1763.2 965.1,1749.1 972.0,1738.8C978.9,1728.5 985.7,1716.5 992.6,1707.9C999.5,1699.3 1007.5,1689.5 1013.2,1687.2C1018.9,1684.9 1022.4,1688.3 1027.0,1694.0C1031.6,1699.7 1036.1,1711.3 1040.7,1721.6C1045.3,1731.9 1050.5,1748.8 1054.5,1756.0C1058.5,1763.2 1059.6,1765.2 1064.8,1764.6C1070.0,1764.0 1078.0,1759.8 1085.4,1752.6C1092.9,1745.4 1102.1,1730.2 1109.5,1721.6C1116.9,1713.0 1123.7,1703.9 1130.0,1701.0C1136.3,1698.1 1141.5,1699.8 1147.3,1704.4C1153.0,1709.0 1158.8,1721.1 1164.5,1728.5C1170.2,1735.9 1177.1,1745.0 1181.7,1749.0C1186.3,1753.0 1186.8,1753.7 1192.0,1752.6C1197.2,1751.5 1205.8,1747.5 1212.7,1742.3C1219.6,1737.1 1227.0,1727.6 1233.3,1721.6C1239.6,1715.5 1243.6,1707.2 1250.5,1706.0C1257.4,1704.8 1267.1,1709.8 1274.6,1714.7C1282.0,1719.6 1288.9,1730.8 1295.2,1735.4C1301.5,1740.0 1305.5,1742.3 1312.4,1742.3C1319.3,1742.3 1328.4,1739.1 1336.4,1735.4C1344.4,1731.7 1352.5,1723.5 1360.5,1720.0C1368.5,1716.5 1377.1,1714.4 1384.6,1714.7C1392.0,1715.0 1398.3,1718.7 1405.2,1721.6C1412.1,1724.5 1419.6,1729.7 1425.9,1732.0C1432.2,1734.3 1437.3,1734.4 1443.0,1735.4C1448.7,1736.4 1457.0,1737.6 1460.0,1738.0C1463.0,1738.4 1460.6,1737.8 1460.7,1737.7" stroke="#0000ff" stroke-width="8.5"/>
<path d="M179.0,1725.4C179.9,1726.8 181.8,1729.1 184.5,1733.7C187.2,1738.3 191.8,1747.0 195.5,1752.9C199.2,1758.9 202.3,1763.9 206.4,1769.4C210.5,1774.9 216.1,1781.9 220.2,1785.8C224.3,1789.7 227.4,1792.2 231.1,1792.7C234.8,1793.2 238.9,1790.2 242.1,1788.6C245.3,1787.0 247.7,1783.3 250.4,1783.1C253.2,1782.9 254.5,1786.3 258.6,1787.2C262.7,1788.1 270.0,1788.6 275.0,1788.6C280.0,1788.6 284.2,1788.3 288.8,1787.2C293.4,1786.1 297.9,1783.8 302.5,1781.7C307.1,1779.6 311.6,1777.3 316.2,1774.8C320.8,1772.3 325.3,1769.6 329.9,1766.6C334.5,1763.6 339.1,1760.2 343.7,1757.0C348.3,1753.8 352.8,1750.4 357.4,1747.4C362.0,1744.4 368.4,1743.3 371.1,1739.2C373.8,1735.1 372.9,1730.0 373.8,1722.7C374.7,1715.4 375.5,1706.7 376.6,1695.3C377.8,1683.9 379.3,1667.4 380.7,1654.1C382.1,1640.8 383.2,1628.5 384.8,1615.7C386.4,1602.9 388.5,1588.3 390.3,1577.3C392.1,1566.3 394.0,1558.0 395.8,1549.8C397.6,1541.6 399.0,1535.7 401.3,1527.9C403.6,1520.1 406.8,1511.0 409.5,1503.2C412.2,1495.4 415.4,1486.0 417.7,1481.2C420.0,1476.4 421.6,1474.8 423.2,1474.3C424.8,1473.8 426.2,1473.7 427.4,1478.5C428.5,1483.3 429.4,1487.7 430.1,1503.2C430.8,1518.8 431.1,1546.7 431.5,1571.8C431.9,1596.9 432.4,1626.7 432.8,1654.1C433.2,1681.5 433.7,1709.0 434.2,1736.4C434.7,1763.9 435.1,1791.3 435.6,1818.8C436.2,1846.2 436.8,1880.1 437.5,1901.1C438.2,1922.1 438.4,1939.0 439.7,1945.0C441.0,1951.0 442.9,1941.8 445.2,1936.8C447.5,1931.8 450.2,1923.9 453.4,1914.8C456.6,1905.7 460.7,1894.2 464.4,1881.9C468.1,1869.6 473.0,1851.1 475.4,1840.7C477.8,1830.3 476.4,1833.0 479.0,1819.6C481.6,1806.2 486.9,1779.9 490.9,1760.1C494.9,1740.3 498.8,1720.4 502.8,1700.6C506.8,1680.8 510.7,1658.9 514.7,1641.0C518.7,1623.1 523.0,1605.7 526.6,1593.4C530.2,1581.1 533.3,1573.2 536.1,1567.2C538.9,1561.2 540.9,1557.3 543.3,1557.7C545.7,1558.1 548.8,1559.7 550.4,1569.6C552.0,1579.5 552.0,1597.3 552.8,1617.2C553.6,1637.1 554.4,1664.9 555.2,1688.7C556.0,1712.5 556.8,1736.3 557.6,1760.1C558.4,1783.9 559.2,1811.5 560.0,1831.5C560.8,1851.5 560.7,1874.3 562.3,1880.3C563.9,1886.2 566.3,1875.3 569.5,1867.2C572.7,1859.1 577.4,1845.4 581.4,1831.5C585.4,1817.6 589.3,1799.8 593.3,1783.9C597.3,1768.0 601.2,1751.4 605.2,1736.3C609.2,1721.2 613.1,1706.9 617.1,1693.4C621.1,1679.9 625.0,1666.0 629.0,1655.3C633.0,1644.6 637.3,1635.8 640.9,1629.1C644.5,1622.4 648.0,1618.3 650.4,1614.9C652.8,1611.5 653.4,1609.9 655.0,1608.5C656.6,1607.1 658.5,1605.6 660.0,1606.5C661.5,1607.4 662.7,1608.3 664.0,1614.0C665.3,1619.7 666.9,1627.7 668.0,1640.8C669.1,1653.9 669.8,1675.3 670.7,1692.6C671.6,1709.9 672.4,1727.1 673.2,1744.4C674.1,1761.7 674.7,1782.2 675.8,1796.2C676.9,1810.2 678.7,1821.5 679.7,1828.5C680.7,1835.5 680.5,1839.1 682.0,1838.0C683.5,1836.9 686.2,1829.0 688.8,1822.0C691.4,1815.0 694.1,1807.0 697.8,1796.2C701.5,1785.4 706.5,1769.2 710.8,1757.3C715.1,1745.4 719.4,1735.8 723.7,1725.0C728.0,1714.2 732.4,1702.8 736.7,1692.6C741.0,1682.4 745.3,1672.2 749.6,1664.0C753.9,1655.8 758.9,1647.5 762.6,1643.4C766.3,1639.3 769.3,1639.2 772.0,1639.3C774.7,1639.4 777.0,1640.9 778.9,1643.9C780.8,1647.0 782.3,1649.6 783.4,1657.6C784.5,1665.6 784.9,1680.3 785.7,1691.7C786.5,1703.1 787.0,1714.5 788.0,1725.9C789.0,1737.3 790.3,1749.6 791.4,1760.0C792.5,1770.4 793.5,1781.3 794.8,1788.5C796.1,1795.7 798.1,1800.4 799.4,1803.3C800.7,1806.2 799.0,1809.5 802.4,1806.0C805.8,1802.5 814.4,1790.0 819.6,1782.0C824.8,1774.0 828.2,1767.7 833.4,1758.0C838.6,1748.3 844.9,1735.1 850.6,1723.6C856.3,1712.1 863.2,1697.6 867.8,1689.0C872.4,1680.4 874.9,1676.3 878.0,1672.0C881.1,1667.7 883.5,1664.0 886.7,1663.4C889.9,1662.8 894.1,1664.9 897.0,1668.6C899.9,1672.3 901.9,1677.8 903.9,1685.8C905.9,1693.8 907.6,1705.8 909.0,1716.7C910.4,1727.6 911.4,1741.3 912.5,1751.0C913.6,1760.7 914.5,1769.0 915.9,1775.0C917.3,1781.0 918.1,1785.8 921.0,1787.0C923.9,1788.2 928.1,1786.8 933.0,1782.0C937.9,1777.2 944.0,1767.2 950.3,1758.0C956.6,1748.8 964.1,1736.7 971.0,1727.0C977.9,1717.3 987.1,1706.4 991.6,1699.6C996.1,1692.8 995.9,1688.9 998.0,1686.0C1000.1,1683.1 1002.0,1682.2 1004.0,1682.0C1006.0,1681.8 1008.1,1683.2 1010.0,1685.0C1011.9,1686.8 1012.9,1685.7 1015.6,1692.7C1018.3,1699.7 1022.5,1715.5 1026.0,1727.0C1029.5,1738.5 1033.1,1754.2 1036.3,1761.4C1039.5,1768.6 1040.9,1770.0 1044.9,1770.0C1048.9,1770.0 1053.7,1767.4 1060.3,1761.4C1066.9,1755.4 1076.4,1743.2 1084.4,1734.0C1092.4,1724.8 1102.2,1713.0 1108.5,1706.4C1114.8,1699.8 1117.6,1695.5 1122.2,1694.4C1126.8,1693.3 1130.8,1694.2 1136.0,1699.6C1141.2,1705.0 1148.4,1718.9 1153.2,1727.0C1158.0,1735.1 1161.7,1743.2 1165.0,1748.0C1168.3,1752.8 1170.0,1754.6 1173.0,1756.0C1176.0,1757.4 1177.7,1758.5 1183.0,1756.5C1188.3,1754.5 1197.2,1750.9 1204.8,1744.3C1212.4,1737.7 1221.9,1723.6 1228.8,1716.7C1235.7,1709.8 1239.7,1704.1 1246.0,1703.0C1252.3,1701.9 1259.8,1704.2 1266.7,1709.9C1273.6,1715.6 1280.4,1730.8 1287.3,1737.4C1294.2,1744.0 1300.5,1748.8 1308.0,1749.4C1315.5,1750.0 1324.0,1745.1 1332.0,1740.8C1340.0,1736.5 1348.0,1728.5 1356.0,1723.6C1364.0,1718.7 1372.5,1712.8 1380.0,1711.6C1387.5,1710.4 1393.9,1713.0 1400.8,1716.7C1407.7,1720.4 1414.5,1729.4 1421.4,1734.0C1428.3,1738.6 1435.7,1741.6 1442.0,1744.3C1448.3,1747.0 1456.0,1749.2 1459.0,1750.0C1462.0,1750.8 1459.6,1749.1 1459.7,1748.9" stroke="#007a00" stroke-width="8.5"/>
<path d="M180.0,1723.4C180.9,1724.8 182.8,1727.1 185.5,1731.7C188.2,1736.3 192.8,1745.0 196.5,1750.9C200.2,1756.9 203.3,1761.9 207.4,1767.4C211.5,1772.9 217.1,1779.9 221.2,1783.8C225.3,1787.7 228.4,1790.2 232.1,1790.7C235.8,1791.2 239.9,1788.2 243.1,1786.6C246.3,1785.0 248.7,1781.3 251.4,1781.1C254.2,1780.9 255.5,1784.3 259.6,1785.2C263.7,1786.1 271.0,1786.6 276.0,1786.6C281.0,1786.6 285.2,1786.3 289.8,1785.2C294.4,1784.1 298.9,1781.8 303.5,1779.7C308.1,1777.6 312.6,1775.3 317.2,1772.8C321.8,1770.3 326.3,1767.6 330.9,1764.6C335.5,1761.6 340.1,1758.2 344.7,1755.0C349.3,1751.8 353.8,1748.4 358.4,1745.4C363.0,1742.4 369.4,1741.3 372.1,1737.2C374.8,1733.1 373.9,1728.0 374.8,1720.7C375.7,1713.4 376.5,1704.7 377.6,1693.3C378.8,1681.9 380.3,1665.4 381.7,1652.1C383.1,1638.8 384.2,1626.5 385.8,1613.7C387.4,1600.9 389.5,1586.3 391.3,1575.3C393.1,1564.3 395.0,1556.0 396.8,1547.8C398.6,1539.6 400.0,1533.7 402.3,1525.9C404.6,1518.1 407.8,1509.0 410.5,1501.2C413.2,1493.4 416.4,1484.0 418.7,1479.2C421.0,1474.4 422.6,1472.8 424.2,1472.3C425.8,1471.8 427.2,1471.7 428.4,1476.5C429.5,1481.3 430.4,1485.7 431.1,1501.2C431.8,1516.8 432.1,1544.7 432.5,1569.8C432.9,1594.9 433.4,1624.7 433.8,1652.1C434.2,1679.5 434.7,1707.0 435.2,1734.4C435.7,1761.9 436.1,1789.3 436.6,1816.8C437.2,1844.2 437.8,1878.1 438.5,1899.1C439.2,1920.1 439.4,1937.0 440.7,1943.0C442.0,1949.0 443.9,1939.8 446.2,1934.8C448.5,1929.8 451.2,1921.9 454.4,1912.8C457.6,1903.7 461.7,1892.2 465.4,1879.9C469.1,1867.6 474.0,1849.1 476.4,1838.7C478.8,1828.3 477.4,1831.0 480.0,1817.6C482.6,1804.2 487.9,1777.9 491.9,1758.1C495.9,1738.3 499.8,1718.4 503.8,1698.6C507.8,1678.8 511.7,1656.9 515.7,1639.0C519.7,1621.1 524.0,1603.7 527.6,1591.4C531.2,1579.1 534.3,1571.2 537.1,1565.2C539.9,1559.2 541.9,1555.3 544.3,1555.7C546.7,1556.1 549.8,1557.7 551.4,1567.6C553.0,1577.5 553.0,1595.3 553.8,1615.2C554.6,1635.1 555.4,1662.9 556.2,1686.7C557.0,1710.5 557.8,1734.3 558.6,1758.1C559.4,1781.9 560.2,1809.5 561.0,1829.5C561.8,1849.5 561.7,1872.3 563.3,1878.3C564.9,1884.2 567.3,1873.3 570.5,1865.2C573.7,1857.1 578.4,1843.4 582.4,1829.5C586.4,1815.6 590.3,1797.8 594.3,1781.9C598.3,1766.0 602.2,1749.4 606.2,1734.3C610.2,1719.2 614.1,1704.9 618.1,1691.4C622.1,1677.9 626.0,1664.0 630.0,1653.3C634.0,1642.6 638.3,1633.8 641.9,1627.1C645.5,1620.4 649.0,1616.3 651.4,1612.9C653.8,1609.5 654.4,1607.9 656.0,1606.5C657.6,1605.1 659.5,1603.6 661.0,1604.5C662.5,1605.4 663.7,1606.3 665.0,1612.0C666.3,1617.7 667.9,1625.7 669.0,1638.8C670.1,1651.9 670.8,1673.3 671.7,1690.6C672.6,1707.9 673.4,1725.1 674.2,1742.4C675.1,1759.7 675.7,1780.2 676.8,1794.2C677.9,1808.2 679.7,1819.5 680.7,1826.5C681.7,1833.5 681.5,1837.1 683.0,1836.0C684.5,1834.9 687.2,1827.0 689.8,1820.0C692.4,1813.0 695.1,1805.0 698.8,1794.2C702.5,1783.4 707.5,1767.2 711.8,1755.3C716.1,1743.4 720.4,1733.8 724.7,1723.0C729.0,1712.2 733.4,1700.8 737.7,1690.6C742.0,1680.4 746.3,1670.2 750.6,1662.0C754.9,1653.8 759.9,1645.5 763.6,1641.4C767.3,1637.3 770.3,1637.2 773.0,1637.3C775.7,1637.4 778.0,1638.9 779.9,1641.9C781.8,1645.0 783.3,1647.6 784.4,1655.6C785.5,1663.6 785.9,1678.3 786.7,1689.7C787.5,1701.1 788.0,1712.5 789.0,1723.9C790.0,1735.3 791.3,1747.6 792.4,1758.0C793.5,1768.4 794.5,1779.3 795.8,1786.5C797.1,1793.7 799.1,1798.4 800.4,1801.3C801.7,1804.2 800.0,1807.5 803.4,1804.0C806.8,1800.5 815.4,1788.0 820.6,1780.0C825.8,1772.0 829.2,1765.7 834.4,1756.0C839.6,1746.3 845.9,1733.1 851.6,1721.6C857.3,1710.1 864.2,1695.6 868.8,1687.0C873.4,1678.4 875.9,1674.3 879.0,1670.0C882.1,1665.7 884.5,1662.0 887.7,1661.4C890.9,1660.8 895.1,1662.9 898.0,1666.6C900.9,1670.3 902.9,1675.8 904.9,1683.8C906.9,1691.8 908.6,1703.8 910.0,1714.7C911.4,1725.6 912.4,1739.3 913.5,1749.0C914.6,1758.7 915.5,1767.0 916.9,1773.0C918.3,1779.0 919.1,1783.8 922.0,1785.0C924.9,1786.2 929.1,1784.8 934.0,1780.0C938.9,1775.2 945.0,1765.2 951.3,1756.0C957.6,1746.8 965.1,1734.7 972.0,1725.0C978.9,1715.3 988.1,1704.4 992.6,1697.6C997.1,1690.8 996.9,1686.9 999.0,1684.0C1001.1,1681.1 1003.0,1680.2 1005.0,1680.0C1007.0,1679.8 1009.1,1681.2 1011.0,1683.0C1012.9,1684.8 1013.9,1683.7 1016.6,1690.7C1019.3,1697.7 1023.5,1713.5 1027.0,1725.0C1030.5,1736.5 1034.1,1752.2 1037.3,1759.4C1040.5,1766.6 1041.9,1768.0 1045.9,1768.0C1049.9,1768.0 1054.7,1765.4 1061.3,1759.4C1067.9,1753.4 1077.4,1741.2 1085.4,1732.0C1093.4,1722.8 1103.2,1711.0 1109.5,1704.4C1115.8,1697.8 1118.6,1693.5 1123.2,1692.4C1127.8,1691.3 1131.8,1692.2 1137.0,1697.6C1142.2,1703.0 1149.4,1716.9 1154.2,1725.0C1159.0,1733.1 1162.7,1741.2 1166.0,1746.0C1169.3,1750.8 1171.0,1752.6 1174.0,1754.0C1177.0,1755.4 1178.7,1756.5 1184.0,1754.5C1189.3,1752.5 1198.2,1748.9 1205.8,1742.3C1213.4,1735.7 1222.9,1721.6 1229.8,1714.7C1236.7,1707.8 1240.7,1702.1 1247.0,1701.0C1253.3,1699.9 1260.8,1702.2 1267.7,1707.9C1274.6,1713.6 1281.4,1728.8 1288.3,1735.4C1295.2,1742.0 1301.5,1746.8 1309.0,1747.4C1316.5,1748.0 1325.0,1743.1 1333.0,1738.8C1341.0,1734.5 1349.0,1726.5 1357.0,1721.6C1365.0,1716.7 1373.5,1710.8 1381.0,1709.6C1388.5,1708.4 1394.9,1711.0 1401.8,1714.7C1408.7,1718.4 1415.5,1727.4 1422.4,1732.0C1429.3,1736.6 1436.7,1739.6 1443.0,1742.3C1449.3,1745.0 1457.0,1747.2 1460.0,1748.0C1463.0,1748.8 1460.6,1747.1 1460.7,1746.9" stroke="#ff0000" stroke-width="8"/>
</g>
<rect x="180.0" y="1413.5" width="1269.5" height="625.0" fill="none" stroke="#000" stroke-width="11.5"/>
<clipPath id="c2R"><rect x="1544.0" y="1413.5" width="635.0" height="625.0"/></clipPath>
<path d="M1592.8,1413.5v35.5M1592.8,2038.5v-35.5M1641.7,1413.5v35.5M1641.7,2038.5v-35.5M1690.5,1413.5v35.5M1690.5,2038.5v-35.5M1739.4,1413.5v35.5M1739.4,2038.5v-35.5M1788.2,1413.5v69.0M1788.2,2038.5v-69.0M1837.1,1413.5v35.5M1837.1,2038.5v-35.5M1885.9,1413.5v35.5M1885.9,2038.5v-35.5M1934.8,1413.5v35.5M1934.8,2038.5v-35.5M1983.6,1413.5v35.5M1983.6,2038.5v-35.5M2032.5,1413.5v69.0M2032.5,2038.5v-69.0M2081.3,1413.5v35.5M2081.3,2038.5v-35.5M2130.2,1413.5v35.5M2130.2,2038.5v-35.5M1544.0,2007.2h35.5M2179.0,2007.2h-35.5M1544.0,1976.0h69.0M2179.0,1976.0h-69.0M1544.0,1944.8h35.5M2179.0,1944.8h-35.5M1544.0,1913.5h35.5M2179.0,1913.5h-35.5M1544.0,1882.2h35.5M2179.0,1882.2h-35.5M1544.0,1851.0h69.0M2179.0,1851.0h-69.0M1544.0,1819.8h35.5M2179.0,1819.8h-35.5M1544.0,1788.5h35.5M2179.0,1788.5h-35.5M1544.0,1757.2h35.5M2179.0,1757.2h-35.5M1544.0,1726.0h69.0M2179.0,1726.0h-69.0M1544.0,1694.8h35.5M2179.0,1694.8h-35.5M1544.0,1663.5h35.5M2179.0,1663.5h-35.5M1544.0,1632.2h35.5M2179.0,1632.2h-35.5M1544.0,1601.0h69.0M2179.0,1601.0h-69.0M1544.0,1569.8h35.5M2179.0,1569.8h-35.5M1544.0,1538.5h35.5M2179.0,1538.5h-35.5M1544.0,1507.2h35.5M2179.0,1507.2h-35.5M1544.0,1476.0h69.0M2179.0,1476.0h-69.0M1544.0,1444.8h35.5M2179.0,1444.8h-35.5" stroke="#4a4a4a" stroke-width="5.2" fill="none" stroke-linecap="butt"/>
<g clip-path="url(#c2R)" fill="none" stroke-linejoin="round" stroke-linecap="round">
<path d="M1538.0,1754.6C1539.5,1754.4 1542.4,1754.4 1546.8,1753.7C1551.2,1753.0 1558.5,1751.2 1564.4,1750.2C1570.3,1749.2 1576.1,1748.4 1582.0,1747.5C1587.9,1746.6 1593.7,1745.8 1599.6,1744.9C1605.5,1744.0 1611.6,1743.2 1617.2,1742.3C1622.8,1741.4 1629.3,1741.2 1633.1,1739.6C1636.9,1738.0 1637.8,1736.7 1640.1,1732.6C1642.4,1728.5 1644.8,1720.9 1647.1,1715.0C1649.4,1709.1 1651.5,1701.5 1654.2,1697.4C1656.9,1693.3 1659.8,1692.7 1663.0,1690.3C1666.2,1687.9 1670.3,1686.8 1673.5,1683.3C1676.7,1679.8 1679.4,1674.5 1682.3,1669.2C1685.2,1663.9 1687.9,1656.3 1691.1,1651.6C1694.3,1646.9 1698.5,1643.9 1701.7,1641.0C1704.9,1638.1 1707.6,1637.8 1710.5,1634.0C1713.4,1630.2 1716.4,1623.2 1719.3,1618.2C1722.2,1613.2 1724.6,1608.2 1728.1,1604.1C1731.6,1600.0 1736.9,1596.7 1740.4,1593.5C1743.9,1590.3 1746.3,1588.5 1749.2,1584.7C1752.1,1580.9 1755.1,1574.7 1758.0,1570.6C1760.9,1566.5 1763.0,1563.3 1766.8,1560.1C1770.6,1556.9 1776.8,1554.5 1780.9,1551.3C1785.0,1548.1 1788.0,1543.9 1791.5,1540.7C1795.0,1537.5 1797.9,1534.8 1802.0,1531.9C1806.1,1529.0 1811.7,1526.0 1816.1,1523.1C1820.5,1520.2 1824.3,1516.9 1828.4,1514.3C1832.5,1511.7 1837.5,1508.6 1840.8,1507.3C1844.1,1506.0 1844.3,1508.1 1848.0,1506.5C1851.7,1504.9 1858.0,1500.2 1863.0,1497.5C1868.0,1494.8 1873.0,1492.2 1878.0,1490.0C1883.0,1487.8 1888.0,1486.0 1893.0,1484.0C1898.0,1482.0 1903.0,1479.5 1908.0,1478.0C1913.0,1476.5 1918.1,1475.5 1923.1,1475.0C1928.1,1474.5 1933.6,1474.5 1938.1,1475.0C1942.6,1475.5 1946.6,1476.2 1950.1,1478.0C1953.6,1479.8 1956.6,1481.8 1959.1,1485.5C1961.6,1489.2 1963.1,1492.0 1965.1,1500.5C1967.1,1509.0 1969.3,1523.1 1971.1,1536.6C1972.8,1550.1 1974.1,1564.1 1975.6,1581.6C1977.1,1599.1 1978.6,1621.6 1980.1,1641.6C1981.6,1661.6 1983.1,1681.7 1984.6,1701.7C1986.1,1721.7 1987.3,1741.7 1989.1,1761.7C1990.8,1781.7 1993.1,1802.8 1995.1,1821.8C1997.1,1840.8 1999.1,1859.8 2001.1,1875.8C2003.1,1891.8 2005.1,1907.3 2007.1,1917.8C2009.1,1928.3 2010.8,1934.3 2013.1,1938.8C2015.3,1943.3 2017.1,1944.5 2020.6,1944.8C2024.1,1945.0 2027.8,1942.8 2034.1,1940.3C2040.3,1937.8 2049.1,1934.0 2058.1,1929.8C2067.1,1925.5 2078.2,1920.8 2088.2,1914.8C2098.2,1908.8 2108.2,1900.3 2118.2,1893.8C2128.2,1887.3 2138.2,1882.3 2148.2,1875.8C2158.2,1869.3 2173.2,1858.3 2178.2,1854.8" stroke="#0000ff" stroke-width="8.5"/>
<path d="M1539.0,1755.6C1540.5,1755.4 1543.4,1755.4 1547.8,1754.7C1552.2,1754.0 1559.5,1752.2 1565.4,1751.2C1571.3,1750.2 1577.1,1749.4 1583.0,1748.5C1588.9,1747.6 1594.7,1746.8 1600.6,1745.9C1606.5,1745.0 1612.6,1744.2 1618.2,1743.3C1623.8,1742.4 1630.3,1742.2 1634.1,1740.6C1637.9,1739.0 1638.8,1737.7 1641.1,1733.6C1643.4,1729.5 1645.8,1721.9 1648.1,1716.0C1650.4,1710.1 1652.5,1702.5 1655.2,1698.4C1657.9,1694.3 1660.8,1693.7 1664.0,1691.3C1667.2,1688.9 1671.3,1687.8 1674.5,1684.3C1677.7,1680.8 1680.4,1675.5 1683.3,1670.2C1686.2,1664.9 1688.9,1657.3 1692.1,1652.6C1695.3,1647.9 1699.5,1644.9 1702.7,1642.0C1705.9,1639.1 1708.6,1638.8 1711.5,1635.0C1714.4,1631.2 1717.4,1624.2 1720.3,1619.2C1723.2,1614.2 1725.6,1609.2 1729.1,1605.1C1732.6,1601.0 1737.9,1597.7 1741.4,1594.5C1744.9,1591.3 1747.3,1589.5 1750.2,1585.7C1753.1,1581.9 1756.1,1575.7 1759.0,1571.6C1761.9,1567.5 1764.0,1564.3 1767.8,1561.1C1771.6,1557.9 1777.8,1555.5 1781.9,1552.3C1786.0,1549.1 1789.0,1544.9 1792.5,1541.7C1796.0,1538.5 1798.9,1535.8 1803.0,1532.9C1807.1,1530.0 1812.7,1527.0 1817.1,1524.1C1821.5,1521.2 1825.3,1517.9 1829.4,1515.3C1833.5,1512.7 1838.5,1509.6 1841.8,1508.3C1845.1,1507.0 1845.3,1509.1 1849.0,1507.5C1852.7,1505.9 1859.0,1501.2 1864.0,1498.5C1869.0,1495.8 1874.0,1493.2 1879.0,1491.0C1884.0,1488.8 1889.0,1487.0 1894.0,1485.0C1899.0,1483.0 1904.0,1480.5 1909.0,1479.0C1914.0,1477.5 1919.1,1476.5 1924.1,1476.0C1929.1,1475.5 1934.6,1475.5 1939.1,1476.0C1943.6,1476.5 1947.6,1477.2 1951.1,1479.0C1954.6,1480.8 1957.6,1482.8 1960.1,1486.5C1962.6,1490.2 1964.1,1493.0 1966.1,1501.5C1968.1,1510.0 1970.3,1524.1 1972.1,1537.6C1973.8,1551.1 1975.1,1565.1 1976.6,1582.6C1978.1,1600.1 1979.6,1622.6 1981.1,1642.6C1982.6,1662.6 1984.1,1682.7 1985.6,1702.7C1987.1,1722.7 1988.3,1742.7 1990.1,1762.7C1991.8,1782.7 1994.1,1803.8 1996.1,1822.8C1998.1,1841.8 2000.1,1860.8 2002.1,1876.8C2004.1,1892.8 2006.1,1908.3 2008.1,1918.8C2010.1,1929.3 2011.8,1935.3 2014.1,1939.8C2016.3,1944.3 2018.1,1945.5 2021.6,1945.8C2025.1,1946.0 2028.8,1943.8 2035.1,1941.3C2041.3,1938.8 2050.1,1935.0 2059.1,1930.8C2068.1,1926.5 2079.2,1921.8 2089.2,1915.8C2099.2,1909.8 2109.2,1901.3 2119.2,1894.8C2129.2,1888.3 2139.2,1883.3 2149.2,1876.8C2159.2,1870.3 2174.2,1859.3 2179.2,1855.8" stroke="#007a00" stroke-width="8.5"/>
<path d="M1540.0,1753.1C1541.5,1752.9 1544.4,1752.9 1548.8,1752.2C1553.2,1751.5 1560.5,1749.7 1566.4,1748.7C1572.3,1747.7 1578.1,1746.9 1584.0,1746.0C1589.9,1745.1 1595.7,1744.3 1601.6,1743.4C1607.5,1742.5 1613.6,1741.7 1619.2,1740.8C1624.8,1739.9 1631.3,1739.7 1635.1,1738.1C1638.9,1736.5 1639.8,1735.2 1642.1,1731.1C1644.4,1727.0 1646.8,1719.4 1649.1,1713.5C1651.4,1707.6 1653.5,1700.0 1656.2,1695.9C1658.9,1691.8 1661.8,1691.2 1665.0,1688.8C1668.2,1686.4 1672.3,1685.3 1675.5,1681.8C1678.7,1678.3 1681.4,1673.0 1684.3,1667.7C1687.2,1662.4 1689.9,1654.8 1693.1,1650.1C1696.3,1645.4 1700.5,1642.4 1703.7,1639.5C1706.9,1636.6 1709.6,1636.3 1712.5,1632.5C1715.4,1628.7 1718.4,1621.7 1721.3,1616.7C1724.2,1611.7 1726.6,1606.7 1730.1,1602.6C1733.6,1598.5 1738.9,1595.2 1742.4,1592.0C1745.9,1588.8 1748.3,1587.0 1751.2,1583.2C1754.1,1579.4 1757.1,1573.2 1760.0,1569.1C1762.9,1565.0 1765.0,1561.8 1768.8,1558.6C1772.6,1555.4 1778.8,1553.0 1782.9,1549.8C1787.0,1546.6 1790.0,1542.4 1793.5,1539.2C1797.0,1536.0 1799.9,1533.3 1804.0,1530.4C1808.1,1527.5 1813.7,1524.5 1818.1,1521.6C1822.5,1518.7 1826.3,1515.4 1830.4,1512.8C1834.5,1510.2 1839.5,1507.1 1842.8,1505.8C1846.1,1504.5 1846.3,1506.6 1850.0,1505.0C1853.7,1503.4 1860.0,1498.8 1865.0,1496.0C1870.0,1493.2 1875.0,1490.8 1880.0,1488.5C1885.0,1486.2 1890.0,1484.5 1895.0,1482.5C1900.0,1480.5 1905.0,1478.0 1910.0,1476.5C1915.0,1475.0 1920.1,1474.0 1925.1,1473.5C1930.1,1473.0 1935.6,1473.0 1940.1,1473.5C1944.6,1474.0 1948.6,1474.8 1952.1,1476.5C1955.6,1478.2 1958.6,1480.2 1961.1,1484.0C1963.6,1487.8 1965.1,1490.5 1967.1,1499.0C1969.1,1507.5 1971.3,1521.6 1973.1,1535.1C1974.8,1548.6 1976.1,1562.6 1977.6,1580.1C1979.1,1597.6 1980.6,1620.1 1982.1,1640.1C1983.6,1660.1 1985.1,1680.2 1986.6,1700.2C1988.1,1720.2 1989.3,1740.2 1991.1,1760.2C1992.8,1780.2 1995.1,1801.3 1997.1,1820.3C1999.1,1839.3 2001.1,1858.3 2003.1,1874.3C2005.1,1890.3 2007.1,1905.8 2009.1,1916.3C2011.1,1926.8 2012.8,1932.8 2015.1,1937.3C2017.3,1941.8 2019.1,1943.0 2022.6,1943.3C2026.1,1943.5 2029.8,1941.3 2036.1,1938.8C2042.3,1936.3 2051.1,1932.5 2060.1,1928.3C2069.1,1924.0 2080.2,1919.3 2090.2,1913.3C2100.2,1907.3 2110.2,1898.8 2120.2,1892.3C2130.2,1885.8 2140.2,1880.8 2150.2,1874.3C2160.2,1867.8 2175.2,1856.8 2180.2,1853.3" stroke="#ff0000" stroke-width="8"/>
</g>
<rect x="1544.0" y="1413.5" width="635.0" height="625.0" fill="none" stroke="#000" stroke-width="11.5"/>
<text x="162" y="199.6" font-size="59" text-anchor="end">5</text>
<text x="162" y="401.2" font-size="59" text-anchor="end">0</text>
<text x="162" y="602.9" font-size="59" text-anchor="end">-5</text>
<text x="162" y="887.6" font-size="59" text-anchor="end">5</text>
<text x="162" y="1089.2" font-size="59" text-anchor="end">0</text>
<text x="162" y="1290.9" font-size="59" text-anchor="end">-5</text>
<text x="162" y="1497.0" font-size="59" text-anchor="end">4</text>
<text x="162" y="1622.0" font-size="59" text-anchor="end">2</text>
<text x="162" y="1747.0" font-size="59" text-anchor="end">0</text>
<text x="162" y="1872.0" font-size="59" text-anchor="end">-2</text>
<text x="162" y="1997.0" font-size="59" text-anchor="end">-4</text>
<text x="223.8" y="2116" font-size="60" text-anchor="middle">-5</text>
<text x="442.7" y="2116" font-size="60" text-anchor="middle">0</text>
<text x="661.5" y="2116" font-size="60" text-anchor="middle">5</text>
<text x="880.4" y="2116" font-size="60" text-anchor="middle">10</text>
<text x="1099.3" y="2116" font-size="60" text-anchor="middle">15</text>
<text x="1318.2" y="2116" font-size="60" text-anchor="middle">20</text>
<text x="1544.0" y="2116" font-size="60" text-anchor="middle">-2</text>
<text x="1788.2" y="2116" font-size="60" text-anchor="middle">-1</text>
<text x="2032.5" y="2116" font-size="60" text-anchor="middle">0</text>
<text x="1452" y="2195" font-size="60" text-anchor="end">Time (µs)</text>
<text x="2184" y="2195" font-size="60" text-anchor="end">Time (µs)</text>
<text transform="translate(72,38.0) rotate(-90)" font-size="58.3" text-anchor="end">Sample charge (nC)</text>
<text transform="translate(72,726.0) rotate(-90)" font-size="58.3" text-anchor="end">Sample charge (nC)</text>
<text transform="translate(72,1414.0) rotate(-90)" font-size="58.4" text-anchor="end">HF voltage (kV)</text>
<rect x="1392.5" y="459" width="255.2" height="125.5" rx="20" fill="#fff" stroke="#111" stroke-width="6"/>
<text x="1520" y="542" font-size="82" text-anchor="middle">argon</text>
<rect x="1377" y="1147" width="286" height="124" rx="20" fill="#fff" stroke="#111" stroke-width="6"/>
<text x="1520" y="1231" font-size="82" text-anchor="middle">helium</text>
</svg></div></body></html>
